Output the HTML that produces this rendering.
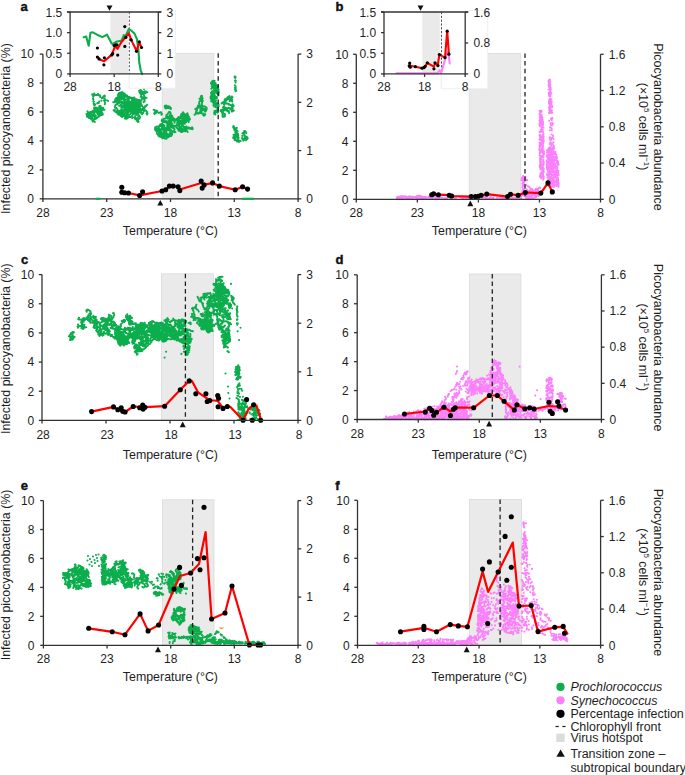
<!DOCTYPE html>
<html><head><meta charset="utf-8"><style>html,body{margin:0;padding:0;background:#fff;overflow:hidden}svg{display:block}</style></head>
<body><svg width="685" height="775" viewBox="0 0 685 775" font-family="Liberation Sans, sans-serif"><text x="20.50" y="10.70" font-size="13.0" text-anchor="start" fill="#111" font-weight="bold" stroke="#111" stroke-width="0.4">a</text>
<text x="335.50" y="10.70" font-size="13.0" text-anchor="start" fill="#111" font-weight="bold" stroke="#111" stroke-width="0.4">b</text>
<text x="21.00" y="264.20" font-size="13.0" text-anchor="start" fill="#111" font-weight="bold" stroke="#111" stroke-width="0.4">c</text>
<text x="335.50" y="264.20" font-size="13.0" text-anchor="start" fill="#111" font-weight="bold" stroke="#111" stroke-width="0.4">d</text>
<text x="20.80" y="489.80" font-size="13.0" text-anchor="start" fill="#111" font-weight="bold" stroke="#111" stroke-width="0.4">e</text>
<text x="335.20" y="489.80" font-size="13.0" text-anchor="start" fill="#111" font-weight="bold" stroke="#111" stroke-width="0.4">f</text>
<rect x="162.20" y="53.30" width="51.60" height="145.50" fill="#eaeaea" stroke="#dadada" stroke-width="0.8"/>
<rect x="469.20" y="53.50" width="51.50" height="145.80" fill="#eaeaea" stroke="#dadada" stroke-width="0.8"/>
<rect x="161.40" y="273.80" width="52.10" height="146.60" fill="#eaeaea" stroke="#dadada" stroke-width="0.8"/>
<rect x="469.50" y="274.00" width="51.40" height="145.50" fill="#eaeaea" stroke="#dadada" stroke-width="0.8"/>
<rect x="162.40" y="499.80" width="51.60" height="145.50" fill="#eaeaea" stroke="#dadada" stroke-width="0.8"/>
<rect x="469.50" y="499.50" width="52.10" height="145.80" fill="#eaeaea" stroke="#dadada" stroke-width="0.8"/>
<path d="M92.1 111.5h0m-.8 .8h0m-.7 .2h0m-1-.1h0m11.8-2.7h0m-.9-.1h0m-.7-1.2h0m.3-.8h0m.5-1.1h0m-1.2-.3h0m1.1-.1h0m-.9 .3h0m-.4 .5h0m-.1 1.1h0m-1.2 .7h0m-1 .4h0m-.6 .3h0m-1.1 .2h0m-.8-.1h0m-.1-.7h0m-.1-1.1h0m-5.2 10.2h0m.5-.1h0m1.2-.5h0m.9-.8h0m.8-.9h0m.9-1.1h0m1-.8h0m0-.9h0m-1-1.1h0m.7-.9h0m.8-.5h0m1.2-.1h0m1.4 .5h0m.5 1h0m.7-.1h0m.7-.2h0m1.1 .3h0m.8 .1h0m.6 .3h0m.6 1.3h0m.3 1.2h0m-8.6-3.1h0m-.5-.2h0m-.4-.4h0m-.4 9.8h0m.8 .6h0m1.2 .7h0m-1.1-.7h0m-1 .1h0m.4-.7h0m.8-.7h0m.3-1.2h0m1.1 .2h0m.5-.3h0m.9-.4h0m-.8-.5h0m-.1-1.4h0m0-.8h0m7-1.2h0m-.5 .3h0m-.6 .3h0m-10.8-1.1h0m-.2 .6h0m-.9 1.1h0m-1.1 .3h0m-1.1 .7h0m.4 .3h0m7.8 .6h0m-.9-.2h0m-.7-1h0m-.2-.7h0m-1.1-.7h0m.7-1h0m-.2-.6h0m-.2-.9h0m-1.5-.3h0m-.7-.4h0m.2 2.6h0m-.6 .5h0m-.6 .8h0m-1 .4h0m12.6-8.4h0m-.6 .9h0m-.3 1.3h0m-1 .5h0m-.2 .8h0m-.6-.4h0m-.5-.1h0m-.7-.1h0m-1.4-.2h0m-.6 .4h0m-.8 1.2h0m-.5 .1h0m-.8 .8h0m.1 1.1h0m-.3 .6h0m-.6 1.2h0m-.3 1.4h0m-.4 1.3h0m-.4 1.4h0m.1-.6h0m-.6-.5h0m-.6 0h0m-.4-.6h0m-.2-1.1h0m.9-.8h0m.6-.5h0m.7 0h0m.8 .5h0m1.3 .4h0m1 .2h0m.9 1.1h0m.9-.2h0m.9-.7h0m.5-.3h0m1-.6h0m1.2-.8h0m.5-.6h0m.1-.7h0m-6-3.7h0m.2-.5h0m.2-1h0m-.2-1.3h0m-1.3 .5h0m.2 .6h0m7.2 5.8h0m.9 .3h0m-.4-.8h0m-.6-1.1h0m-1.2-.3h0m-.5-.2h0m-1 .7h0m-.5 .9h0m-.3 .5h0m.3 .7h0m.7 .9h0m-.2-1.3h0m.9-.4h0m1.5-.1h0m.6-.6h0m-.3-1.1h0m-.1-1.1h0m.3-1.2h0m.9-1.1h0m.4-1.3h0m-.2 .6h0m.3 .4h0m.8 1h0m.6 0h0m-1.3-.1h0m-1.1-.4h0m-1.1 .2h0m-.7 .4h0m-.6 .6h0m-1.1-.2h0m-1-1.1h0m-.3-.9h0m-.4-.6h0m-.2 1.1h0m.1 1h0m.5 1h0m-.5 .9h0m-9.8 5h0m.4-1h0m.4-1.4h0m.3-.5h0m.7-1.2h0m-.7-.4h0m-.6-1h0m.4 1.3h0m.1 .7h0m-.1 1.4h0m-.4 1.4h0m-.6-.6h0m0-.9h0m-.4-.4h0m1.4 .2h0m.4-.3h0m.6-.2h0m1.1-.6h0m.5-.4h0m0-.6h0m1.1 .1h0m1.3 .5h0m1.5 .2h0m.1 1h0m.8 1.3h0m0 1.1h0m.4 1.1h0m.3 1.2h0m.6-.2h0m6-4.1h0m-.7-.5h0m-.8-.3h0m-.7-.3h0m-.9 0h0m-.5 .4h0m-1.5-.1h0m-.5-.9h0m-.5-.8h0m.7-1h0m.8 .5h0m.9 .2h0m1.1 .5h0m.6 1.1h0m-6.9-18.1h0m.2 6.6h0m-.8-5.5h0m1.2 9.3h0m-1.3-7.1h0m.4 1.4h0m.3 2.3h0m.5 1.7h0m-.6-7.5h0m-.2-2.1h0m0 7.6h0m-1.2-7.5h0m.9 1.8h0m.6 7.8h0m-.3-7.3h0m-1.1-1.8h0m3.6 .3h0m-2.5-.7h0m.9-.9h0m4 1.6h0m-.1-.2h0m-1.4 .2h0m1.2-1.1h0m.7 1h0m-3.7 0h0m5.3 1.9h0m-.4-1.6h0m.2 1.3h0m1.8 1.7h0m-2.4-2.8h0m-.1-.2h0m4.1 1.1h0m-.7 .9h0m.1 .1h0m-.5 .5h0m.9-1.1h0m1.5-.5h0m0-.3h0m0 8.2h0m0-2.1h0m-.9-1.9h0m.8-1.8h0m-.9-.7h0m.2-1.2h0m.9 3.7h0m.2 2.9h0m-.4-1.3h0m.9-1.8h0m-1.1-3.9h0m-.7 .1h0m.8-.7h0m-5.4 6h0m-1.3 1.3h0m-.2 .4h0m3.7-2.4h0m-4.2 2.5h0m.2-.1h0m1.3-.3h0m-3.4 1.7h0m12.7-3.6h0m-.5-.5h0m29.8-.7h0m-1.1 .5h0m-1 .4h0m-.6 .4h0m-.8 .6h0m-.6 .9h0m-.4 .3h0m-1.4 .3h0m-1 .4h0m-.7 .3h0m0 1.1h0m.1 1.2h0m.8 .2h0m1 .7h0m.3 1.4h0m.3 .4h0m-11 4.1h0m1.3-.2h0m.1 .9h0m.4 .2h0m.1 .7h0m0 .7h0m-.4 .8h0m-.3 .8h0m-.5-.8h0m-1-.2h0m.7-.8h0m.5-.4h0m.1-.8h0m-.2-.9h0m-.3-.7h0m.9-.5h0m.3-.3h0m.4-.5h0m-.2-.5h0m.1-.5h0m.9-.6h0m.6-1h0m-.1-1.3h0m0-1.1h0m-.5-1.3h0m-.6-1h0m-.4-1.1h0m-.5-.6h0m10.2 10.1h0m.4-.2h0m1.1 0h0m1.1-.7h0m1.5-.2h0m.8-.5h0m.6-.3h0m.8-.4h0m.2-.5h0m0-1.4h0m.5-1.2h0m.5-.7h0m.8-.4h0m.1-.6h0m-.6-1.3h0m-.2-.4h0m-.6-1h0m-.9 .2h0m-.9 .2h0m-.6 .7h0m-1 .6h0m-.9 .8h0m-.9 1.1h0m.5 .6h0m1.3 .3h0m.6 .8h0m-.2 .5h0m-.9 .5h0m-1.1 .7h0m-.3 .8h0m-.1 .8h0m.6 1.3h0m.7 1.1h0m.2 .6h0m.3 1h0m-1 1.1h0m-.4 1.2h0m-1.7-9.1h0m.2-.6h0m.7 0h0m.4 .7h0m.8 1.2h0m0 .6h0m.4 .5h0m-.5 .9h0m-.1 1.3h0m-.5 .8h0m-.8 .7h0m-.9 .3h0m-.6 1.4h0m0 .5h0m.5 .8h0m-.4 .8h0m.5-.8h0m-.5-.3h0m-.4-.4h0m-1.4 .5h0m-1-.1h0m-.6 .2h0m-1.2 .8h0m-1 .9h0m-10.3-10.7h0m.8 .9h0m.3 .6h0m.3 1.1h0m.5 .2h0m.9 .4h0m1.2 .5h0m.5 .7h0m.6 1h0m-.9 .9h0m-.8 .9h0m-.2-1.3h0m-.8-1h0m-.4-.4h0m12.5-9.7h0m.7 .3h0m1.3 0h0m.5 .2h0m.6-.5h0m-.3-.9h0m-.3-.8h0m1.1-1h0m.6-.7h0m.5-.2h0m.2 .8h0m.5 1.3h0m-.9 1.1h0m-.5-.5h0m-.1-.6h0m-1.3-.4h0m-.4-.6h0m.1-1h0m-1.3-.6h0m-.5-.9h0m-1-.3h0m-.8-.6h0m-.6-.2h0m-1.4 0h0m-1.4-.1h0m-.9 0h0m-.7 .6h0m-.6 1.3h0m-.2 1.4h0m.5 .7h0m.3 1.1h0m-.3 1h0m-.2 1.3h0m.2 .8h0m.1 1.2h0m-.5 .6h0m0 .6h0m.5 .3h0m.6-.5h0m1.2-.8h0m.7 0h0m1.5 0h0m1.1 1h0m.9 .4h0m-3.2-3.3h0m.5-.3h0m.6-.9h0m.9-.7h0m.5 0h0m1.4 .5h0m.8-.8h0m.2-.5h0m0-1.1h0m.9-1h0m.8-1.1h0m.6-.9h0m-1.3 .2h0m-7.7 3.5h0m.6 .2h0m.8 .7h0m.2 .7h0m.3 .4h0m1.1 1h0m0 1h0m-.5 .6h0m-.3 1.3h0m.7 .1h0m.6 .4h0m1.3 .4h0m.5 .4h0m.2 1.2h0m.3 1.4h0m-.1 .8h0m-14.2-11.7h0m.6 1h0m-.3 1.3h0m0 .7h0m-.8 1.1h0m-.8 .4h0m-.4 1.3h0m-.3 1.4h0m1.2 .6h0m.9-3.6h0m1.2-.8h0m1.2-.8h0m-.9-1h0m-1.3-.5h0m-.5-.4h0m-.9 .2h0m-.8-.2h0m.4-1.2h0m.9-1h0m.7-.7h0m.4-.3h0m.2-.5h0m1.1-.1h0m1.1-.6h0m1.5 .3h0m1.3-.5h0m.1-.5h0m1.1-.7h0m.8-1h0m-.3-.6h0m-.6 1h0m-.6 .7h0m-1.1 0h0m-.7 .1h0m-1.2 .2h0m-.5-.6h0m-.5-.6h0m.4-1.4h0m1.1-.2h0m.8 .7h0m.9-.1h0m.6-.2h0m-.2-.6h0m-1.3 .7h0m-.3 .9h0m-.3 1.3h0m-.8-.5h0m5.8 12.7h0m.9-.7h0m.3-1h0m-.1-.9h0m.8-.7h0m.8-1.1h0m.1-.9h0m.2-.7h0m.1-1h0m-.3-1.4h0m-.5-.5h0m-.2-1.3h0m-.6-.9h0m-1-1h0m-1.2 0h0m-.9-.3h0m-.7 .1h0m-.3-1.1h0m-.4-1h0m-2.4 20.4h0m.5 .1h0m.5 .5h0m.8 .8h0m.6 .4h0m1.1 .5h0m1.3 0h0m.8 .2h0m.5-.1h0m.4-.5h0m11.4 0h0m.5 .4h0m.9 .4h0m.4 1.2h0m-.7 1.1h0m-1 1h0m-.4 .8h0m-.6 .3h0m-10.8-15h0m-.4-.5h0m.3-.8h0m.4-.7h0m.3-1.3h0m.3-.5h0m.1-1.2h0m-.5-1.1h0m.3-1.1h0m1.2-.2h0m.9-.1h0m1.2-.2h0m.6 .2h0m.4 1.1h0m1.1 11.6h0m.9-.5h0m.7-.8h0m1.5-.4h0m.4-1h0m.2-.9h0m.1-.5h0m-.7-.8h0m-1.1-.4h0m-.5-.8h0m-1.2 .1h0m-.6 0h0m-.6 .2h0m-.8 .8h0m-.7 .9h0m-.7 1h0m-.5 0h0m-.6-.3h0m-.8-1.1h0m-1.1 .4h0m11 10.7h0m1 1h0m-.7 .1h0m-.6 .4h0m-.2 .8h0m-.5 .9h0m1.4-13.4h0m.5 .8h0m-.1 1.4h0m-.4 .6h0m-.9 .5h0m-.7 1h0m.6 .8h0m.2 1.3h0m-5.7-10.1h0m-1.2 .1h0m-.3-.5h0m.6-1.3h0m.7-.7h0m.9-.8h0m1-.4h0m1.1-.8h0m.8 .9h0m1.5 0h0m-.4-.9h0m-.2 1.1h0m-.4 .6h0m.6 .9h0m-.6 1.3h0m-.8 .7h0m-.7 .8h0m-.1 .6h0m-.2 .6h0m-.3 1.1h0m-.3 .7h0m-.6-.6h0m-.8 0h0m-.9 0h0m-1.1-.1h0m-.6-.2h0m-.5 .5h0m-.6 1h0m-.2 .6h0m-.3 .6h0m-1 .2h0m-.9 0h0m-1.1-.5h0m-.6 .4h0m-.8 .6h0m14.9-6h0m.6-.4h0m.9-.2h0m.9 .2h0m.5 .3h0m.4 .7h0m-.2 1h0m.8 .4h0m.8 .9h0m.3 .7h0m-21.6-2.7h0m5.7 8.8h0m.1 .6h0m.2 .8h0m-.3 .6h0m-.8 .9h0m-1.2 .8h0m-.4 1h0m.5-.7h0m.5-.9h0m1-.3h0m1-.8h0m0-1.4h0m-1-.5h0m-11.4-2.4h0m1-.2h0m.4 .3h0m.6 .9h0m-.2 1h0m.8-1.2h0m1.2-.9h0m.8-.5h0m1.1-.7h0m.2-1.1h0m.2-1.1h0m.4-1.4h0m.7-.2h0m1.5 .2h0m.5 .4h0m.8 .1h0m.8 .8h0m9.2 9.9h0m-.8 .7h0m1.1 .8h0m1 .5h0m.7 .3h0m-.3-.7h0m-.9-.6h0m-.8 .1h0m1 .4h0m.8 .4h0m.6 .9h0m.6 1.1h0m-.6 .3h0m-18.2-27.2h0m-.2-.7h0m.1-.5h0m.7 0h0m1.1-.5h0m.2-.8h0m-.7 .2h0m-.5 .2h0m-1.2 .4h0m-.4 .4h0m-.4 .6h0m-.4 .6h0m.1 1h0m.9 .9h0m1.2 .5h0m.9 1.1h0m0 .7h0m.9 .1h0m.3-.5h0m.1-.7h0m-.2-1.4h0m.4-1.3h0m.2-1.3h0m-.1-.5h0m-.6-1.3h0m.9 1.1h0m12.7 20.4h0m.7-.5h0m1-.1h0m.8-1.3h0m1.3-.4h0m.5 .3h0m.7 1.3h0m.6 .4h0m.6-.1h0m-.5-.5h0m-.8-.7h0m-.4-.5h0m-.7 .3h0m-.7 .8h0m-.6 1.2h0m.5 1.4h0m-3.5-8.5h0m.7-.1h0m1.5 0h0m1.2 .8h0m.6-.3h0m.6 .6h0m-.2 .6h0m0 .8h0m.1 .7h0m1.1 .9h0m.6 0h0m.5-.1h0m1-.9h0m.7-.2h0m.6 0h0m0-1.1h0m.4-.8h0m.2-.7h0m.6-.7h0m1.1-.5h0m.7-.8h0m-1 1.1h0m-1 .9h0m-.4 .3h0m-.2 .7h0m-8.5-4.5h0m1.4 .3h0m.4-.7h0m.9 .6h0m.9-.3h0m.6-.5h0m.4-.7h0m-.1 .7h0m-.1 1.1h0m-.3 .9h0m-1.1 .7h0m-.9 1h0m-5-4.8h0m-.1-.9h0m.1-1.1h0m1.1-.4h0m-.8-.3h0m-6.9 13.7h0m.8-.4h0m.4-.3h0m.4-.9h0m1.2 0h0m.2-.8h0m-1 .7h0m-1.1 .6h0m-.8 .1h0m-.8-.5h0m-.4-.4h0m-1.1-.1h0m-.5 1h0m-.2 1h0m.5 1h0m-.3 1h0m-.1 1.2h0m-1.2 .8h0m-.9 .1h0m.5-.6h0m0-1.3h0m.7-.7h0m.4-.8h0m1.2-.3h0m1.1 .6h0m1-.1h0m.7 .6h0m.5 .8h0m-.3 .7h0m-.6 .3h0m-.6 .9h0m.1 .8h0m-.1 .5h0m-.4 .5h0m.9-.4h0m.1-.5h0m0-1.1h0m.3-.8h0m-.6-1h0m.1-.7h0m.2-.8h0m.7-.7h0m.6-.1h0m.6-.6h0m1.2-.4h0m.9-.5h0m1.2-.7h0m.4-.7h0m.9-.7h0m1.1-.6h0m1-.2h0m.4-.7h0m.8-.8h0m.6-.7h0m1.3-.6h0m.3-.5h0m-.2-.8h0m.2-.7h0m-.1-1h0m-.2-1h0m.2-.7h0m.3-.5h0m-.6 .2h0m-1.1 .5h0m-.1-.6h0m-1.5 .1h0m-1.1-.2h0m-.4-.7h0m-.4-.4h0m-15.8 4.2h0m1.2-.3h0m1.1-.7h0m-.6-1.2h0m-.3-.7h0m-.5-1.2h0m.5-1.1h0m-.4-.7h0m27.4 16h0m.7 .5h0m-.2 .7h0m.5-1h0m-.3-1.4h0m-.8-.8h0m-1.1-.9h0m-.4-.3h0m-.7-.3h0m-.2-.9h0m-1.2-.2h0m-.5 .3h0m-.7 .2h0m-1.1-.3h0m-1.5-.1h0m-.8-.7h0m-.7 .2h0m0 1.2h0m-.8 .3h0m-.2 .5h0m0 .7h0m-.7 .6h0m-.8 .9h0m-.7 .3h0m-1.3 .5h0m-1.2-.9h0m-.9 1.2h0m-1 1.1h0m-.6-.2h0m-.7 .1h0m-1-.4h0m-.8 .1h0m-1.1-.8h0m-.8-17h0m.8-.3h0m.5-.2h0m.9-.4h0m-.6-.2h0m-.8-.1h0m-1.4 .4h0m-.9 0h0m-.4 .7h0m-.4 .5h0m-.6 .1h0m-1.1 .4h0m-.8-.1h0m-.4-3.4h0m.8 .4h0m.9 .9h0m.2 .6h0m.6 .3h0m-4.5 4.7h0m.2-1h0m-.1-.9h0m-.7-.8h0m-.8 0h0m-1 .9h0m.7-.7h0m3.1 7.5h0m.6-.2h0m.9-.8h0m1.1-.8h0m1.4-.4h0m.7-.3h0m1.3-.7h0m1 .6h0m.9 1.1h0m.5 .5h0m.9 1.2h0m-.1 1h0m0 .7h0m-.4 1.4h0m-.1 1h0m.2 .5h0m.5 .9h0m-9.2-16.4h0m-1.2-.6h0m.6-.3h0m1.2-.5h0m.6 .2h0m.1 .7h0m.2 .8h0m.9 .7h0m.5 .2h0m.6-.1h0m.7-.1h0m.9-.9h0m.7-.9h0m-.5 .1h0m-.9 .6h0m-.6 1.3h0m.5 .8h0m.4 .9h0m.6 1.1h0m.7 .2h0m5.9 9.4h0m-.4 .3h0m-.2 .9h0m-.7 1h0m-2.5 4.1h0m.2-.9h0m-1-.9h0m-.5-.3h0m-12.8-10.7h0m.6 0h0m1-.1h0m1.3-.3h0m.4-.6h0m.7-.6h0m.7-.4h0m.6 0h0m.5 1h0m.7 0h0m1.3 .7h0m.7 .8h0m0 1.1h0m-.2 1.1h0m-.1 1.4h0m-.2 1.1h0m.7 .7h0m-.4 .7h0m-.1 .7h0m-.4 1.2h0m.4 1.5h0m-.4 1h0m-.4 1.2h0m-.6-.4h0m-.8-1.2h0m-.8-.6h0m-.9 .6h0m.3 .6h0m.4 1h0m-.6-.9h0m0-1.3h0m-1.2 0h0m-.9-.2h0m-.5-.4h0m-.4-.4h0m-.5-.4h0m-.6-.6h0m1.3-.4h0m11.3 4.2h0m.8-.9h0m.8-.7h0m.5-.5h0m.6-1.2h0m.7-1h0m.7-.8h0m.6-.4h0m.6-1.4h0m-.8-.1h0m-1.4 .1h0m-1-.7h0m-.6 .1h0m-.6-.2h0m-.9-.3h0m-.7-1h0m-.8-.5h0m-1.2-.9h0m-.7-.6h0m-.6-.8h0m-.6-.9h0m-.9 .1h0m-.6-.3h0m2.3 10.9h0m.4 1.2h0m.3 .4h0m11.8-4.8h0m-.6-.9h0m-.7-.7h0m-1.2 .2h0m-.7 .6h0m-1.1 .5h0m-1.2-.4h0m-.2 .9h0m.7 1.4h0m12.2 3.9h0m.7-1h0m.5-.6h0m.5-1.4h0m.9-.7h0m1.4 .2h0m-.2-18.3h0m.2-.7h0m1.2 .5h0m-1.3-.6h0m-1.1 .2h0m-.6-.2h0m-1.4 .1h0m-.2 .5h0m.8 .6h0m.8-.7h0m.7 0h0m.9 .5h0m-1 .8h0m-1 .4h0m-.9-.5h0m-.9-1.2h0m0-.7h0m-1-.4h0m-1.1 .6h0m-.3 .5h0m.9 1.7h0m-.2-1.4h0m-.4-.5h0m-.3-.7h0m.1 1.2h0m.2 .6h0m-.7-1.3h0m.6-.8h0m.4-.8h0m-1.1 .7h0m.6 1.2h0m6.7 5.7h0m-1.1 .6h0m-1.5-.2h0m-1-.7h0m-.7 .4h0m-.5 1.3h0m-.6 .9h0m-1.2 .5h0m1.2-.2h0m.7-.6h0m.6-1.4h0m.8-1.1h0m-1.4-.5h0m2.8-.1h0m-.2 1.1h0m-.4-8.9h0m.7 2.4h0m-.4 8.6h0m-.3-2.8h0m.2-4.7h0m.5 8.8h0m-.7-5.7h0m.2-3.5h0m-.1 1.1h0m.1 6h0m-.6-1.7h0m.4-3.7h0m-.4 1h0m.1 7.4h0m-.7-8.8h0m.5 8.8h0m-2.2-5.2h0m.8-2.9h0m-1.5-3.5h0m.8 1.3h0m-.7-1.8h0m.1 6.8h0m.8-3.8h0m.3-.6h0m-1.8-1.9h0m1.1 5.3h0m14.1 15.8h0m-.5 .9h0m-.6 .8h0m.4 .8h0m.9-1h0m.8-.3h0m.3-.5h0m.7-1.2h0m4.3 2.9h0m-.2 .8h0m.6-.7h0m-.7-1.1h0m-.3-.8h0m-.8 .2h0m-1.3 .6h0m-1.3-.8h0m-.7-1.2h0m-.4-.5h0m-1.2 0h0m-1.1-.4h0m-.5-.3h0m28.6 6.5h0m.1-.8h0m0-.7h0m-.4-1h0m.9-.6h0m.2-.9h0m.7 1h0m.6 .7h0m.6 .9h0m.9 1h0m.2 .6h0m.7 .3h0m.3 .8h0m.5 1.2h0m.8 .5h0m.7 0h0m.8 .1h0m-.2-.9h0m-.8 .9h0m-.5 .7h0m0 1.1h0m.3 .9h0m-24.4 4.5h0m-.8 .8h0m-.9 .5h0m-.6 .5h0m-.4 1.1h0m-.7 1h0m-.6 .7h0m-1.1 .3h0m-.4 .4h0m4.1-4.4h0m.3 .5h0m.5 .4h0m.6 .7h0m1.4 .4h0m.7 1h0m.2 1h0m-.3 1.2h0m.7 1h0m.9 .7h0m.2 .6h0m.5 1.1h0m.1 1h0m-1.1-.4h0m-1-.6h0m-.7-.5h0m-.7-.2h0m-.8 .1h0m.1-1h0m-.1-.9h0m-.4-1.1h0m0-1.1h0m.1-1.3h0m.3-.9h0m.9-.5h0m.5 .9h0m.6 .1h0m.9 .1h0m1-.2h0m1.2-.3h0m.3 .6h0m.4 .3h0m.4 .5h0m.8 .1h0m.9 .6h0m1.2 0h0m.6 .7h0m.8 .2h0m-1-.8h0m-1.2 .1h0m-.6 1.4h0m-.2 .7h0m.2 .9h0m-.7 .8h0m-.6 .4h0m-1.3-.5h0m-.6-.2h0m-4.1 .2h0m-.4 1.1h0m.2 1.4h0m.2 .7h0m-.7-1h0m.1-.5h0m.5-1.2h0m.9-.7h0m1.2 0h0m1-.1h0m1.2-.1h0m.5-.2h0m-.1 .6h0m.1 .7h0m.5 0h0m1.2 0h0m-.2-.7h0m-.3-1.3h0m-2-3.9h0m.5-1h0m.7-.4h0m4-7.7h0m.7 .5h0m0 1.2h0m8.7 .2h0m.7-.6h0m.1-.6h0m-1-.9h0m-1.3 0h0m-.9 .4h0m-1.4 .2h0m-1-.2h0m-.6-.5h0m-1-.8h0m.7 1h0m1.2 .9h0m.6 .5h0m-13.1 13.6h0m.5-1.4h0m-.5-1.3h0m-.6-.4h0m-1-.1h0m-.8 .1h0m-.6 .1h0m-.6 .5h0m.3 .8h0m-.8 .7h0m-.4 .5h0m-1.3 .3h0m-1.2-.1h0m-1.1-.8h0m-.9-.9h0m-.4-.7h0m.2-1.3h0m-.3-1.4h0m-.5-.9h0m-.4-1h0m-.8-.2h0m0 .7h0m.1 .8h0m8.8-8.3h0m-1.1 .8h0m-.8 1.1h0m-.4 1h0m-.3 .4h0m.3 1.5h0m.3 1.3h0m1.2-.9h0m.2-1.1h0m-.4-.8h0m-.5 .1h0m-.3 .6h0m-1.2 .2h0m-.6-.1h0m-.6 .1h0m-1.3 .8h0m-.2 1h0m-.2 1h0m-.3 .4h0m-.2 1.1h0m-1 .6h0m-.4 .4h0m-.2-1.1h0m26.1-6.7h0m.7-.4h0m.8 .4h0m1.2 .5h0m-5.9-.6h0m1.1 .9h0m-.6 .9h0m.1 .7h0m-.6-.1h0m-1 .2h0m-1-.7h0m-.9 .4h0m-1.1 .4h0m-1.1 .4h0m-1.1-.5h0m-1.2 .4h0m-1.4 0h0m-.9-.4h0m-1.4-.2h0m-.5-.5h0m15-.2h0m-.6-.8h0m-.3-1.2h0m-.1-1.1h0m1.1-1h0m.6-1.1h0m-.6-1h0m-.5-.4h0m-.4-.3h0m-.6-.6h0m.3-1.4h0m.1-.7h0m-.7 1.3h0m-.6 1h0m-1.3 .7h0m-.6 1.1h0m-.3 .5h0m-8.2 4.9h0m14.7-3.6h0m1.3-.1h0m.8-.8h0m.7-.7h0m1.1-.3h0m.6-.3h0m.6 0h0m-1.3 0h0m-1.3-.3h0m-.6-.2h0m-.2-1.1h0m.7 .6h0m1.5-.1h0m.8-1.2h0m-23.2 11.4h0m1-.5h0m.9-.3h0m-.4-.9h0m0-.7h0m.1-.8h0m.3-.6h0m-.4-1.1h0m-1.1-.8h0m-1.1-.7h0m-.5-.5h0m-.6-.3h0m-.3-1.1h0m.1-.9h0m15.5 4.4h0m.7-.7h0m1.2-.1h0m.4-.4h0m-1-.9h0m-.7-.4h0m-.5-1.4h0m.2-.5h0m-1.1-.9h0m-.8 .1h0m.4 1.1h0m0 .6h0m-.1 .8h0m.7 1.1h0m1.3 .6h0m.7 .5h0m.4 .6h0m1.2 .7h0m.5 .8h0m-18 10.3h0m.1-1.3h0m-.8-.7h0m16.3-10.1h0m-.6 .2h0m-.8 .3h0m-1.1 .1h0m-.8-.6h0m-2.3 8.6h0m.6 .3h0m-12.6 6.2h0m-.5-.1h0m-.9-1h0m-.2-1.1h0m-1.4-.5h0m-.9-.3h0m1.2-.3h0m1.1-1h0m.5-.9h0m-.1-.6h0m-.3-1.3h0m-.3-.7h0m.3-.4h0m1.2-.3h0m.8-.3h0m-.3-.9h0m-.3-1.3h0m0-.6h0m-.3-1h0m-.9-.6h0m-1.4-.4h0m26.4 1.9h0m-.3 1h0m-1.3 .4h0m-.5 .6h0m-.3 .5h0m0 1.5h0m-3.2-14.9h0m2 9.7h0m-.1-1.4h0m.1-1.4h0m1.2-.7h0m1.4 .4h0m.6 .1h0m.1-1.1h0m-1.1-.8h0m-.4-.7h0m-.6-1.1h0m0-1.4h0m-.6-1.1h0m-.6-1h0m-.3-1.4h0m-.6 .1h0m-.8 .4h0m.8 .7h0m1.2-.2h0m.6 .1h0m1.5 .4h0m.9-.6h0m.9 .7h0m1 .9h0m-.2-.5h0m.1-.7h0m-.5-1h0m-.1-.6h0m-.7 .7h0m.6 1.1h0m-.1 1h0m1.2 .4h0m-1.1-.4h0m-.7 .1h0m-.6 .6h0m-24.6 18.8h0m-1-.7h0m.5-1h0m.5-.4h0m-3.9-4.1h0m.9 .2h0m.6 .8h0m.7 1h0m.2 1.3h0m-.2 1.3h0m-.5 .6h0m-.5 1.4h0m.5-.5h0m1.2-.5h0m.7-1.2h0m-.1-.9h0m-.3-1.5h0m.3-1.4h0m-.3-.5h0m-.7-.6h0m-.6-.4h0m-.5-.6h0m-.4-.5h0m-.2-.7h0m.3-.6h0m1 0h0m.6-.2h0m-.1-.5h0m.1-.7h0m.6-.5h0m.7-.6h0m1.1 1h0m.1 .7h0m1.3 .1h0m.5 .1h0m.6 12.8h0m1.1 .3h0m.6-.2h0m.1-1.2h0m-.8-1.3h0m-.3-1h0m.4-1.4h0m-1.1-.6h0m-.3-.6h0m0-.5h0m.7-.5h0m.5 .2h0m.2-1.4h0m.5 0h0m.4-6.4h0m1.1 1h0m-.2 .7h0m-.5 1h0m-.1 1.3h0m-.2 .6h0m-1.2 .1h0m-.5 0h0m5.6 1.7h0m-.9 1.1h0m0 1.3h0m-.6 1.3h0m-.2 .7h0m-.4 .5h0m-.9 1h0m-.2 .5h0m-.7-.1h0m-.8-.8h0m-1.3-.1h0m-1.4 .2h0m-1.2 .5h0m-1.2 .2h0m-1.2 .3h0m-.5-1.3h0m-1-.9h0m.3-.6h0m.8 .4h0m.7-.2h0m.4 .5h0m-1.4 .2h0m-1.3 .1h0m1.2 .1h0m1.4 .4h0m13.9-5.9h0m-.4-.6h0m0-.6h0m-.6-.5h0m-.7-.2h0m-1.1-.1h0m-1.2-.7h0m-.3-.5h0m.4-1h0m-.4-1.2h0m.2-.8h0m.7-.8h0m.6 .4h0m.7 1.2h0m-.7 .6h0m-1.3 .3h0m-1.3 .4h0m-2.4-8h0m1 1.1h0m.6-.2h0m1.3-.7h0m1.3 .4h0m0-.8h0m.3-1.2h0m1.1 .5h0m.6 1.4h0m.1 .5h0m.8 .4h0m1.2 .5h0m.8 .8h0m.5 .3h0m1.2 .4h0m.9-.1h0m.5-.2h0m.5-.1h0m1.2 .5h0m.7 1.1h0m.2 .5h0m-.3 0h0m.4 1.5h0m.1 .5h0m.1 .7h0m.5 .6h0m.9 .7h0m.4 .4h0m.7 .1h0m.4-.4h0m1 .6h0m.4 .4h0m.3 .4h0m-.1 .8h0m-1 1h0m.3 1h0m1.5 .3h0m.5 .8h0m-16.3-7h0m.3-.8h0m-.1-1h0m12.6-6.5h0m1 .5h0m-26.7 12.4h0m-1 .7h0m-.9 .5h0m.9 .1h0m.6-.3h0m1.2-.1h0m1.4 .4h0m.8-.9h0m-.8-.7h0m-1.3-.2h0m-1.3-.1h0m-1.1 .1h0m-.8-.3h0m-.4-1h0m.9-1.2h0m-1.5 .8h0m14.7 3h0m.1-.8h0m-.3-.5h0m-.5-1h0m-.7-.5h0m-.7-.5h0m-.9 .6h0m21.1-6.6h0m.8-.4h0m-1.4-.7h0m-.4-.8h0m-.3-.5h0m-.7-1.2h0m-.8-.4h0m-.3 .5h0m-1.4 .4h0m-1.1 .7h0m-.7-.1h0m-1.1-.3h0m-15.1 .1h0m.7-.6h0m.1-1.4h0m.1-1.3h0m.7-.5h0m.7-.6h0m.7-1.3h0m.7-1h0m1 .5h0m.1 .6h0m.3 .5h0m-.3 1.1h0m.2 .5h0m1.4 .6h0m-.8-.4h0m-1.1 .3h0m-.7 1h0m-1 .3h0m-.7 .1h0m15.9 3h0m.1-1h0m-.9-.6h0m-.7-.4h0m-.1-.8h0m1.3 3.1h0m-.7 .5h0m-.4-.5h0m2.2 9.2h0m-.7 .5h0m-1.1-.5h0m-.4-.5h0m-.4-.4h0m-.7-.3h0m-1 .5h0m-.7 1.3h0m0 .8h0m1.1 .1h0m1 .9h0m-.8-.1h0m-2-1.1h0m.8 .2h0m1.2 .3h0m-.4-.3h0m.6 .6h0m.6 .7h0m.5-.1h0m.7-.2h0m.1-.7h0m.4-1.4h0m-15.1-13h0m.1 .5h0m.6 .8h0m.8 1.1h0m.2 .8h0m-3 1.5h0m-.7-.2h0m-.8 .2h0m-.4-.3h0m-.9 .3h0m-.5-.1h0m-1.3 .1h0m-.4-.4h0m.4-1.4h0m-.2 1.4h0m1 .5h0m.7 .4h0m.8 .4h0m.6 .1h0m1.2 0h0m.8 0h0m1.4-.2h0m.2-1.1h0m1.4 .4h0m.3-1h0m0-1h0m.5 0h0m1 .1h0m.8 .2h0m.7-.6h0m.8-.2h0m-1.1 1h0m-.4 .3h0m-.6 .4h0m-.7 .6h0m-.8 .2h0m-.6 .8h0m.5 .9h0m.5 .7h0m-.5 .6h0m-1.4-.4h0m-1.4 0h0m-.4-.7h0m.1-.6h0m10.4-3.9h0m.1-.8h0m.8-1h0m.5 .8h0m-1.1 .9h0m-1 .2h0m2.1-.3h0m-.9 .4h0m-.6 .8h0m0 .6h0m.3 1.1h0m-.1 .6h0m-.2 1.2h0m-.1 .8h0m-.5 1h0m-1.1 .7h0m.3 1.3h0m.8 .8h0m.9 1h0m.9 .4h0m1.4 .3h0m1.1-.5h0m.1-1h0m-.3-.8h0m-1-.4h0m-.9 .7h0m-.4 1.3h0m-.4 .5h0m.1 1.2h0m.8 .1h0m1-.1h0m1.4-.6h0m1 .3h0m.8 .3h0m.7 .2h0m.5 .4h0m1-.1h0m.5-.2h0m.2-.9h0m.6-1.1h0m.9-.9h0m.5-.4h0m1.2 .2h0m1.4 .2h0m.8-.4h0m.5 0h0m.3 1h0m-.1 .7h0m.2-.6h0m-.7 .3h0m-.8 0h0m-.5-.3h0m-.8-.1h0m-.9-.2h0m-1.1-.1h0m-1.4 .1h0m-.5 .6h0m0 .6h0m-.5 1.2h0m-17.1-24.1h0m-1.2-.2h0m-1.4-.2h0m-.8-.5h0m3.5 .5h0m1.3 .6h0m.9 1h0m.2 1h0m-1.1-.9h0m-.7 .2h0m-.9-.2h0m-1.2 0h0m-1 .4h0m-.6-.2h0m-.6-1.2h0m.4-.6h0m1.1-.9h0m.8 .6h0m37.2 8.6h0m.9-.5h0m-.7 .6h0m-.5 1h0m-.4-1h0m.7-5.3h0m0 1h0m.8 1.2h0m.2-1.4h0m-1.3-.7h0m-1.3-.1h0m-3.2-3.6h0m.7 .5h0m1.1-.5h0m.6-.8h0m-.1-1.5h0m.3-1h0m0-.7h0m.7-1.1h0m-1.1-.3h0m-.6-.2h0m-.6 .3h0m-.9 .6h0m1.3 9.9h0m1.2-.7h0m1.1-.7h0m1.4-.5h0m.8-.6h0m-.5 .2h0m-1 .2h0m-.5 .1h0m-1.3-.5h0m-.3-.8h0m.4-.7h0m0-1.3h0m-.3-.6h0m-.2-.5h0m-1 6.1h0m.8 .8h0m0 .8h0m-.2 .8h0m1.4 .6h0m.5 1.3h0m.6 .2h0m.5 .2h0m.5-.2h0m-.6-1h0m-.7-.4h0m-1-.4h0m-1-.7h0m-.6 .4h0m-1.4-.1h0m-.9 .5h0m-.8-.2h0m-.8-.5h0m-1 .5h0m1.5 .1h0m.9-.3h0m1-.7h0m.8-.6h0m0-.7h0m.8-.9h0m.6-1.1h0m-.4-.8h0m-.6-.8h0m-.6-.3h0m-1.1-.2h0m-1-.9h0m.6-.3h0m-.1-.7h0m-.7 1.1h0m-.1 .9h0m.3 .7h0m-.9 .8h0m-.6-.2h0m-1.1 .6h0m.8 .3h0m.9 .7h0m0 .5h0m-1 .9h0m0 .9h0m-.2 .7h0m-.4 .9h0m-.2 .5h0m-.6 .2h0m4.7-8.6h0m.5 .8h0m.3 .7h0m1 .5h0m.9 .5h0m.8 .9h0m.9 .6h0m.6-.6h0m.7-.1h0m.8-.7h0m1-.7h0m-.8-.6h0m-1.1-.9h0m-1.1-.2h0m-1.1 .5h0m-.1 1h0m0 .6h0m.3 .4h0m1.1 .7h0m1.2 .7h0m.9 .6h0m.5-1.2h0m-1 .1h0m-5.3-.8h0m-.1-1.1h0m-.3-.8h0m-.2-1.3h0m-.3-1.3h0m-.3-1h0m.2-1.4h0m.9-.9h0m.9-.9h0m.7-.8h0m.8-.8h0m-.8-.2h0m-1 .4h0m.4-.8h0m1-.8h0m-.6-.1h0m.3 1.3h0m-1.5-.3h0m-.9 .6h0m1.4 .1h0m1.2-.1h0m-1.1 .4h0m.7-.3h0m.2-.7h0m.2-.6h0m-.4-.4h0m-.5-.2h0m.5 .4h0m-.8-1.1h0m1-.5h0m13.8 8h0m2.1 .2h0m-.6-.1h0m-1.1-.3h0m-.6-1.1h0m-.9 .1h0m1.6-14.4h0m.1-.8h0m1 .2h0m-.8-.2h0m-1.3-.6h0m-1.1 .3h0m-.2-.7h0m-.6-.6h0m-1.1-.8h0m-.5-.5h0m-.4-.4h0m-.3-.8h0m5.5 22.1h0m1.7 4.5h0m-1.1 .7h0m-.7-.1h0m-.4 .3h0m-.4 .7h0m-.1 .5h0m-.2 1h0m-.2 .9h0m-.9-.2h0m.1-27.4h0m-.9-.4h0m-1.1-.9h0m.4-1h0m.1-1.4h0m.6-1.3h0m.2 1.3h0m.5 .4h0m.9 0h0m.6 .4h0m-.9 1h0m-.5 .2h0m-1.2-.7h0m-.7-.5h0m-.5-1h0m.2 .7h0m0 .5h0m1.9-.1h0m1.3 .2h0m.3 .9h0m0 .8h0m.2 .8h0m.2 .6h0m-1.3 .6h0m-1.2 .5h0m-1.4 .1h0m-.7 .8h0m.8-1.2h0m.3-.9h0m.3-.6h0m.5-1.4h0m-.1-.7h0m-.6-.2h0m.5-1.2h0m1.1-.9h0m.5-.8h0m.8 33.7h0m-1-.6h0m0-.9h0m-.2-.8h0m1-.7h0m1.2-.9h0m.5 .5h0m-5.1-10.3h0m.9-17.6h0m-1.2-.5h0m-.5 .2h0m1.2-.6h0m.5-.5h0m.3-.9h0m-.2 .5h0m-.7 .8h0m-.5 .9h0m.6-.8h0m0-.9h0m.3 1.4h0m.5 1.1h0m.6 .5h0m.6 .3h0m.2 .8h0m.5 1h0m.2 1h0m.8-.2h0m.5-.5h0m0-1.3h0m.3 1h0m.1 1h0m-.3 1h0m.6 .3h0m.7 .2h0m.7 .6h0m0 1h0m-.3 1h0m-.5 .7h0m-1.1-.3h0m-.2-.7h0m-.1-.5h0m.5-1h0m-.5-1.4h0m-1-.2h0m-1 .6h0m-.5 1.2h0m1.2 8.2h0m.4-1.4h0m-.3-.4h0m-1.1 .2h0m-.8 .1h0m-1 .1h0m-1.4-.3h0m.6-.1h0m1 .5h0m-.2 .9h0m-.2 1h0m2.3 .8h0m.6 .7h0m1.1 .4h0m0 4h0m1.1-.9h0m1.1 .1h0m.4 .7h0m-.5-.5h0m-.9-.2h0m-1-1h0m-1-.4h0m-.7-.7h0m-.3-.5h0m.5 9.5h0m.6 .2h0m1 .5h0m.6 .6h0m.6 .7h0m.5-.5h0m-.2-1.1h0m-6-24.8h0m1.1-.1h0m-.1-.6h0m.5-1.3h0m0-.8h0m.1-.7h0m0-.6h0m-.1-.7h0m2.6 15.2h0m.9 .2h0m.1 .6h0m-.1 1h0m-1.3-.4h0m-.5-1.1h0m-.1-1.4h0m-.9-1.1h0m.3-.8h0m.1-1.5h0m0-1.1h0m.7-.1h0m-.1 1.1h0m2.4 .5h0m-.6 .5h0m.9 .9h0m.8 .1h0m-.4 17.9h0m-1-1h0m.9-1h0m-.6 1.3h0m-5-20.2h0m-.5 .4h0m-.9 1.2h0m.3 1.3h0m.4 .4h0m-.3 .9h0m-.4 1.3h0m-.4 .7h0m.1 1.1h0m.4 .8h0m.5 .9h0m1.3-.6h0m.3-.5h0m.6-1.3h0m-.3-.7h0m-.2-1.4h0m-.3-.7h0m1-.5h0m.7-.5h0m3.6 10.7h0m.3 1.2h0m.1 .6h0m-.5-.5h0m-1.1-.4h0m-1.3-.5h0m-.7-1.1h0m-.5-1h0m-1-.1h0m-1.2-10.1h0m1 .5h0m-.1 .6h0m-.4 1h0m.4 .4h0m4.6 13h0m-.5-.4h0m-1-.5h0m-1.1-.3h0m-1.1-.9h0m-.7-.6h0m.1-1.1h0m.1-.7h0m0-.5h0m-1-1h0m.3-1.2h0m-.9-.5h0m-.9 .6h0m.7-.3h0m1.1-.6h0m.5-1.1h0m1.3-.6h0m0-1.3h0m.4-.4h0m-3.3-13.2h0m1.1 .3h0m.8-.9h0m1.4 .5h0m.7 1.2h0m1.1 .8h0m1 .5h0m-.8 .7h0m-.7 .5h0m.1 .8h0m-.2 .7h0m-.4 .6h0m.1 .8h0m.5 .5h0m.9 1h0m.2-1.3h0m.7-.5h0m.1 1.4h0m.4 1.2h0m-.8 .6h0m-.2 .5h0m.4 .7h0m.3 .6h0m6.7 6.5h0m.6-.3h0m.9-1.1h0m.7-1h0m.5-.3h0m0-1.2h0m1-.8h0m-.9 .4h0m-1 .6h0m-.8 1h0m-1.4 .7h0m-.2 .7h0m.9-.5h0m3.4 13.5h0m-.2-1.4h0m.1-.7h0m-.9 .1h0m-.7 0h0m-4.3-3.4h0m.8-.4h0m.8 0h0m.7 .6h0m1.4 .1h0m.3 .6h0m.3 .9h0m-.5 .6h0m-1.3 .1h0m-1.4 .3h0m-.4-1h0m.7-1h0m.9-.2h0m.5 .9h0m1.1-.3h0m.7-.2h0m1.1-.8h0m1.2 .3h0m.2 .7h0m.8 .5h0m.4 .4h0m.7 .4h0m1.3 .5h0m.5-.1h0m-1.1 .5h0m-8.3-3.9h0m-.5-.7h0m.8-5.5h0m-.5 .5h0m-.8 .5h0m-.7 .2h0m-.4 .7h0m-.7 .5h0m2.6 1.4h0m-.3-.6h0m.6-1.2h0m.8 .2h0m.5 .3h0m.8-.1h0m1.2 .3h0m.9 .7h0m.8 .2h0m1.2 .6h0m.9 .4h0m1.4 .1h0m.6 .2h0m-.8 .9h0m-1 1h0m0 .9h0m-.4 .8h0m.3 1.4h0m.3 .7h0m-2.4-10.5h0m.5-1.1h0m.1-1.2h0m-.7-.4h0m-.6 .1h0m0 .6h0m.1-.6h0m.6-1h0m-.2-1.4h0m.5 .9h0m.5 .7h0m.8 .5h0m-.6 .2h0m.3 1.1h0m.8 .4h0m.5-.4h0m-.5 .8h0m-1.3 .4h0m-.5-.3h0m-6.4 13h0m-.6-1.3h0m-.3-.9h0m-1-.1h0m-1-.1h0m.4-1h0m.5-.2h0m.5 .3h0m.2 .7h0m.5 .5h0m.3 1.5h0m0 .9h0m-.6 1.3h0m.8 1h0m1.2 .1h0m.5 .2h0m-.8 .5h0m-1.5 0h0m1-.4h0m.5-.3h0m.9-1.1h0m.1-.8h0m-1.1-.4h0m-1-.3h0m-.8-.6h0m-.5-.7h0m.7-.5h0m.5-1h0m.7-1.3h0m.2-1h0m-.8-1.2h0m12.5-30h0m-.2 3.8h0m.1-.7h0m.2 2.1h0m-.2-4.8h0m-.8-1.1h0m.8 .3h0m-.5 .9h0m.2-.4h0m-.1 3.4h0m.3-2.8h0m.5 2.9h0m-.1 5.8h0m-.5 2h0m.5 .7h0m0 .6h0m-.1 .2h0m-.4-1h0m.4-1.1h0m-.6 1.5h0m1.2 1.3h0m-1.3-3.2h0m.6 3.5h0m-.6-5.9h0m.4 3h0m.6 2.9h0m-3.3 13.2h0m-.6 2.1h0m.1-.1h0m.4-9h0m-.3 4.3h0m.4 6.5h0m-.6-1.7h0m.1-9h0m.3 12.5h0m-.3-12.3h0m.6 10.9h0m.7-3.2h0m-1.5-4.4h0m0-4.3h0m5.5 43.5h0m-.4 .4h0m-.9-.5h0m-1.1 .2h0m3.4-.8h0m-.2-.5h0m-.2-.6h0m-.7-1.2h0m-1.2-.5h0m-.7-.4h0m-.3-.5h0m.3-1.4h0m.2-1h0m-.3-.5h0m.7-.5h0m.2-.8h0m.1-1h0m.7 .1h0m.6 .7h0m-.6 0h0m-.8 .1h0m-.3-.4h0m-.8-.9h0m.7-1.2h0m1-1h0m-.4 .4h0m-.8 .1h0m-.2 .6h0m.3 1h0m.4 .6h0m.4 1.1h0m0 .7h0m.2 .6h0m.4 1.2h0m-.3 1.3h0m-.9 0h0m-.3 1.5h0m1 .5h0m.8-.3h0m1 0h0m.2 .4h0m-.2 .6h0m-.3-.9h0m0-.9h0m.2-.8h0m-1.3-.3h0m-.5-.8h0m-1.1 .8h0m-.4 .4h0m.2 .5h0m-.3 1.2h0m-.1 1h0m.5 1.1h0m.4 .4h0m.9 .6h0m.3 1h0m1.4 .1h0m1 .1h0m0-.9h0m1.3 .2h0m-4.6-9.9h0m-1-.9h0m-.6-1.3h0m-.3-1.2h0m0-.7h0m-.5-1h0m-.5 1h0m.2 .5h0m.7 .9h0m.4 1.5h0m.8 1.2h0m.6 .7h0m.8 .5h0m.7 .9h0m.8 .9h0m-1 .9h0m-2.4 .1h0m-1.2-.4h0m1.2 .6h0m.6 .4h0m1.1 .5h0m-.6 .8h0m-1.2 0h0m-.8-.3h0m.8 1h0m.5 .4h0m-.6 .3h0m0 1.4h0m1 .4h0m.6-.1h0m-1.4-4.7h0m-.6 .8h0m-.8 1.1h0m-.1 .7h0m12.1-.6h0m-.7-.1h0m-2.3-1.4h0m-.2 2.1h0m.2 .7h0m1 .9h0m1.4-4.4h0m.2 1h0m1 .7h0m.4 1.3h0m-.2 1.4h0m-.1 .6h0m.5-.5h0m.6-.6h0m-.6-.4h0m-1.1 .5h0m-1.3 0h0m-1 .4h0m.1 1h0m.6-.8h0m.9-1.1h0m-.1-.8h0m.6-.3h0m.5 0h0m1.1-.7h0m-.8 .7h0m-.6-.1h0m-.5-.7h0m-.5-1.3h0m-.1-.9h0m-.5-1.4h0m.4-.5h0m1.3-.4h0m-.3-.9h0m.1 .9h0m1 .8h0m-.5-.9h0m-.2-.5h0m-1.3-.7h0m-.5 9.3h0m1.1-1h0m1.1-.6h0m1.2-.6h0m.6 .1h0m-1.2 0h0m-.3 1h0m-.4 .4h0m.2 .6h0m-.4-8.4h0m-1.2 .2h0m-.5 .1h0m-.5 .6h0m-1 .6h0m.9 .5h0" stroke="#0bad4c" stroke-width="2.1" stroke-linecap="round" fill="none"/>
<line x1="218.20" y1="53.20" x2="218.20" y2="198.80" stroke="#222" stroke-width="1.3" stroke-dasharray="4.5,3.2"/>
<path d="M157.30,205.60 L163.30,205.60 L160.30,199.90 Z" fill="#111"/>
<polyline points="121.80,192.30 128.50,193.00 139.60,195.30 162.00,191.00 165.70,189.80 169.40,186.10 173.10,186.10 178.10,186.80 179.80,189.50 201.20,183.00 204.10,184.90 212.60,182.90 219.30,186.10 235.20,189.80 242.60,186.80 247.60,189.10" fill="none" stroke="#ff0000" stroke-width="2.2" stroke-linejoin="round" stroke-linecap="round" />
<circle cx="121.80" cy="187.30" r="2.55" fill="#000"/>
<circle cx="121.80" cy="192.30" r="2.55" fill="#000"/>
<circle cx="124.70" cy="192.80" r="2.55" fill="#000"/>
<circle cx="128.50" cy="193.00" r="2.55" fill="#000"/>
<circle cx="139.60" cy="195.50" r="2.55" fill="#000"/>
<circle cx="142.60" cy="191.80" r="2.55" fill="#000"/>
<circle cx="162.00" cy="191.00" r="2.55" fill="#000"/>
<circle cx="165.70" cy="189.80" r="2.55" fill="#000"/>
<circle cx="169.40" cy="186.10" r="2.55" fill="#000"/>
<circle cx="173.10" cy="186.10" r="2.55" fill="#000"/>
<circle cx="178.10" cy="186.80" r="2.55" fill="#000"/>
<circle cx="179.80" cy="190.60" r="2.55" fill="#000"/>
<circle cx="201.20" cy="181.10" r="2.55" fill="#000"/>
<circle cx="202.20" cy="188.10" r="2.55" fill="#000"/>
<circle cx="204.10" cy="184.90" r="2.55" fill="#000"/>
<circle cx="212.60" cy="182.90" r="2.55" fill="#000"/>
<circle cx="219.30" cy="186.10" r="2.55" fill="#000"/>
<circle cx="235.20" cy="189.80" r="2.55" fill="#000"/>
<circle cx="242.60" cy="186.80" r="2.55" fill="#000"/>
<circle cx="247.60" cy="189.10" r="2.55" fill="#000"/>
<path d="M408.1 197.5h0m20.9 .2h0m-16.4-.2h0m-.4 .6h0m7.8-.5h0m-6.9-.7h0m-3.5 .8h0m22.6 .3h0m-33-.6h0m31.2 .2h0m5 .5h0m-15.6-.2h0m-11.2-.1h0m-1-.8h0m-4.7-.5h0m-6.1 1.2h0m20.8-.5h0m6.3 0h0m-15.1 .2h0m8 0h0m16.4-.5h0m2.7 .4h0m-16 .3h0m7.2 .2h0m-17.1 .3h0m12.6-.2h0m-15-.3h0m5.5 .3h0m-9.7 .1h0m27.1-1.2h0m-7.6 .8h0m-2.7-.5h0m-1.3 .6h0m16.7-.3h0m-21.4-.1h0m-15.2 .6h0m22.2-.1h0m-11.2 .1h0m13.6-.9h0m-20.4 .5h0m28.6-.5h0m-7.1 .8h0m-11.6-.2h0m7.4 .4h0m-4.8-.4h0m-18.9 .5h0m27.2-.5h0m-25.7-.7h0m-1 .3h0m18 .6h0m9.7-.1h0m10.5 0h0m-27.5-.3h0m5.1-.6h0m-11.2 1.6h0m18.2-1.4h0m-19.2 0h0m24.9 1.1h0m-6.3-1h0m11.9 .4h0m-19.5 .5h0m5.2 1.2h0m12.5-1.9h0m-18.9 .2h0m20.3-.1h0m-24.9 .3h0m20.2 0h0m-15.8-.4h0m20.1 .6h0m-2-1.4h0m-27.5 1h0m7.7 .1h0m17.2-.2h0m-22.7-.2h0m5.9 .5h0m14.2 .1h0m-14 .2h0m6-.2h0m14-.6h0m.9 .4h0m5.3 .4h0m-21.5-.5h0m-2 0h0m9.6-.1h0m-24.9 .3h0m6.6 0h0m15.9-.1h0m-9.6-.3h0m-3.5 .1h0m13.8 .7h0m-18.4-1.1h0m15 1.7h0m-19.2-.5h0m14.3-1h0m3.6-.3h0m16.9-.2h0m3.9 1.7h0m-29.5-.1h0m-1-.4h0m29.9-.2h0m-35.7-.1h0m32.7 .1h0m-4.5-.2h0m-.4 .3h0m-27.3 .1h0m35.1-.4h0m-10.9-.1h0m-1.2 .1h0m-3.7 .3h0m-12.1 .4h0m25.2-.1h0m2.3 .1h0m-10.1-.8h0m-24.5 .6h0m24.3-.7h0m-15.7 .4h0m-9.1 .3h0m35.7-.4h0m-27.4 .7h0m-.7-.4h0m-5.3-.5h0m-4.1 .1h0m14.5-.4h0m6.3 .9h0m4.6-.9h0m-22.7 1h0m2.7-.4h0m15.7 0h0m-11.2 .1h0m1.1-.3h0m-5.5-.2h0m15.8 .2h0m-21.9-.8h0m25.6 .3h0m.8 1.2h0m-23.4-.7h0m21.2 .5h0m-4.8-.6h0m8.8-.7h0m6 .3h0m-14.1-.4h0m2.6-.5h0m-18.2 0h0m3.9 .7h0m-3-.2h0m18.9 0h0m-16.2-.4h0m-1.5 .9h0m18.5-.2h0m-9.3 .9h0m.3-.6h0m-10.6-.4h0m-.4-.1h0m7 .2h0m-8-.3h0m8.4 1.4h0m-6.6 .2h0m15.6-2.3h0m-16.4 1.2h0m6.8 0h0m-4.9-.2h0m16.5-.5h0m-11.9 0h0m4.3 1.3h0m4-1.4h0m-.4-.2h0m-16.6 .1h0m17.8 .4h0m-10.8 .2h0m9.5 .3h0m2-1.6h0m-15.5 1.6h0m1.2 .1h0m13.3-.9h0m-6.5 1.2h0m-7.3-1.3h0m16.8 .9h0m-18.2-.9h0m8.1 .4h0m-2.7 .9h0m85 .6h0m-48.7 .3h0m58.7 .3h0m-40.8-.4h0m-20.1-.4h0m20.7-.5h0m-3.7-.5h0m2.6 1.5h0m15.9 0h0m-27-.4h0m-13.3-.2h0m38.5 .4h0m39.7-.2h0m-3.1 .1h0m-3.5-.3h0m-42.8-.3h0m23.1 .7h0m-16.3-.2h0m27-.2h0m-49.8 .2h0m51.4-.3h0m-46.3 .9h0m14.8-.9h0m5.2 .2h0m27.3-.1h0m-25.6 .4h0m16.5-.6h0m-5.6 .6h0m-25.4-.5h0m1.1 .7h0m-24.8-.2h0m17.5-.6h0m-14 .6h0m40.3-.2h0m-6.2-.2h0m-10.8-.5h0m53.9 .8h0m-49.2-.3h0m46.3 .6h0m-50.1-.8h0m11.4 .3h0m12 .6h0m-42.8-.4h0m4.7-.6h0m39.2 .2h0m-45.6 .4h0m4.6-.8h0m43.5 .8h0m-10.6-.5h0m10.6 .1h0m-52.3 0h0m35.1-.6h0m-39.9 0h0m39.1 .5h0m11.1 .6h0m26.2-.2h0m-72.3-.7h0m10.4 .4h0m-12.3 .1h0m.7 .2h0m29.2-.2h0m13.3 .1h0m27.5-.5h0m2.5 .9h0m-59.7-.9h0m67.9 0h0m-59.8-.1h0m12.6 .6h0m38.3-.1h0m-61.4-.6h0m12.7 .7h0m49.2-.3h0m-45.6 .5h0m34.7-.4h0m-3.6 .1h0m15.5 .2h0m-27.1-.1h0m28.3 .1h0m-8.3-.4h0m-21-.5h0m5.7-.1h0m3 .9h0m4.3 .3h0m-17.4-1h0m-3.9 .3h0m9.5 1h0m-35.5-1.1h0m29.3 .3h0m32.3 .2h0m-18.9-.1h0m-50.8-.1h0m29.4 0h0m8.3-.2h0m-10.2 .1h0m-15.2 0h0m49.3-.4h0m-19 .3h0m1.1 .2h0m20.7-.2h0m-54.1-.2h0m22.7 .7h0m43.2-.2h0m-13.2 .6h0m3-.2h0m-53.6-.8h0m47.2 1.1h0m8.1-.7h0m-41.5 .6h0m48.2-1.1h0m-5.2 .4h0m-47.2-.3h0m36.9 .1h0m-10.1-.3h0m-14.4 .6h0m-13.3-.6h0m30.3 .7h0m-26.9 .4h0m23.6-.2h0m-51.8-.3h0m24.1 0h0m61.5-13h0m-.6-.6h0m-1.1-.4h0m.5 .4h0m1.5 0h0m.8 .6h0m1.3 .3h0m-1.4 .3h0m-.7 0h0m-1 .5h0m-.9 .5h0m-.1 .9h0m.4 1h0m.8 .8h0m.4 .7h0m-.4 1h0m-.1 .6h0m-.4-8.5h0m.2-1.1h0m.3-.8h0m1-.4h0m.5-.3h0m.7-.9h0m-.4-1.3h0m.2-1.4h0m-1.6 6.4h0m.2-.6h0m0-1.1h0m-1.4-.5h0m.8 0h0m1-.4h0m1-.4h0m.9 .4h0m.9-.4h0m-5.8 .1h0m.4-1.3h0m.2-1.3h0m.5-.1h0m.5-1.4h0m1.1 .9h0m-.6 1h0m-1.3 .1h0m-.5 .3h0m.7 .6h0m.7 .6h0m1.2 .7h0m.7-.9h0m.4 1.1h0m9.5 15.9h0m.6 1.1h0m.6-.4h0m.5-1.3h0m-.2-.8h0m-6.2-3.4h0m.6 .8h0m-.5 1.1h0m.2 .5h0m-.6 1.2h0m-.2 .8h0m-.3 .5h0m-.7-.2h0m-.9 .1h0m-1.2 .2h0m.4-.7h0m.5-1.3h0m0-1.3h0m.8-.9h0m.7-1.1h0m.8-.7h0m1.2 .4h0m.9-1.2h0m.9 .4h0m.1 .8h0m.7 1.3h0m1.1 .5h0m.4 1.4h0m-.6 .4h0m-.6 .4h0m-1.1-.5h0m-1 .2h0m-1 .6h0m-1.3 .3h0m-.6 .4h0m.2 1h0m-.7 .5h0m-.4 .3h0m1.1-.7h0m1-.3h0m.5 .3h0m1.2 .6h0m.5 .3h0m.6 0h0m1.4-.5h0m4.9-9.9h0m.7 .3h0m-1.3 .6h0m-.5 .3h0m-.3 .5h0m-1.3-.4h0m-.6-.2h0m-.6 .7h0m-.4 .8h0m.7 .7h0m.4 .8h0m1.1 .8h0m-.1 .7h0m1.2-3.7h0m-.4 1.1h0m.1 1h0m-.3 .5h0m-.8 .7h0m-1.3-.3h0m.2-.9h0m.5-1h0m-.3-.8h0m.8-.7h0m-3.7 2.1h0m-.1 1h0m0 .7h0m-.2 .5h0m-.3 .6h0m0 1h0m-.2 .8h0m-.2 .5h0m-.6 .8h0m-1 .8h0m-1.2 .2h0m-1.1-.2h0m-1 .5h0m-1.2 .5h0m.2-1.4h0m.1-.6h0m-.1-.9h0m-1.1-.8h0m-1.4 .2h0m4 3.6h0m.7-.4h0m-.1-1.4h0m1.1-.8h0m.3-.7h0m1.3-.7h0m.4-.5h0m.6-.8h0m0-1.2h0m-1.1-.9h0m-.3-1.2h0m-.1-.8h0m-.3-1.3h0m-.9-1.2h0m-1.2-.9h0m10.5 9.8h0m-.8-1.2h0m-.3-1.3h0m-.6-1.1h0m-15.6 5.9h0m-1.2-.9h0m.4 .9h0m-.2-.9h0m-.1-1h0m-.2-.6h0m12.5-6.3h0m-.3-.5h0m-9.4 .9h0m-.3 1h0m0 1.2h0m-.3 1.2h0m.3 .6h0m-.5 1.2h0m-.7 1.1h0m-.8 .3h0m-.9-.1h0m.7 .4h0m6.4-7.5h0m.2 .8h0m.7 .5h0m.5 1.1h0m1.1 0h0m.6 .2h0m.7 .5h0m-.5 1.2h0m-.8 .9h0m-.2 .6h0m11.2-76.1h0m1.2 8.2h0m2.5 35.5h0m-1.9-38.2h0m-2.4-13.5h0m1.2 26.4h0m.8-9.3h0m-1.1 8.9h0m1.4 12.8h0m1.9 18.9h0m-.6-34h0m-3.8-10.3h0m.4-1.5h0m-.5 25.6h0m1.3 25.5h0m2.5-20.5h0m-1.9 24.9h0m2.4-17.2h0m-1.4-19.9h0m1.1 20h0m-.6 13.4h0m-3-42.9h0m1.8 30.5h0m-.2-10.4h0m-.5 25.3h0m-.8-15.9h0m.4-14.3h0m.8 16.5h0m2.5 13.3h0m-3.5-20.8h0m-.1-36.2h0m2.2 57.1h0m-1.9-13.8h0m2.6-38.2h0m-3.5 10.7h0m.8 21.2h0m3.1-20h0m-3.7 7.2h0m1.4-5.9h0m2-15.4h0m-3.5-8.5h0m1.7 38h0m0-11.7h0m-.9 17.4h0m2.6 15.4h0m-3.2-7.9h0m-.1-39.5h0m2.6 31.1h0m-1.3-7.1h0m2 23.5h0m-2.9-20.6h0m3.4-18.7h0m-1.2-2.5h0m-2 44h0m-.3 .3h0m.9-57.6h0m.6 9h0m-.6 35.1h0m2.1-37.8h0m.9 27.6h0m-1.8 13.5h0m-1.6-15.9h0m1.7 1.8h0m-2.3-38.3h0m1 44.2h0m2.3-15.1h0m-.9-25.1h0m.4 12.1h0m-2.9 37.3h0m3.2-28.1h0m.6 26.4h0m-3.1-54.1h0m-.1 26.9h0m1.7 28.6h0m-1.8-14.8h0m1.5 24.9h0m1.4-32.8h0m-2.8-31.2h0m.1 61.3h0m3.5-19.6h0m-1.1-19.3h0m-2.2-15.3h0m0 37.7h0m1 20.2h0m-1.3-58h0m2.7 12.4h0m.1 44.2h0m.2-26.6h0m-3.2-24.4h0m.4 38.8h0m1.8-13.6h0m-2.4 26.4h0m3-51.8h0m-2.6 18.2h0m1.4-23.1h0m-2.2 12.3h0m3.1 7.3h0m-.4-8.1h0m.8 35.9h0m-2.3-31.4h0m1.3 34h0m1.4-32h0m-1.6-1.9h0m-.3 37.6h0m-.5-34.4h0m-1.6 .1h0m.9 5.4h0m.5-.5h0m.6-1.2h0m1.1 8.2h0m0-15.6h0m1 27.9h0m-1.1-14.3h0m0-8.1h0m-1.8 21.3h0m-.4 1.2h0m2-15h0m-.2 7.2h0m-.9-34.7h0m2.4 48.3h0m-.9-49.4h0m.3 40.2h0m.1-38.2h0m-2 21.5h0m-.4-13.4h0m-1.1 16h0m.7-6.1h0m1.5 9.5h0m-.4 27.2h0m2-5.4h0m-1.9-53.3h0m1.4 29.2h0m.7 9.6h0m-2.2-40.6h0m-1.5-1.3h0m1.3 50.6h0m2.1-.7h0m-1.4-16h0m0-6.6h0m-.8 1.6h0m-.2 16h0m-1-.9h0m0-42.7h0m-.2 37.5h0m3.7-19.2h0m-3 3.7h0m3.1 31.9h0m-1.7 1.8h0m1.2 2.7h0m-1.8-2.1h0m2.2 6.7h0m-2.3-4.6h0m.4-1.6h0m-.4-14h0m-1-7.3h0m2.5 .2h0m-3-9.4h0m4.3 10.8h0m-.4 23.9h0m-2-66.6h0m1.6 28.3h0m.3 .1h0m-1.3 .4h0m-2-15.7h0m.8-.9h0m-1.3 22.8h0m4.3 5.9h0m-1.1-9.8h0m-2.7 34.6h0m2.2-50.2h0m1.5 14.4h0m-1.9-17.4h0m-1.5 37.7h0m.3-50.1h0m2 61.6h0m-1.3-5.6h0m-1.7-11.4h0m3.4-9.6h0m-.1-21.3h0m-3-6.4h0m3.7 60.1h0m-3.7-10.6h0m1-36.9h0m-.7-5.2h0m1.7 22.5h0m1.5-6.1h0m-1.2-23.3h0m-1.7-6.5h0m.9-.3h0m-1 19.3h0m2.8 20.8h0m.1 7.3h0m-3.3-35.8h0m2.6 21.9h0m-.7-24.8h0m.8 35.2h0m-1.8-23.9h0m.5 36h0m-1.5-44.6h0m2.1 42.6h0m.5 7.7h0m.4-9.3h0m-.7-39.3h0m.9 54.8h0m-.6-48.9h0m-1.5 26.2h0m-.4-37.2h0m-.9 33.3h0m1.4 19.3h0m-1.2-37.5h0m2.4 16.3h0m1.4 21.1h0m-2-57.8h0m-1.3 54.7h0m-1-48.5h0m3.9 6.8h0m.1 42.1h0m-1.1-51.4h0m-2.2 41.5h0m3.4-23.1h0m-2.5 41.2h0m1.8-36.7h0m-2.1-11.4h0m-.2 34.6h0m2.7-8.7h0m-.9 13.7h0m.2-45.3h0m-.2 32.3h0m-2.4-20.7h0m-.6 14.4h0m1.6-34h0m1.4 24.8h0m.9 8.7h0m-3.2-11.9h0m1.2 8h0m2.2 16.4h0m-.1-10.3h0m-1.8-14.7h0m7.3-34.2h0m-.4-21.6h0m2.2 8h0m-1.3 13.4h0m1.3-3.7h0m-.3 9.6h0m-1-7.9h0m2.3 10.9h0m-3-22.1h0m1.2-9.5h0m-.4 7.5h0m.9 21.7h0m-1.4-16.2h0m.8 17.7h0m-.3 2.2h0m1.1-18.4h0m-.2-1.2h0m.2 5.9h0m.8 3.7h0m-1.2-16.5h0m.8 13.4h0m.7 13h0m-2.5-11h0m0 8.7h0m.4-11.5h0m.3 9.9h0m-.9-1.4h0m.7-21.6h0m.9 16.8h0m.1-9h0m-1.8-10h0m1.9 18.6h0m-.9 .4h0m.8-.5h0m-1.8-7.4h0m.8-1.1h0m-.7 19.3h0m1.3-10.6h0m-.1 1h0m-.5 9.5h0m-.3-12.9h0m1.1-10.4h0m-.2-5.2h0m-.2 14.5h0m0 12.5h0m-.6-1.7h0m.2-15.8h0m-.9-4.4h0m0-9.2h0m1.7 11.2h0m-1.2 16.9h0m-.2 5h0m2.8-2.9h0m-1.7-28.4h0m-1 13.9h0m2.9 10h0m-2.2-14h0m-.3 12h0m-.8-17.5h0m.4 3.1h0m1.4-1.6h0m-.1 2.6h0m.9 14.1h0m-2.4-21.7h0m2.4 16.6h0m.9 13.2h0m-1.7 0h0m-.8-8.8h0m-1.2-19.2h0m1.7 19.8h0m-.6-3h0m0 4.5h0m-.6-2.6h0m1.2-8.4h0m.5 15.3h0m-.3-8.7h0m-1.7-8.5h0m2.5-.1h0m-2.4 8.3h0m1.7 5.8h0m-1.2-11.8h0m2.8 11.8h0m-2.7-24.9h0m-.5 19.6h0m2.4 1.5h0m-1.7-23.7h0m-.1 24.8h0m-.6-18h0m1.5 9.7h0m-1.2 4.7h0m.5-16.7h0m-.5 11.1h0m.8 .6h0m1.7 6h0m-2.5-6.8h0m-.2-9.6h0m-.2 17.3h0m1.8 43.9h0m2.9-1.1h0m-3.6-18h0m3.8 19.1h0m-1-22.6h0m-1.2 20.3h0m-2.3-23.5h0m2.5-.9h0m-1.5 22.4h0m2.2 1.5h0m-.8-15.3h0m-.2 14.7h0m-1.7-6h0m2.8 .4h0m.5-1.7h0m-1.4-1.4h0m-.2-16.2h0m.8-.2h0m.7 29.3h0m-2.1-22.3h0m-1.2 12.8h0m1 1.5h0m.5 .5h0m-.6-12.3h0m-.9 16.5h0m2.7-25.7h0m.5 5.4h0m.5 23.9h0m-2.4-28.6h0m-1 20.4h0m-.2-9.3h0m3.7 12h0m-2.1-4h0m-.9 4.1h0m.2-18.9h0m1.1 7h0m1.8 8.6h0m-1.6-13.5h0m-.3 19.2h0m.6-22.1h0m2 52.8h0m2-9.4h0m-3.3 5.4h0m-3.9-13.5h0m3.9 1.2h0m-6.3 1.4h0m7 7.8h0m-2.8-8.4h0m4.5-7.9h0m-5.3 33.2h0m-1.9-23.4h0m6.6-9.7h0m-.9 18.7h0m-5.9 .3h0m8.8-9.8h0m-3.1 18.6h0m-.5 6.5h0m-1.2-30.3h0m-5 9.6h0m2.7-.9h0m6.7 13.3h0m-1-25.5h0m-3.5 18.4h0m6.7 12.5h0m-6.2-19.8h0m-1.6-15.3h0m3.8 12.6h0m-5 4.5h0m1.7 16.7h0m-1.6-19.3h0m-1.8-8.2h0m1.1 5.9h0m.7-8.5h0m2.3 34.5h0m2.9-10.5h0m1.6-6.8h0m-3.1-18.8h0m-1.3 25.3h0m-4.6 1.6h0m3.5-28.6h0m1.6 11.4h0m3.3 20.2h0m1.4-16.9h0m-8.7 2.4h0m6.5 9.1h0m-4-7h0m-3-18.2h0m1.5-1h0m3.1 7.6h0m-.1 1.7h0m-3.3 6.5h0m4.7 17.2h0m.3-1.3h0m-4.6-3.3h0m-1.6 3.6h0m9.9 .2h0m-7.9-19.4h0m-1.6-3.8h0m4.1 14.1h0m4.7-4.6h0m-7.8 10.3h0m5.1-20.6h0m3.9 28.3h0m-7.8-14.3h0m-2.8 3.5h0m.6 9.8h0m6 .6h0m-.1 1.4h0m-4.6-36.9h0m3.4 17.5h0m-1.1 1.9h0m.3-14.1h0m4 1.9h0m-7.8 29.3h0m3.7-18.4h0m-1.7 13.1h0m.7-24.5h0m6.9 16.4h0m-8.3-6.7h0m4.9 1.4h0m-1.2 1.9h0m-.8 1.1h0m3.6-15.3h0m0 20h0m-7.3-8.8h0m1.1-16h0m-3.5 16.9h0m5.1 14.6h0m2.4-29.8h0m-5.7-3.3h0m5.7 11.3h0m-3.8-1.6h0m4.3 2.4h0m.2-3.2h0m-5 19.1h0m3 4.3h0m4.4-3.4h0m-8.2-28.3h0m6.4 7.9h0m-7 9.8h0m5.5 15.9h0m2.4-5h0m2.1-3.2h0m-9.4 5.7h0m4.6-14.7h0m-6-1.9h0m7 13.1h0m3.3-5.7h0m-10.6-13.4h0m7.4 19.2h0m-4.1-23.5h0m-.3 16.6h0m1.7 0h0m4.1 .8h0m-9.3-20.2h0m2.8 4.9h0m-1.2 25h0m7.8-2.5h0m-2.7-6.5h0m-4.3 1.6h0m8.7 12.2h0m-2-27.9h0m-2.5 12.7h0m4.2 4.4h0m-7.5-7.1h0m7 12.3h0m-6.9-25.6h0m4.8 22.8h0m0-13h0m-3.9-12.7h0m-1.5 34.3h0m-.7-32.9h0m.8 11.7h0m7.9 16.7h0m-5.3 .5h0m.3-14.4h0m-5.6-11h0m7.7 26.2h0m-6.7-9h0m7.5-15.8h0m-3 9.3h0m.1-5h0m1 3.4h0m-2.4 18.5h0m6.4-4.5h0m-5.1 1.6h0m3.2-12.1h0m-6.5-19.5h0m-1 27.8h0m-1.3-7.9h0m9.6 15.9h0m-2.8-16.3h0m-1.1 11.3h0m-4.4-22.9h0m6.7 7.9h0m-2.1-2h0m.8-.7h0m-5.5 5.6h0m4.8-3.7h0m2.7 10.1h0m-6.4-4.3h0m7.2-11.9h0m-3.5 27.8h0m-.3-20h0m-4.1-9.7h0m1.1 6h0m.5 8.3h0m6.3 2.3h0m.3 9.5h0m-5.9-4.1h0m-3.3-23.3h0m1 20h0m3.8 .8h0m2 5.1h0m-.7-15h0m-1.9-6.4h0m2.6 8.3h0m-5.2 6.7h0m2.1-3.1h0m-2.7 13.3h0m6.9-30.9h0m1.2 32.4h0m-7.7-35.4h0m9.7 36.1h0m-11.2-11.7h0m5.1-12.4h0m2.8-5.1h0m2.6 20.5h0m-7.9-22.8h0m3.4 23.2h0m.1-25.1h0m-1.2 7.5h0m4.2 22.7h0m-3.1 3.2h0m1.3-30h0m-7.8-1.4h0m4.3 12.2h0m7.3-2.7h0m-9.1-6.4h0m3.1-.5h0m-3.6-2.2h0m-1.6-5.2h0m.7 31.6h0m.9-12.7h0m-2 5.1h0m11.2 1h0m-.1-11.4h0m-2.5-4.1h0m-5.7 8.2h0m7.2 5.5h0m-6.9 8h0m5.2-4.7h0m-8.8-15.7h0m9.6 19.9h0m.9 3h0m-5.9-16.1h0m6.3-7.4h0m-10 2.8h0m4.2 12.8h0m-.5-7.6h0m6-1.5h0m-5.3-12.4h0m-1.8 13.8h0m2.9-20.7h0m-1.3 35.6h0m-2.6-23.7h0m9.3 14.6h0m-8.1-27.3h0m3.5 21.4h0m-4.1-4.6h0m5.2 21h0m-1.1-2.5h0m1.8-27.6h0m-1.4-6.2h0m-.5 21.6h0m.9-16.6h0m3.3 8.3h0m-9.5 9.8h0m8.5-14.7h0m-8.1 15.2h0m8 9.9h0m-1-13.5h0m-4.8 2.8h0m2.5-.1h0m-2.8-22.4h0m-1.2 23.3h0m3.8-8.1h0m-1.1 2.2h0m-2.1-11.8h0m5.8 27.9h0m.9 .3h0m-4.9-25.9h0m-2.1 2.3h0m0-10h0m-2.8 14.5h0m1.6-12.8h0m9.6 22.2h0m-2.6-13.9h0m2.3 5.8h0m-3.8 8.1h0m2.8-15.4h0m-1.9-.6h0m-8-1.7h0m11.3 7.9h0m-3.9 8h0m-2.6-10h0m-1.5-2h0m5.2-1.2h0m-6.1-2.6h0m1.3 6h0m.1 6.7h0m2.7 17.4h0m-.6-17.7h0m2.3 5.8h0m-3.2-10.6h0m-2.7 1.1h0m8.6 10h0m-6.8-12.2h0m-2.3 0h0m1.9-12.6h0m3.5 14.8h0m-2.7 9.7h0m4.8 .2h0m-6.5-1.1h0m.2-4h0m4.4 7.2h0m2.9-12.8h0m-7.3 23.4h0m5.1-1.6h0m-7-2.8h0m1.9-9h0m-3.4-12.1h0m7.8 12h0m-5.7 1.9h0m.6 7.7h0m.6-13.6h0m8.7 15.7h0m-9.9-25.7h0m6.2 6.3h0m-2.1 1h0m-5.6 2.8h0m5.9-22.2h0m5.2 25h0m-8.5 9.3h0m1-23.8h0m5.2 23.5h0m-2.6 .2h0m3.4 2.4h0m1.2-21.1h0m-4.6 15.3h0m1.2 7.2h0m-4.9-7.7h0m-.9-29.3h0m7.4 29.6h0m-1.9 9.1h0m-.3-14.3h0m2.6-4.7h0m-4.3 10.6h0m4.6-17h0m-4.1-1.7h0m-2.3 14.5h0m3.3-20h0m-.5 21.2h0m-4.2-11.9h0m-.2 6.3h0m-2.2-5.8h0m7.4 0h0m-2.4-12.3h0m-3.6 16.6h0m-1.4-3.9h0m7.2-7.1h0m-2.5 9.4h0m5.8 1.2h0m-.3-9.4h0m-4.4-4.5h0m-5.5 21h0m9.9-.1h0m-4.7-18.7h0m5.7 28.6h0m.5-14h0m-4.5-22.7h0m-.9 4.8h0m.1 29.7h0m1.6-7.1h0m-4.7-1.8h0m-.9 12.7h0m9.1-4.1h0m-9-3.7h0m5.1-15.6h0m-3.5 15.4h0m.2-14.4h0m2.4 1.6h0m2.7 2.8h0m-8.1 11.5h0m-.1-11.5h0m10.2 11.9h0m.3 4.5h0m-7.4-35.4h0m-1.8 21.9h0m-.2 14.3h0m-1.5-11.4h0m3.6 .4h0m-4-22.1h0m4.5-3.6h0m-2.5 28.7h0m3.2-28h0m-.8 21.6h0m-4 2.7h0m-.4-16.9h0m5.5 9.3h0m4.6 3.8h0m-10.1-7.9h0m2.5-7.3h0m3-1.3h0m4.7 18.6h0m-4.2 11.9h0m.8-7.8h0m-6.5-21.9h0m7 2.6h0m-3.2 21.2h0m-2.6-27.7h0m.1 7.4h0m6.5 19.5h0m-3.1-10.2h0m4 6.4h0m2 5.7h0m-5-13.6h0m3.6-2.9h0m-5.7-16.6h0m3.2 28.2h0m-4.6-16.5h0m1.5 11.5h0m4.8-11.1h0m2.7 16.8h0m-11.9-7.8h0m4.8 11.9h0m6.7-8h0m-7.7 2.2h0m-1.1 3.2h0m3.1-1.7h0m1-11.3h0m-1.5 10.6h0m-2.4 5.4h0m-.1-25.7h0m-1.4 30.5h0m3.7-18.7h0m-4.6 .4h0m8.9-6h0m-3.3 2.5h0m1.7 2.2h0m-4.9 14.4h0m1.1-26.4h0m4.9 5.3h0m-7.2-7h0m3.1 25.5h0m-3.2 8h0m4.1 .4h0m0-30.3h0m.4 2.2h0m-4.4 26.2h0m1.5-27.5h0m-2 3.5h0m8 12.8h0m-4.7 12.4h0m2.2-27.4h0m-5.9 16.7h0m1.8-2.7h0m7.9 2.4h0m-10.6-17.3h0m11.6 28.2h0m-4.7-23.1h0m1.8 3.4h0m-6 19.5h0" stroke="#fb80fb" stroke-width="2.1" stroke-linecap="round" fill="none"/>
<line x1="525.00" y1="53.40" x2="525.00" y2="199.30" stroke="#222" stroke-width="1.3" stroke-dasharray="4.5,3.2"/>
<path d="M467.30,206.20 L473.30,206.20 L470.30,200.50 Z" fill="#111"/>
<polyline points="431.70,194.70 438.40,194.70 449.20,195.20 451.70,196.00 471.20,196.60 478.20,196.20 486.80,194.10 507.60,196.60 510.50,194.30 518.10,195.20 525.30,192.50 540.80,193.10 548.00,182.90 552.30,191.90" fill="none" stroke="#ff0000" stroke-width="2.2" stroke-linejoin="round" stroke-linecap="round" />
<circle cx="431.70" cy="194.70" r="2.55" fill="#000"/>
<circle cx="433.60" cy="193.70" r="2.55" fill="#000"/>
<circle cx="438.40" cy="194.70" r="2.55" fill="#000"/>
<circle cx="449.20" cy="195.20" r="2.55" fill="#000"/>
<circle cx="451.70" cy="196.00" r="2.55" fill="#000"/>
<circle cx="471.20" cy="196.60" r="2.55" fill="#000"/>
<circle cx="475.40" cy="196.60" r="2.55" fill="#000"/>
<circle cx="478.20" cy="196.20" r="2.55" fill="#000"/>
<circle cx="481.10" cy="195.20" r="2.55" fill="#000"/>
<circle cx="486.80" cy="194.10" r="2.55" fill="#000"/>
<circle cx="507.60" cy="196.60" r="2.55" fill="#000"/>
<circle cx="510.50" cy="194.30" r="2.55" fill="#000"/>
<circle cx="518.10" cy="195.20" r="2.55" fill="#000"/>
<circle cx="525.30" cy="192.50" r="2.55" fill="#000"/>
<circle cx="540.80" cy="193.10" r="2.55" fill="#000"/>
<circle cx="548.00" cy="182.90" r="2.55" fill="#000"/>
<circle cx="552.30" cy="191.90" r="2.55" fill="#000"/>
<path d="M71.8 339.1h0m.9-3.8h0m-.4-.7h0m-.5-.3h0m-.3-.8h0m-.6-.1h0m-.5 1.2h0m-.6 .8h0m-.9 .9h0m1 .2h0m.3 .7h0m1 1h0m.2 .7h0m-.6 1.1h0m-.7-.5h0m.5-1h0m.9-.2h0m.9-.6h0m.8-.4h0m1.3-.4h0m-1.9 2.7h0m.6-1.1h0m.7-1h0m-.6-.3h0m-.4-.6h0m-.2-.5h0m-.7-1.1h0m57.6 2.7h0m.1-.5h0m.2-1.1h0m.6-1.1h0m-1.3-.4h0m-.4 .5h0m-.4 .4h0m-1 .8h0m-.9 .4h0m-.9 1.2h0m-1.1 .6h0m-.9 .3h0m-1.2 .4h0m-.6-.2h0m-.7 .3h0m-.7 .3h0m-.9-.2h0m-.6-.9h0m.4-.9h0m-.6-.9h0m-.7-.9h0m-.5 .7h0m-1.4-.1h0m-.9-.2h0m-.8 .8h0m40.5-12.2h0m1.2-.3h0m1.1-.2h0m.9-1h0m.9 .8h0m.6 .2h0m-.3-.4h0m-.1-.8h0m-.6 .7h0m-1 1.1h0m.4 1.1h0m.2 .8h0m-41.8 9.4h0m.3-.6h0m.8-.1h0m1.4-.1h0m.5 .4h0m1.3 .7h0m.5 1.4h0m1.1 .8h0m-27.2-14.2h0m-.6 .4h0m-.4 .7h0m-.1 .6h0m-.5 1.3h0m1.1 .5h0m.5-.5h0m1.4-.3h0m.8-.8h0m-1.2-.8h0m-1-.4h0m39 6.7h0m.7 .6h0m-.3 1.1h0m-.6 1h0m-.8 .5h0m-.2 .8h0m.3 .8h0m0 .5h0m.1 .6h0m.7 1.2h0m.2 .6h0m-.2 .5h0m-.4 1.1h0m-.3 1.2h0m-.1 .9h0m1.4 .5h0m-30.8-15h0m1-.2h0m0 .9h0m.7 .5h0m.9 .2h0m.8-.4h0m.3-.8h0m.2-.6h0m-.4-.9h0m-1.2 0h0m-.9-.4h0m.2-1h0m.2-.6h0m1.4-.2h0m.7-.5h0m1.1-.1h0m.7 0h0m1.4 .1h0m1.2 0h0m1.3-.6h0m.6-.5h0m.7-.3h0m.5 .3h0m.8 1h0m.3 .9h0m.2 1.1h0m-.3 .8h0m-.1 .9h0m.5 .8h0m1.2 .3h0m1.3 .3h0m.5 1.2h0m.1 1h0m-.4 .6h0m-.4 .3h0m24.6-2.4h0m-.5-.7h0m.5-1h0m.1-1.1h0m-1-.9h0m-.2-.7h0m-.9-.9h0m-.6 .3h0m-.6 .9h0m-.5 1.1h0m-.5 .7h0m-1.2 .3h0m-1.1-.2h0m-1.2 .8h0m-.9 .2h0m-1.1 .7h0m-1.4-.2h0m-1 .4h0m-.6 .3h0m-1 1h0m-.4 .6h0m.3 1.4h0m.9 .5h0m1.1 0h0m1.4-.3h0m-34.4-2.2h0m-.7 .5h0m-.5-.2h0m-.8-.6h0m-.6-.9h0m1-1h0m-.6-.7h0m.6-.7h0m.3-1.1h0m.6 .1h0m1.3 .4h0m.9 .1h0m0 1.1h0m-.2 .8h0m-.4 1.2h0m-.6 .1h0m-1 .7h0m-.5 .8h0m.8 1h0m.2 1.2h0m1.2 .6h0m1.4-.1h0m.7-.3h0m.3-.4h0m.5-.6h0m.9-1.1h0m.5-.5h0m50.7 1.9h0m-.7 .3h0m-1.1 .7h0m-.5 1.1h0m-.5 .1h0m-.5-.1h0m-.7-.4h0m-1.4-.2h0m-.7-.4h0m-.6 .3h0m-1.4 .5h0m-.9-.7h0m0-.5h0m1.1-.5h0m-.3-.9h0m-.6-1h0m-1.1-1h0m-1.2-.4h0m-36-8h0m-.4-1.3h0m-.2-1.1h0m-.4-1.3h0m.8 .6h0m1.1-.3h0m.3-.6h0m.3-1.2h0m0-.7h0m0-.7h0m-.3-1.3h0m1.2 .6h0m1.2 .6h0m.3 1.3h0m-1 1.1h0m-1.1 .4h0m-.9 .2h0m-1.2 .4h0m-.6-.1h0m-.5-.1h0m-.3-.5h0m.3 1h0m0 .8h0m-1.1 .5h0m19.5 11.1h0m-.7 12.4h0m.2-.8h0m-.3-.9h0m-.5 .1h0m-.6 .4h0m-.5 .3h0m-.8 .1h0m22.1 2.6h0m-.5-.2h0m-1.2-.8h0m-.5-1h0m.4-.6h0m.2-.5h0m0-1.3h0m.3-.5h0m-3.1 7.2h0m.7-1h0m-.8-.6h0m-.4 .3h0m-.2 1h0m.7 1.2h0m.5-.2h0m-.1-1h0m-.9-.9h0m.3-1h0m.2-.6h0m.4-1.2h0m.3-1.2h0m.5-.3h0m1.1 0h0m1.2-.2h0m.7 .4h0m.5 .9h0m.9 .6h0m1.2-.2h0m-.1-1h0m.2-.6h0m.2-.4h0m.9 .1h0m.6 .9h0m.9 .9h0m-.7 1.1h0m-1.3 .6h0m-1.5-.1h0m-1-.3h0m-.8-.4h0m-1.2-.1h0m-.9 0h0m-.8-.2h0m-.3-1.2h0m-.6-.4h0m-.6-.6h0m-9.9-5.1h0m-.9-.1h0m-1.4-.7h0m-.7 0h0m-.5-.4h0m-1-.5h0m-1-.2h0m-.7-.3h0m-.9 .1h0m-.9-.4h0m-.4 .4h0m-.6-.1h0m-.5-.3h0m-.9-1.1h0m0-1.3h0m.3-.4h0m-16-13h0m-.8 0h0m-1.1-.6h0m.6-.9h0m1.2 0h0m.2 1.2h0m-.1 .9h0m-.6 .9h0m-.2 .7h0m-.7 .6h0m-1.2 .8h0m-.5 .7h0m-.2 1.2h0m.5 .1h0m.7 .6h0m.6-.1h0m1 .3h0m.4 .9h0m1 .4h0m1.2 .3h0m.8 0h0m.4-.7h0m.1-.8h0m.5-.8h0m-.6-1.1h0m-1.3-.4h0m-.8 1.2h0m-.1 .5h0m.8 1.1h0m.5 1h0m1.3-.2h0m.6 .3h0m-.1 1.2h0m-.2 1.3h0m.4 1.2h0m.6 .6h0m-13.3-8h0m1-.5h0m.5-.4h0m.7 .2h0m.4-.7h0m.5-.4h0m1.1-.1h0m58.1 1.5h0m-.9-.2h0m-1-.7h0m-1.1-.8h0m-.7-.2h0m-.2-.5h0m-1 1h0m-1.4 0h0m-17.9 21.7h0m.2-.6h0m-.7-1h0m.3-1.3h0m.3-.4h0m.5-.8h0m-.7-1.3h0m.1-.8h0m0-1h0m-.5-1.1h0m.2-1h0m-13.8-6.4h0m.4-1.1h0m-.1-.8h0m32.8 6.5h0m-.8-.3h0m-.6-.8h0m-.5-1.2h0m-1.2-.7h0m-.1-.7h0m-.8-1.2h0m-1.2-.7h0m-.9-.2h0m-.9-.3h0m.2 .4h0m.1 1.5h0m-.6 .4h0m-.5 .3h0m-1.2-.1h0m-.4-.5h0m0-.8h0m.9 .2h0m.4 .6h0m.6 .9h0m-.2 .6h0m-.1 1h0m.4 .9h0m-.2 .5h0m-.4 1h0m-1.2 .6h0m-.8 .2h0m-.2-1h0m.1-1.5h0m-.7-.6h0m-.7-.3h0m-1 .2h0m-.8-.8h0m-.1-.5h0m-9.8 12.1h0m-1.1-.7h0m-.5-1.1h0m-.5-.7h0m-1.2-.2h0m-1.1 .1h0m-1.2 .4h0m-.5 .7h0m-.4 .5h0m-.7 1.2h0m-.3 1h0m.3 1.1h0m-1.4 .4h0m-.5 0h0m-.3-.9h0m-.9-.8h0m.7-1.2h0m.7-.6h0m1-.4h0m.3 .6h0m.7 .7h0m1.1 .6h0m1.1-.9h0m.6-.4h0m1.1-.3h0m.5-.4h0m1.1-.8h0m1.3-.3h0m.3-.7h0m.6-.9h0m-.5-1h0m-.9-.4h0m-5-13.9h0m1.3-.5h0m.3-.4h0m.7-.4h0m-.1-.9h0m-.7-.5h0m-1 .4h0m-.4 .6h0m-1.2 .2h0m23.6 24.8h0m.8 1.2h0m-.7 .9h0m-.9 .6h0m-.8 .7h0m-.9 .3h0m-1.3-.5h0m-.6-.4h0m-1-.2h0m-.3 1.4h0m.7 .5h0m.9-.2h0m1.3 .4h0m-27.3-25.8h0m1 1h0m1 .5h0m.5 .3h0m.3 .5h0m.4 1.1h0m0 1.5h0m1 .6h0m.9 1h0m.7 .4h0m.9 .2h0m.1 .8h0m0 1.4h0m-.5 .6h0m-.6 .2h0m-1.2 .7h0m-.2 .6h0m.1 1h0m.8 .7h0m1.5 0h0m.6 .3h0m-.9 .9h0m-.8-.2h0m-1.4 .5h0m-.9 .6h0m-1.3-.6h0m-.7-.7h0m22.7-7.1h0m.9-.1h0m1.4-.4h0m.6-.3h0m.5-1.1h0m-.1-.7h0m.1-1.1h0m.3-.8h0m-.3-1.3h0m-.7-.1h0m-1.3-.3h0m-1.4 .4h0m-.7-.1h0m-1.2 .2h0m0 .6h0m-.2 .5h0m-.9 .8h0m.1 .5h0m.2 1.3h0m-.1 .6h0m-.5 1.2h0m-.3 .9h0m-.4 1h0m-.7 1.1h0m-.7 1.1h0m-.2 .9h0m-27.9-6.1h0m1.3 .3h0m.5 .5h0m.5 .5h0m.3 1h0m.4 1h0m.9 1h0m1.2 .9h0m-.1 .6h0m26.2-9.7h0m.3 1h0m.3 .9h0m-.1 .6h0m-.4 .7h0m-.1 .6h0m-.7 1.1h0m-.5 1.3h0m-1.3 0h0m-1 .2h0m-1.1 .7h0m-.7 .3h0m-.7 0h0m-.6 .6h0m-.6-.9h0m-.9 0h0m-.9 .5h0m.8 1.2h0m1.3 .1h0m.8 .2h0m1 .5h0m1.5-.1h0m.8-.1h0m.7-1.1h0m1-.2h0m.4-.4h0m-.4-1.4h0m-.1-1.4h0m1 .2h0m1.3-.1h0m.8-1.1h0m1-.6h0m.7-.5h0m.5-.7h0m.2-.5h0m1.1-.2h0m.2-.6h0m.5-.4h0m1.4-.2h0m.8-.3h0m.1-.7h0m-.2-.9h0m-.8-.7h0m.2-.6h0m.2-.7h0m-.5 1.3h0m-1.1-.1h0m-.9-.5h0m-.4-.2h0m-.9 .2h0m-.8 .7h0m-.6 .4h0m-.9 .3h0m-1 .2h0m-1.1-.1h0m-.6 .1h0m0 .9h0m-.3 1.1h0m.1 1.2h0m.1 .7h0m.3 .7h0m.6 .4h0m.9 0h0m1.3 0h0m.5 .4h0m.2 1.5h0m.2 .8h0m-.5 1.1h0m-.2 .8h0m-1.1 .4h0m-1.1 0h0m-.5 .6h0m.6 1.2h0m.1 1h0m.2 .9h0m1.3-.6h0m1.3 .2h0m.6-.2h0m.9 .3h0m1.1-.1h0m.2 .8h0m-.2 1h0m-.8 1.1h0m-1 .9h0m-.8 .7h0m.2 .5h0m0 .5h0m-.5 1h0m-.7 1.2h0m-.8 1.1h0m-.4 .5h0m-1.2 .3h0m-.6 0h0m.1 .7h0m.5 .9h0m-.1 .8h0m-.7 1h0m-.7 .2h0m.1 .6h0m-13.6-18.7h0m1 0h0m.9-1.1h0m.7-.7h0m.9 .1h0m.9 1h0m.1 .6h0m.8-.1h0m25-10.4h0m-1.2-.2h0m-.9 .4h0m-.8 1h0m.1 1.1h0m1.4 .3h0m.4 .3h0m.4 .4h0m.4 1.1h0m.2 .6h0m.3 .6h0m1.3-.2h0m-.2-1.4h0m-.5-.5h0m-.7-.7h0m-1.1-.3h0m-1.4-.2h0m-.8-.5h0m.4 .4h0m.5 .8h0m.6 .5h0m.8 .6h0m1.3 .3h0m.6 .4h0m1 .3h0m.7 .9h0m1.1 .8h0m.7-.3h0m1.5-.1h0m.9 .4h0m1 .4h0m-.1-.8h0m-.8-.6h0m-1.3 0h0m-1.4 .3h0m-.6 .6h0m-1 .2h0m-1.3 .1h0m-.5 .3h0m-1.4-.3h0m-.3-.8h0m-.1-.8h0m-.7-1h0m-.5-.1h0m-.9 .5h0m-.8-.2h0m-.9-1h0m-.3-.6h0m-.7-.6h0m-1.2-.6h0m-.7-.1h0m-.7 0h0m-1.3 .4h0m-.4-.7h0m-.7-1h0m-.4-.3h0m-26.7 14.2h0m.2 .7h0m23.3 16.2h0m-.7 .8h0m-.1-1.2h0m-.3-.5h0m-.5-.5h0m-.4-.4h0m-.8-.5h0m.5-.4h0m.7-.1h0m1.1 .1h0m1.4 .2h0m.9-.3h0m1-.1h0m.7-.1h0m.8 .3h0m-20.2-13.5h0m.8-.4h0m.7-.9h0m-40-7.6h0m.7-.9h0m-.6 .4h0m-.8 .1h0m-1-.2h0m22.1-6.9h0m-.5-.5h0m-.5-.2h0m-.6-1.1h0m.5-.9h0m.5-.4h0m.7-.2h0m.7 .4h0m.5 1.1h0m.1 .6h0m.3 .7h0m.1 .5h0m.1 .7h0m.5 .4h0m.3 .9h0m.8 .8h0m23-5h0m-1.3-.4h0m-1.1-1h0m-1.1-.8h0m-.2-.5h0m-.2-.6h0m.4-.6h0m.8-1h0m-.3 .5h0m-1 .8h0m.8 1.2h0m.8-.1h0m.5-.2h0m.4-.3h0m.7 0h0m.4 .7h0m.5 1.3h0m-14.2 7h0m-1.2 .1h0m-.6 .7h0m-1.1-.4h0m-1 .5h0m-.1 .6h0m-.3 .8h0m-.3 .4h0m-.8 .2h0m42.1-6.1h0m-.8 .5h0m-.9 .7h0m-.6 .3h0m-1.4-.6h0m1 .9h0m-46.9 4.6h0m-1 .8h0m-.7 .8h0m-.1 .8h0m0 .5h0m-.3 1.3h0m-.4 1.2h0m-.3 1.4h0m-.8 .7h0m.1-1.3h0m-.7-.5h0m-.6 .3h0m.3-.6h0m.7-.5h0m1.1-.3h0m1 .2h0m.8 .7h0m-.1 .9h0m.5 .9h0m.2-.7h0m.7-.1h0m38.5-5.7h0m-1.3-.6h0m-.8-.4h0m-1.2 .7h0m-.5-.2h0m-.3-.4h0m-1.2 0h0m-1 .4h0m-1.3-.2h0m-.7 .1h0m-.7 .6h0m-1.2-.2h0m-1.3-.7h0m-.6 .8h0m-.7 .2h0m-.1 1h0m.5 .9h0m.6 .9h0m.2 1h0m-.2 .5h0m0 .8h0m-.8 1h0m-.5 .5h0m-.6 .6h0m-1 1.1h0m-1.1 .3h0m-1.1 .1h0m-1.1-.7h0m-38-18.3h0m.6-.1h0m1.3-.3h0m.4-1.4h0m-.2-.6h0m0-.6h0m.4-.4h0m1.2 0h0m.8-.9h0m-.3-.5h0m38.3 27.9h0m-.4 .4h0m-.6 .4h0m-.6 .7h0m-.4 .5h0m.2-.5h0m-.3-1.3h0m.9-.6h0m-2.9-4.7h0m-.9-.8h0m.2-.9h0m.1-1h0m-.9-1h0m-1.3-.4h0m-1.4 .6h0m-.9 .5h0m-1.1 .1h0m-.9-.7h0m-.8-1.3h0m.1-1.1h0m.2-.9h0m.7-.6h0m.6-.5h0m.6 0h0m1.4-.1h0m1.1 .2h0m1.4 .4h0m29-1.5h0m-13.9-2.9h0m-1-.7h0m-.9-1.1h0m-1.1-.1h0m-.8 .7h0m-1.3 .2h0m-.8-.6h0m-.9 .4h0m-.8 .8h0m17 .8h0m-.5 1h0m-.9 .9h0m-1.2 .8h0m-1.1-.7h0m.2-1.4h0m0-1.4h0m.4-1.3h0m.9 .6h0m.6 .7h0m1.1 .7h0m-1.3 .2h0m-.9 1.1h0m-.1 .6h0m-1.2 .8h0m-1-.1h0m-.7 .1h0m-.8-.5h0m-.5 .2h0m-.9-.4h0m-.6 .4h0m7.2 11.1h0m.1 .8h0m.6 .7h0m.7 .2h0m1.3-.4h0m1 .5h0m.4-.5h0m.5-.3h0m.1-.8h0m.4-1.1h0m-42.7-14.8h0m.7 1.4h0m.7 .4h0m.2-.5h0m.6-.5h0m.9-.5h0m.5-1.2h0m.1-.6h0m-.6-1.1h0m-.3-.7h0m-.6-.9h0m-1.1-.9h0m-.7-.5h0m6.2 16.4h0m.8 .9h0m.5 .9h0m.7 .3h0m.7 1.2h0m.2 1.3h0m.4 1.2h0m1.2-.2h0m.9-.6h0m-10.4-7.6h0m-1-.3h0m-1.4-.2h0m15.5 10.1h0m-.3-.8h0m-.1-.7h0m.2-1.1h0m.4-1.2h0m.7 .6h0m-.5 1.3h0m.3 1.1h0m-.3 .6h0m.2 .7h0m.2 .9h0m-.5 .5h0m.1 1h0m-1-.8h0m-1 .8h0m-.4 .4h0m-.6-.3h0m-.5-1h0m-.8-.1h0m-.8-.9h0m-.4-.8h0m-.1-.8h0m-.1-.5h0m-1-.7h0m.3-.5h0m-.1-.8h0m.6-.3h0m.8-.3h0m.5-.4h0m-.3-.8h0m.6-.9h0m.2-1h0m-7.2-8.2h0m.2 .9h0m-.4 .9h0m.3 .6h0m.6-.6h0m.9 .7h0m.5 .6h0m.8 1h0m.6-.2h0m.5-1h0m.5-.5h0m1.2-.1h0m-.5 1.4h0m.2 .5h0m0 1h0m.5 1.1h0m.9 .3h0m1.1-.6h0m.9 .3h0m.2 .6h0m.4 .7h0m.8 .1h0m.7 .8h0m1 .5h0m5.5-17h0m.4 .2h0m1.2-.2h0m.8-.1h0m-1-.5h0m-.4-.4h0m-.1-1.1h0m.3 1.1h0m.2 .5h0m1.2 .5h0m-.6-.3h0m-.6-.5h0m-.5 0h0m-.5-.4h0m-1.4 .2h0m-.8 0h0m-1.4-.6h0m-.3 .9h0m.9 1h0m0 .9h0m.5 .2h0m1 .2h0m.9 .1h0m1.3 .5h0m.7 .6h0m.5 .5h0m.8 .6h0m-.1 1.2h0m-.1 .5h0m-1.2 .8h0m-1.2-.1h0m-.7-.1h0m-.3-1.1h0m.1-.6h0m.7-.6h0m1-.3h0m1.3-.4h0m-.3 .5h0m-.1 .9h0m-.6 .2h0m-.3-.5h0m-.4-.8h0m-1.2-.3h0m-1.2-.8h0m-.1-1.2h0m.7-1h0m15.2 24.1h0m-61.5-17.3h0m.6-.5h0m-1-1h0m-.7-.9h0m1 .9h0m52.3 25h0m-.4-1.4h0m.6-1h0m1.1 .8h0m.6 1.3h0m1 .2h0m.5-.4h0m.5-.5h0m.2-1h0m-.5-.8h0m-.2-.5h0m-1.2-.6h0m-.7 .2h0m-.2 .6h0m.3 .8h0m.8 1.1h0m.1 .8h0m-.3 .7h0m.8 .9h0m.5 .8h0m-6.9-13.1h0m-.7-.8h0m-1.1 .2h0m-.4 1.3h0m-.4 1.2h0m-.5 1.2h0m-.1 .8h0m-.5 .5h0m-.6-.5h0m-.6 .3h0m-.7 .2h0m-.1 .7h0m-.3 .5h0m-.1 1.2h0m-.4 .9h0m-.9 .3h0m-.2-1.2h0m-.2-.6h0m-.1-1.5h0m.6-.6h0m.8-.3h0m9.8-2.7h0m.8-.8h0m.9-.5h0m.7-.2h0m1.2-.8h0m1.2-.4h0m17-3.9h0m-11.2 3.2h0m0-1h0m-.1-.7h0m-.5-.3h0m-3.2-.3h0m.9 .7h0m-13.1-4.1h0m.7-1.2h0m0-.5h0m-10.1 13.9h0m1.2-.7h0m.8-.8h0m.5 .1h0m0 .7h0m-.1 .6h0m-.6 .5h0m.2 .8h0m-.1 1.4h0m0 .5h0m33.7-16.3h0m1.1 1h0m1.1 .6h0m1 .3h0m-15-2.4h0m-.6-1.1h0m-.7-1.1h0m.1-.5h0m.7-.9h0m13.1 3.8h0m-.3 1.4h0m.4 .4h0m1.1 0h0m.7 .4h0m.4 .4h0m.9 .7h0m.6 .7h0m-.2 .5h0m-.2 .8h0m.5 .2h0m-43.1 2.5h0m-.5 .7h0m-.6 .3h0m-1.3 .6h0m-.5 0h0m-.8-.8h0m-.4-.6h0m-.7-.3h0m.1-1.2h0m-1.4-.1h0m-1.1-.7h0m-.5 .4h0m-.8 .6h0m-.5-.7h0m.1-.5h0m-.4-.7h0m.3-.6h0m.7 0h0m.9-.6h0m-.2-1.5h0m-.3-.6h0m23.9 8.8h0m.1 .8h0m1.3 .5h0m.6 0h0m-43.1-22.7h0m-.5 1.5h0m-.5 1.1h0m-.7 .7h0m-.3-.4h0m-.3-.5h0m-.5 .3h0m-.8 .4h0m6.3 6.8h0m-.2-.5h0m-.1-.6h0m1-.6h0m1.3-.7h0m.7-.3h0m.4-.6h0m-.4-.7h0m-.5-.4h0m-.9 0h0m-.4-1.2h0m-1.4 .2h0m-1.1-.7h0m-.3-.8h0m-.7-.8h0m12 5.7h0m.8 .4h0m.6-1h0m24.2 18.6h0m-.3-.6h0m-.6-.5h0m-.8 0h0m-.7-.7h0m-1.4 .1h0m-.8 .1h0m-.8-.1h0m-1.3-.3h0m-1.3 .5h0m-.4 .6h0m-1.3-.2h0m30.7-6.5h0m.8 0h0m1.4 .2h0m1.1-.5h0m1.4 .4h0m1 .6h0m-8.8-1.6h0m-1.2-.1h0m-.6 .6h0m-.2 .7h0m-.8 .9h0m-10.9-7.6h0m25 2.6h0m-1.2 .1h0m-.7 .1h0m-.9-.6h0m-.6-1.3h0m.2-.9h0m.3-.8h0m-.1-.6h0m1.1-.4h0m.7-.3h0m.7 .6h0m.5 .8h0m-.8 .7h0m-.5-.4h0m-.7-.5h0m-.6-.2h0m-.6 .3h0m-1-.8h0m-.1-1h0m-30.8 11.9h0m-.1-.7h0m-.4-.5h0m-1 .1h0m-.6 0h0m-.2 .5h0m-.4 .8h0m-.9 .5h0m-.1 1h0m-.5 1h0m-.1 .9h0m0 1h0m-.4 .9h0m1 1h0m.5 .7h0m-5.3-13.6h0m.6 .7h0m.4 .7h0m-.2 1.4h0m15.4 2.1h0m-1.4 .4h0m-1-.4h0m-.8-.2h0m-.5 .2h0m-.6-.1h0m-1 .7h0m-1.1 .8h0m-.5 1h0m-.4 .3h0m-1.4 .4h0m-.8 .5h0m-.4 .3h0m-.9-.4h0m-.1-1h0m.1-.6h0m.2-.6h0m.5-.2h0m.8-.4h0m.7-.2h0m1.1-.4h0m-41.2-10.4h0m1.1-.3h0m.7 .2h0m-.6 .4h0m-.6 .3h0m-.2 .6h0m74.6-.8h0m-.5-.3h0m-1.4 .2h0m-.5 .1h0m-1.1-.2h0m-.8-.3h0m-.6 0h0m-12.1 13.1h0m.3-.9h0m-.1-1.2h0m-.3-.6h0m-.4-.4h0m-.7-.2h0m-.6-.6h0m-1.5 .1h0m-.5 .2h0m-.3 .4h0m0 .6h0m1.4 .5h0m1.4-.2h0m.9-1.1h0m1.2 .1h0m1.4 .6h0m.6 .5h0m.9-.3h0m.9 .1h0m1.2-.3h0m1.4 .1h0m-7-11.6h0m.9 0h0m1 .6h0m.4 .6h0m.5 .9h0m0 .9h0m-23.3-.1h0m.4-1.2h0m.6-1.1h0m-.2-.5h0m-.3-1h0m.7-.7h0m33.3 15.1h0m-.9-.3h0m-.2 .7h0m.6-.9h0m.7-.2h0m.7-.2h0m.6-1.2h0m.2-1.3h0m.1-.5h0m-.7-1.1h0m-.5-.3h0m-.3-1.2h0m.7-1h0m.3-.4h0m.9-.1h0m.9-.7h0m0-1.1h0m.4-.9h0m0-.5h0m-7.8 .2h0m-.3 .6h0m-.8 1.1h0m-.7 .3h0m-.9 .4h0m-.8 .3h0m.1 .8h0m.5 .2h0m.7 .1h0m.9-1.1h0m.4-.9h0m.1-1.3h0m.6-1.1h0m-.3-1.5h0m-.1-.5h0m-.1-1.4h0m.3-.7h0m.3-.7h0m7.1 8.3h0m-.7 .8h0m-.6-.1h0m-.7-1h0m-.8-.2h0m-1.2 0h0m-.9 .1h0m-.3 .7h0m.6 .8h0m.8 1h0m.2 .6h0m.6 1.3h0m-.3 .5h0m-.2 .4h0m-.1 .7h0m.7 .8h0m0 .5h0m-.8 1h0m-.6 1.1h0m-.5 .4h0m-.8 .8h0m-.3 1h0m-.6 .6h0m-.7 1.1h0m-1.3 .6h0m-.8-1h0m.4-1.1h0m-.2-1.3h0m0-1.2h0m-.4-.5h0m-.9-.1h0m-.9 1.1h0m-1 .7h0m-.6 0h0m14.6-10.6h0m-.4-.4h0m-.2-1.2h0m-1.5-6.1h0m.5 .2h0m.5 .2h0m.6 .4h0m.3 .5h0m.4 .3h0m.1 .6h0m-40.8 13.1h0m-.3-.5h0m-1.3-.3h0m-.5 .4h0m-.7 .4h0m-.8 .7h0m11-2.4h0m.2 1.3h0m.7 .5h0m.2 1h0m.2 .9h0m-.3 .9h0m-.7 .2h0m-.5 1h0m.3 1.4h0m.9 .9h0m-2-16.4h0m12.4 4.9h0m.4-.7h0m1.2-.1h0m1.4-.2h0m1.2-.1h0m.8 .7h0m-.2 .5h0m-.3 .5h0m-.2 1.4h0m.3 1h0m.5 1.3h0m.8 1h0m-43.8-9h0m1.1 .3h0m-.1 1.3h0m13-9.2h0m.4 .3h0m-.1 .9h0m.4 1.1h0m1-.5h0m-1-.8h0m-.4-.4h0m-.8-.2h0m-.6-.2h0m-1.2-.7h0m-.9-.3h0m-.7 0h0m-.8 .3h0m-1.2-.7h0m-.1-.7h0m.6-1.3h0m36 16.8h0m-.3-.8h0m-.6-.4h0m-1-.5h0m-.5-.4h0m-.8 0h0m-1.2-.6h0m-.6-1.3h0m.5-.8h0m.4-.6h0m-46.5-14h0m-.1 .6h0m.3 1.3h0m.3 .9h0m.7 .3h0m.7-.8h0m.6-1.1h0m-1.5 .1h0m.8 .9h0m-.1 .8h0m0 1h0m-.5 .8h0m-.6 .6h0m-.8 1.1h0m-.7 .4h0m-1.4 0h0m-.7 .2h0m-.1-.9h0m-1-.7h0m.1-1.2h0m.4-.6h0m.4-1.4h0m.2-1.4h0m48.4 16.2h0m-.8 .3h0m-1.1 1.1h0m-1.1 .6h0m-1.1 0h0m-1.1-.2h0m-.5-.1h0m-.2-1h0m.6-.8h0m1-.3h0m-49.6-12.5h0m-.9 .2h0m-1.3-.2h0m-.2-.6h0m.8-1.1h0m.1 1.3h0m-.8 .3h0m-1 .9h0m-.2 1.2h0m.2-1.1h0m.6-1.1h0m.5-1h0m1.1-.5h0m.6 .1h0m1.4 .3h0m.9-.6h0m.6-.9h0m.5-.4h0m.3-1h0m.3-.5h0m.9-1.1h0m.5-.4h0m.6-.6h0m.4-.8h0m-.5-.7h0m-.1-.6h0m-.9-.5h0m-1.1-.8h0m-.4-.2h0m22.3 15.1h0m.1-.6h0m.4-.5h0m.6-1.4h0m.2-1.4h0m.4-.9h0m.7-1.2h0m.2-1h0m.8-.5h0m.2-1.4h0m.5-.6h0m-.3-1.4h0m-.4-.9h0m-.4 .4h0m-26.4-1.4h0m-.2-1.5h0m-.1 .6h0m.3-.8h0m.3 .6h0m62.8 13.5h0m.5-.1h0m1.1 1.1h0m.9 .5h0m.5 .8h0m-.2 1h0m.9 1.1h0m1.1 .4h0m.8 .6h0m.5 .3h0m.2 .5h0m0 1h0m-.5 .5h0m-1 1h0m-1 1.1h0m-.1 1.2h0m1.3 .8h0m1.4-.2h0m.8 .1h0m1-.4h0m.8-.7h0m1-.3h0m.1-.6h0m-.4-.5h0m-.5-.5h0m-.3-.8h0m-.7 0h0m-.7-.1h0m-.5-.4h0m-.7-.4h0m-1.1 .8h0m-.7 .5h0m.1 1.4h0m1.3-.3h0m1.1 .2h0m.5 0h0m.7 1.2h0m.3 .4h0m0 .8h0m-.3 .3h0m-.9-.2h0m-.5-1.2h0m-.2-1h0m-1-.5h0m-.3-.4h0m-.7-.9h0m-.3-.9h0m-1.2-.9h0m.2-.5h0m1.2-.4h0m1.4-.2h0m.9 .9h0m.2 1.1h0m.5 .3h0m.2 .5h0m-.9 .6h0m-1.4 .1h0m-.3-.4h0m-.2-.7h0m-1.1 .1h0m-.5-.8h0m-.5-1.5h0m-.4-1.2h0m.4-.8h0m1 0h0m.8-.8h0m-.3-1.2h0m-.9-.3h0m-.6 .1h0m-1.1-.7h0m-1.2-.6h0m-.6 8.1h0m.6 .3h0m.8 .4h0m.6 .5h0m1.3 .2h0m-.6 1.2h0m-.3 1h0m0 .6h0m1.4 .4h0m.7 .5h0m.3 .9h0m-21.7-4h0m.3 1.5h0m.6 1.1h0m.5 0h0m1 .5h0m.6-.2h0m.3 .7h0m.9 1h0m.8-.9h0m.9-.2h0m1.1-.1h0m.3 .5h0m-.1 1h0m.9 .8h0m.5 .1h0m.8 .2h0m.2 .5h0m-.1 1h0m-.1 .5h0m.6 .3h0m-.1 .9h0m-.7 .8h0m-.7 .4h0m-1-.6h0m0-.8h0m0-.6h0m.6-.7h0m.8-.8h0m1.2-.5h0m-.5-.7h0m.4-.6h0m-.2-.6h0m-1-.9h0m-1.2-.7h0m-.5-.7h0m-1.2-.8h0m-.1-.8h0m0-.7h0m-.3-.7h0m.7-.8h0m1-.2h0m1.1-.1h0m.7-.6h0m.1-1.1h0m-1.1-.8h0m-.7 0h0m-.3 .4h0m-.7 .1h0m-.2 .6h0m.4 .6h0m.5 .4h0m.1 .8h0m-.1 1h0m-.2 .6h0m-.5 .2h0m.1 .8h0m-1.4 .2h0m-1 1.1h0m-.4 .3h0m-1.2 .3h0m-1 .8h0m-.1 .6h0m-.4 1.2h0m-.2 .7h0m0 .9h0m-.3 .6h0m.7 .6h0m.9-.9h0m.1-.6h0m.4-.6h0m-.1-1.2h0m-.1-.9h0m.3-.4h0m.5-.8h0m-.9-1h0m-.8-1.1h0m-18.8-6.8h0m.7 .9h0m.4 .3h0m1.5 0h0m.7 .5h0m.4 .5h0m.4 1h0m.6 .6h0m28.3 6.3h0m-.5-.6h0m-54.9-15h0m1.3-.3h0m1.1-.4h0m.7-.4h0m.6 .4h0m1.4 .2h0m-.4-.4h0m-1-1.1h0m-.2-1.3h0m-13.6 2.6h0m.5-.4h0m-.3-.8h0m-.9-.5h0m-.6-.1h0m-.3-.5h0m-1.3-.3h0m-1.1-.1h0m-.7-.4h0m.8-1.2h0m4.7 3.9h0m-.6-.3h0m-1-.2h0m-.7 1.2h0m.4 .7h0m.1 .9h0m1.1 .8h0m.8-.1h0m.6 .1h0m-1.2 .5h0m-.7 0h0m-.7 0h0m-.5 .4h0m-.5 .4h0m.7 1.1h0m1.1 .2h0m1.2 .9h0m.4-.6h0m.6-.2h0m1.4-.3h0m5-13.5h0m38.8 18h0m-.4-.6h0m-.6-.7h0m0-1.2h0m-.7-.9h0m-.4-.6h0m-.7 .6h0m-1.2 .7h0m-.7-.6h0m-1.2 .7h0m0 1.2h0m.7 .1h0m.9-.4h0m1.3-.2h0m.7-.4h0m1.1-.3h0m1 0h0m.5 .2h0m.6 .2h0m1.1-.3h0m.5-1.1h0m.2-1h0m-29 6.7h0m1.1-.6h0m.8 .5h0m.8-.5h0m.9-1h0m.2-.8h0m-.4-.7h0m-.9-.6h0m-.4-1.3h0m-.3-1h0m-.6-.6h0m-32.2 4.9h0m-.9 .6h0m-.6 .8h0m.8-.2h0m1-.4h0m1-.6h0m-2.5 4.5h0m-.4 1.5h0m-.3 .5h0m-.5 .7h0m-.3 .5h0m.8-1h0m-.3-.5h0m7.1-11.8h0m1-.1h0m1-.3h0m-1.1 .4h0m-.8 .2h0m.2 .9h0m.3-.7h0m.6-1.4h0m-.8-1.1h0m107.1 22.8h0m-.5-.1h0m-1.2-.8h0m.3-.7h0m.3 .4h0m.8 .7h0m.2 1h0m-1 1h0m1-1h0m.7-.1h0m.8-.2h0m.9-.1h0m.8-.1h0m.9-.6h0m.5 .8h0m-.3 1.4h0m0 1.1h0m-.9-.8h0m-1.3-.3h0m-.4-.9h0m.9-.2h0m.6-.4h0m.6-.4h0m.8-.8h0m-22.9-13.8h0m-.5 .7h0m-.9 .6h0m-.9 0h0m-.4-.4h0m-.9-.2h0m-.8-.4h0m-1.5 .2h0m-.6-.8h0m-.2-1h0m-.2-1.1h0m.3-1h0m.6-.6h0m.8-.6h0m1.1-.9h0m-.2-1.2h0m.1-.7h0m.1-1h0m.3-.8h0m.7 .6h0m.1 .8h0m-.8 .4h0m-.6-.8h0m-.7-.1h0m-1.1 .9h0m-.3 .4h0m1.4 .3h0m.6 1.1h0m25.3 2.6h0m-.1 1h0m.6-.1h0m.8-.6h0m1.1 .3h0m.9 .6h0m.8 .3h0m1.3 .2h0m-.5-.1h0m-8.6 20.6h0m.9 .1h0m1.5-.3h0m.7 1.1h0m0 1.1h0m.8 .9h0m-.7 .2h0m-1.3 .4h0m.7-.6h0m1.2-.6h0m.3-.9h0m.5-.7h0m-.3 .5h0m-.4 .5h0m-.8 .4h0m-.9-.1h0m-.3-1.1h0m.4-.6h0m.5-1.2h0m.7-.8h0m.6 0h0m.6 1h0m.3 1.2h0m-1 .5h0m0 .6h0m-25.6-29.3h0m-.7-.6h0m-.2-.5h0m-8.5 13h0m18.7-.6h0m.1 .9h0m-.4 .5h0m19.5-12.4h0m-.5-.7h0m.5-.7h0m-.8-.3h0m-1.3 .4h0m-24.1 1.7h0m1.3-.7h0m.5 .6h0m-.3 1.2h0m.7 .6h0m1.2-.2h0m.8-.7h0m.3-.5h0m.4-.3h0m.9-.1h0m.4 .4h0m.7 .6h0m.6 1.3h0m-.2 .6h0m.1 1.2h0m.4 1.4h0m.8 .6h0m.8 1.2h0m.4 .4h0m.3 .4h0m-.2 1.2h0m-.5 1h0m-.1 .7h0m-.5 .2h0m.1 .5h0m.1 .5h0m-.1 .9h0m.8 1.1h0m1.2 .3h0m.7 .3h0m1.1 0h0m.4-.4h0m.6-1.3h0m-.3-.7h0m-.8-1.2h0m.5-1.4h0m.1-.9h0m.9-.1h0m5-1.3h0m-1.1 .4h0m3.9-2.6h0m-1.3 .4h0m-1-.2h0m-.4-.7h0m-.4-.8h0m-.5-.2h0m-1.4-.2h0m-.6 0h0m-.7 .2h0m-.8 .5h0m.3 .4h0m-.5 .5h0m-.1 .5h0m-.2 .6h0m.1 1.4h0m.6 .7h0m.7 .2h0m.3-.7h0m1-.8h0m.7-.5h0m.3-1.1h0m.7-.6h0m-28.6 5.7h0m.5 .4h0m-.9 1.1h0m.3 .4h0m.8 .3h0m-.4 1.1h0m.3 .6h0m1.1 .5h0m.3 .5h0m1.5 .3h0m.7 .1h0m-.3-.3h0m-.3-1h0m.4-.6h0m.3-.7h0m.4-.6h0m.5-1.1h0m.9-1h0m.6 .4h0m.7 .1h0m.7 .2h0m.7 .4h0m.4 .7h0m.1 1.3h0m.3 1.4h0m1 .8h0m13.7-15.3h0m-.3-1h0m.4-1.1h0m.5-.7h0m.7-.9h0m-.4-.6h0m-.7 .1h0m-.8-.4h0m1 .1h0m1.4 .5h0m.6 .1h0m1.2 0h0m.7-.1h0m.8-.1h0m.8-.2h0m-31.6 17h0m6-10.2h0m-.5-.5h0m-.9-.6h0m-.8-.8h0m17.5-5.5h0m.6-.1h0m1.4 .4h0m1.1 .7h0m1 .5h0m.3-.6h0m.6-.5h0m.6-.5h0m.8 0h0m1.2-.8h0m1.4 .3h0m.4 .6h0m1.2-.2h0m.8 .6h0m.2 .6h0m0 .7h0m-1 .8h0m-.8 1.2h0m-.6 .4h0m-.1 1.5h0m-1.2-.3h0m-1.1 .3h0m-1.4 0h0m-.8-1h0m-.2-.5h0m-1.2-.9h0m-.5 .1h0m-.1 .5h0m.3 .6h0m.1 1.3h0m.2 1.5h0m1.2 .5h0m.2-.8h0m.9-1h0m.7-.8h0m.9-.4h0m-.2-.8h0m.1-.6h0m-.5-.3h0m-.5-.2h0m-1 .3h0m-.7 .1h0m-.6-.2h0m-1.2 .1h0m-.8 .6h0m-1 1h0m.3 1h0m-1.4 .5h0m-.6 .2h0m-.9 .6h0m-.3 .7h0m.6 1.2h0m.9-.2h0m1.3 .3h0m.3 .5h0m.8 1h0m-.4 1.1h0m7.9 5.2h0m1.1-.5h0m.2-1h0m-.1-.6h0m-.8-.7h0m-1.1 0h0m-.7 0h0m-.7 .3h0m-.6-.1h0m-.6 .5h0m-1.1 .2h0m-1.1 .7h0m-.5 1.2h0m.3 1.4h0m-15-9.6h0m-.6-.1h0m.2-1h0m.2-.5h0m7.1 4.7h0m.2-1.2h0m-1.2-.8h0m-.5-.7h0m-1-.2h0m-.7-.1h0m-1 .5h0m-.4 .2h0m-.7 .2h0m-.7 .1h0m-1.1 .9h0m-.3 .4h0m-.3 .4h0m-1.4 .6h0m-.7 1.2h0m21.7 7.7h0m.1 1.2h0m.4-1.2h0m.1-1.5h0m-1.3-.7h0m-1.1 .8h0m-1 0h0m-.6 .2h0m-.3 .4h0m.9-.1h0m1.1 .2h0m1.4 .3h0m.9 0h0m.8 .2h0m.8-.3h0m1.3-.5h0m1.3-.5h0m.9-.4h0m.6 .2h0m.2 1h0m-.1 .5h0m-.4 .5h0m.1 1.4h0m.1 1.5h0m.5 1.3h0m-.4 1.3h0m-.3 .4h0m-.9 .1h0m-.8 0h0m-.4-.8h0m-16-24.6h0m.9-.1h0m.6-.7h0m.2-.5h0m.9-.1h0m1.3-.7h0m-.3-.8h0m0-.6h0m-5 9.3h0m-1-.2h0m-.7-.4h0m-1.2 .6h0m-1.2 .6h0m-.7 .7h0m-.7 .4h0m-.6 .8h0m-.3 .9h0m-.6 1.2h0m-1 1h0m-.4 1.4h0m-.7 .4h0m-.5 .3h0m-.6 .3h0m-.7-.6h0m-.1-1.1h0m-.5-1.2h0m-.7 .2h0m-.8 1.3h0m-.2 1.3h0m.1 .6h0m.6 .8h0m1 0h0m1.1 .4h0m.5 .9h0m.4 .8h0m.2 1.1h0m.1-1.1h0m.7-.3h0m.4-.4h0m.4-.7h0m1.1-1h0m-.3-.6h0m1-.6h0m1.1-.3h0m-9.3-.7h0m-.1-1.3h0m-.4-.8h0m.2-.6h0m.3-1.4h0m0-.6h0m.5-1.2h0m.2-1.4h0m.4 .5h0m.7 1.2h0m16.2-.8h0m.3 1h0m.2 .5h0m-.4 .6h0m-.9 .5h0m-1.3 .7h0m-1.4 .4h0m-1.2 .8h0m-1.1-.5h0m-.5 .4h0m-.2 .5h0m-.3 .7h0m-.7 1.3h0m-.6 .9h0m-.5 .8h0m-.7 .3h0m-1.3-.1h0m-.8 .6h0m-1.2-.4h0m-.3-1.1h0m-.8-.5h0m-1.3-.7h0m-.7-.8h0m-.4-.6h0m-1-.8h0m-1.2-.7h0m-.5 0h0m-1.3 0h0m28.1-5.1h0m-1.1-.6h0m-.4-.4h0m-1-.3h0m-.4-1.5h0m.4-.5h0m-12.7-2.9h0m.5-.2h0m.8 .1h0m1.1 .9h0m.7-.7h0m.5-1.2h0m-.4-.5h0m-.8-.9h0m.3 .5h0m-.4 .4h0m-.8 .2h0m-1 .6h0m-1.1 .6h0m-9.2 12.2h0m-.1-.6h0m.4-1.3h0m.5-.5h0m1.1-.4h0m1.2 .4h0m0-.9h0m.3-1h0m.9-1.1h0m-.5-.5h0m-1.5 .1h0m-1.1-.2h0m-.4 .7h0m-.7 .4h0m-.6-.1h0m-1.1 .3h0m-.6 .7h0m.5 .6h0m-1 1.1h0m-.8 .7h0m-1 .7h0m-.3 .5h0m1 .9h0m.5 .2h0m.8-.2h0m1.4 .3h0m.7 .7h0m-.6 .8h0m-.6 .6h0m-.5 .3h0m-1.1 .7h0m-.8 .9h0m.9-.8h0m26.4 2.4h0m-.4-.5h0m-.5-.8h0m0-.8h0m.6-1h0m.9-.6h0m.1-.5h0m.9-.5h0m.6-.5h0m.8-1.1h0m1.3-.7h0m.8 0h0m.7 0h0m1-9.6h0m-.1 .6h0m-.8 1h0m-.6 1h0m.9 .8h0m.7-.1h0m-.4 13.3h0m.6 .2h0m.3 .4h0m-.5 .6h0m-.5 1.1h0m-.1 1h0m-.9 .8h0m-.7 0h0m-.9-13.6h0m0 1.4h0m-.2 .8h0m-.6 0h0m-.8-.4h0m-.9 .9h0m-.1 .6h0m.2 1.4h0m-.2 .9h0m-.7 0h0m-1-.4h0m-.4-.8h0m-.9-1h0m.2-.5h0m-.3-1.2h0m-.7-.7h0m-.7 .8h0m-.7 1.2h0m.9 .7h0m.5-.1h0m1.4 .4h0m0 .5h0m.8 .2h0m-3.1-10.2h0m.2-.6h0m.1-.6h0m-.3-1.1h0m.2-1h0m8.9 21.1h0m1.1 .5h0m.8-.5h0m.8-.9h0m-.2-.9h0m0-.8h0m-.6-.8h0m-.8 .6h0m-1 .4h0m-.5 1.1h0m-.4 1h0m.1 .8h0m1.4 .3h0m.3 .7h0m.6 .3h0m1 .1h0m1 .5h0m.6-.5h0m.8-.9h0m-17-9.4h0m.3 .6h0m1.1 .5h0m.6-.1h0m.7-.1h0m1 .2h0m1.1-.4h0m1.5 .4h0m.8-.4h0m.6-.4h0m-16.6-7.4h0m-.8-.6h0m4.7 4.9h0m1.1-.2h0m.6 .6h0m1 .1h0m1.3-.1h0m.7 .3h0m.6 .3h0m.8 .3h0m.4-.4h0m.3-.6h0m.2-1.2h0m-.5-.5h0m-.9-.2h0m-.7-1.1h0m-.6-.4h0m-.7-.4h0m-1.4 .4h0m-1.1 .1h0m-.9-.2h0m-1.1-.6h0m-.9 .6h0m-.9 .1h0m-1.1 .8h0m-.6 1h0m6.8 .5h0m-.3 .6h0m-.8 1.2h0m-1 .7h0m-.3 1.4h0m.1 .6h0m1.2 .5h0m.9 .3h0m.4 .8h0m.5 .4h0m1.1-.2h0m.7 .2h0m.4 .4h0m.8 .5h0m.8-.2h0m.6 .6h0m-.2 .8h0m-.6 .1h0m.6 .8h0m.8-.4h0m.7 .1h0m.8 1.2h0m.4-.4h0m.9 .1h0m.9 0h0m.1 .7h0m1.3 .4h0m1.2-.8h0m.6-.6h0m.1-.8h0m-17.5-.2h0m.2 1.1h0m.3 1.3h0m-1 0h0m-1 .6h0m.4-.5h0m-.3-.4h0m1.5-10h0m.3-.7h0m.3-.6h0m.7-.6h0m1.4-.6h0m.2-.4h0m.4-.5h0m.9-1.7h0m-.8-1.2h0m-.5-.7h0m-.5-.5h0m-.9-.7h0m-.4-.7h0m-.3-.9h0m.3-1.3h0m.2 19.4h0m.3 1.3h0m.3-1.5h0m-.2-1.3h0m-.2-1.3h0m.1-1.3h0m0-.7h0m-.1-1.3h0m0-1h0m19.2-.1h0m.3-.5h0m.9 .3h0m.3 1.3h0m.1 .8h0m-.6 .7h0m-.6 .2h0m-.5 0h0m-15.6 4.5h0m1-.1h0m1.9-4.5h0m-.8 .7h0m-.3 1.3h0m.3 1.3h0m0 .9h0m-.6 .2h0m1-.2h0m.9-.7h0m.7-.1h0m.6 .6h0m.7-1.2h0m.5-.8h0m.5-.8h0m-25.8-12.8h0m5.4 1.5h0m1.1 .2h0m1.1-.6h0m.9 .1h0m1 .1h0m.8 .7h0m1.2-.3h0m.6 .3h0m.5 0h0m1.2 .5h0m.4 .3h0m.7 .2h0m1.4 .1h0m.2 .6h0m.6 .6h0m1.4 .6h0m1.4 .4h0m1 .2h0m1.4-.3h0m.7 .2h0m.8-.7h0m-9 7.8h0m.7-.5h0m.4-.8h0m.1-.6h0m-.1-1h0m.6-.4h0m1.3-.1h0m1.4 .4h0m.6 1.3h0m.5 .5h0m-.9 .5h0m-.2 1h0m.3 .4h0m1.5 0h0m.5 .4h0m.7 .1h0m.7 .6h0m.8 .6h0m.2 .9h0m0-.5h0m.1-1.1h0m-1.5 .1h0m-.5 .4h0m-.5 .2h0m-10-8.9h0m.3 .4h0m.9 1.1h0m-.6 1.1h0m-.6 .1h0m-.2 1.2h0m-.7 .7h0m-.6 .9h0m.3 .7h0m29.5-1.5h0m.3 1.2h0m-.2 1.5h0m-.3 .4h0m-.5 .6h0m-.7 .8h0m-1.2-.1h0m-1 0h0m-1.2 .6h0m-.8 .6h0m-.5 .5h0m0 1.1h0m-1.4 .6h0m-.5-.1h0m-.7 .3h0m-.6-.1h0m-.8 .1h0m-.2-1.1h0m-.3-1.2h0m-27.8-18.3h0m-.3 .7h0m.3 1.3h0m22.9 8.3h0m-.7-.4h0m-.2-.6h0m-1.1-.6h0m-.7-.1h0m-.3 .3h0m.6 1h0m-1.3 .1h0m-.8 0h0m-.7-.2h0m-.8-1.1h0m-.5-.3h0m-1.3 0h0m-.3 .6h0m-.7 .3h0m-1.3 0h0m-.8 .8h0m-.4 .7h0m-.8 .6h0m-.6 .4h0m-1.2-.6h0m-1.2 .5h0m-.3 1h0m-3 0h0m1.4 .1h0m.5 .3h0m.4 .6h0m.6 1.3h0m.4 .5h0m1 1.1h0m0 .6h0m.5 1.2h0m.9 .8h0m.8 .9h0m1 .3h0m.9-1.1h0m.8-1.1h0m1.5-.1h0m1.1-.4h0m-5.7-12.1h0m-1.1 .8h0m-.7-4.8h0m1.1-.3h0m21.6 15.8h0m1.1 .2h0m.5 .8h0m1.5-10.3h0m-.6-.2h0m-.4 .7h0m.1 .6h0m.3 1.3h0m.8 1h0m.9 .1h0m.5 .3h0m-.2 .8h0m.4 1.2h0m-1 1.1h0m-1.1 .7h0m-.5 .5h0m-17.3-1.8h0m-11.3-.2h0m.3 .8h0m.1 1.3h0m.5 1.3h0m.5-.1h0m.6 .2h0m.3-1.3h0m.1-.8h0m-.1-.9h0m-.2-.9h0m.2-.9h0m1.2-.2h0m1.2 .7h0m.8 0h0m.6 .2h0m.6 .3h0m.8 .7h0m0 1.2h0m.1 .9h0m-.3 .8h0m-1 .8h0m-.1 1.3h0m-.1 .7h0m2.2-14.2h0m.7 .5h0m1 .2h0m.7 .4h0m1.3 .4h0m.6 0h0m1 1h0m1 1.1h0m.8-.2h0m1.1 .2h0m-.1 .9h0m-.7 .6h0m-1.1 .1h0m-.8 0h0m-1 .7h0m-.5 1.1h0m-7.8 4.4h0m.5-.8h0m.6-.4h0m1.5-.3h0m1 .7h0m1.3 .2h0m.7-1.1h0m.5-1.2h0m17.6-12.5h0m-1-.4h0m-.4-1.3h0m-.9-.4h0m-.6 .6h0m-1 .2h0m-1.1 .4h0m-1-.5h0m-.4-.9h0m0-.8h0m.5 .5h0m-.1 1.3h0m.8 1.2h0m1.1 .6h0m.5 1.1h0m-.1 1h0m.4 .4h0m.8 1.1h0m.5 1.4h0m-.3 .8h0m.5 .5h0m-.1 .9h0m.4 .5h0m.6 .9h0m-28.7-.2h0m-.4-1.4h0m34.5 7h0m-.1 .9h0m.8 .4h0m.6 .1h0m.7 0h0m-1.1 1h0m.3 1.2h0m-1.4 .4h0m.2 1.2h0m.7 .1h0m-.5-1.2h0m.4-.9h0m-.5-1.3h0m-.8-.6h0m.1-1.1h0m-.4-1.3h0m-.7-.5h0m-.8-.5h0m-32-3h0m-.9-1.1h0m-1.1 0h0m-1 0h0m-.3-.6h0m.2-.9h0m0-.6h0m0-1.1h0m.5-.6h0m.9-1.1h0m-.3-.8h0m-1.2 .6h0m-.9 1.1h0m28 6.2h0m.1 .8h0m-.1 .6h0m-.7 .9h0m-.4 .7h0m-.8 .2h0m-1 .4h0m-.9-.2h0m-1.2 .1h0m-.3 .9h0m-1 .4h0m.7-.7h0m1.1-.6h0m1.2-.3h0m.8-.7h0m-1.3-.9h0m-.2-.6h0m-.2-.4h0m.8-.8h0m1.1 .1h0m.7-.5h0m1-.6h0m1.3-.7h0m.6 .1h0m1.4 .4h0m.6 .8h0m-.3 .6h0m-.3 .9h0m-.9 1h0m30.6-8.6h0m.3 .9h0m.1 1.2h0m.4 1h0m-.7-.4h0m-.3-.7h0m-.2-.6h0m0-.7h0m.5-.9h0m.7-.2h0m.4-.8h0m-.2-1.1h0m-1.5-.3h0m-1.3 .2h0m-1.4 0h0m-1.3 0h0m-.7 1.3h0m-.5 .6h0m-.5 .8h0m.5 .3h0m.6 1.1h0m.4 .8h0m.8 .4h0m.5 .5h0m.6 .5h0m.6 .2h0m.8 .1h0m1.3-.1h0m1.2 0h0m-.6-.8h0m-16.5-10.2h0m11.6-9.4h0m-.7-.4h0m-.8-.6h0m-.9-.9h0m-.8-.8h0m-.6-1.1h0m-.3-1.3h0m-.4-.9h0m8.7 22h0m-17.8-15.2h0m-.6-1.1h0m.6 1.1h0m.3 1h0m.2 1.4h0m.6 1.2h0m0 1.4h0m.2 .7h0m.8 .9h0m.9 .3h0m1.4-.1h0m1 .2h0m0 1.4h0m.4 1.4h0m.6 1.3h0m.4 .5h0m-.8 .5h0m5.7-3h0m-.4-.8h0m-1.3 .7h0m-.8 .7h0m-1.1 .1h0m-.8-.2h0m-1.3-.6h0m.2-.6h0m.8-.6h0m.4 .3h0m.8 .5h0m.5 .2h0m.9-.5h0m.6 .4h0m1.1-1h0m.1-1h0m1.5 .2h0m.6-1.1h0m-.2-.9h0m.6-.3h0m.9 0h0m.9 .7h0m.5-.2h0m1.2-.5h0m.5-.6h0m-.4-.4h0m-.3-1.2h0m-.5-.9h0m-.7-.6h0m-1.1-.9h0m-.6 .3h0m-.4 .4h0m-.9-.1h0m-.8 .2h0m-.9 .2h0m1.2 8.1h0m.7-.2h0m.7 .2h0m.8 .1h0m1.2 .3h0m.7 .2h0m.3 .5h0m.7 .4h0m.8 .2h0m-14.9 1h0m.5-1.1h0m.8-1h0m1-.4h0m.4-.5h0m-.1-1.3h0m-1.4-.4h0m-.6-.3h0m-.6 0h0m-.6 .3h0m-.6 .3h0m-1.2 .3h0m-.7-.1h0m-.6-.8h0m-.6-1.3h0m-.7-.7h0m-.8 .8h0m.7-.1h0m.5-1h0m0-.8h0m-.4-1.1h0m14.6 11.7h0m-.3-.7h0m.9-.7h0m0-.5h0m.8-1.3h0m0-1h0m-1.3-.3h0m-.5 0h0m-2.8-25.1h0m.3-1.4h0m-.3-.6h0m.2 1h0m.8 .6h0m.8 1h0m.8 .9h0m.7 0h0m1.4-.2h0m.8-.5h0m1.2 .8h0m.3 .7h0m-1.1 29.3h0m-.3 1.1h0m-.7 .7h0m-.5 .3h0m-.6-.2h0m-.3-.5h0m-.9-1h0m-.5-.1h0m-1.1-.6h0m7.2-29.3h0m.2-.6h0m-.1-1.1h0m-.5-.7h0m-.4-.4h0m-.2-1.1h0m-.4-1.1h0m-1.3 .4h0m-1.2 .4h0m-.9-.1h0m-.6 .2h0m-1.2-.3h0m3.1 34h0m-.4 .8h0m-1.1-.2h0m-1-.8h0m-.6-.1h0m-.8 .1h0m-1-.3h0m-.7-1.2h0m-.2-1.4h0m.2-.8h0m.9-.7h0m.5-.5h0m.4-.3h0m-.2-.7h0m.1-1.4h0m.4-.9h0m.8-.9h0m.8-.3h0m.4-.8h0m-.6-1.1h0m0-1.3h0m.3-.8h0m.2-.7h0m.2-1.2h0m-.3-.5h0m.5-.6h0m.3-1.1h0m.8-.5h0m.7-.6h0m.7-1.1h0m.3-1.2h0m.4-1.1h0m.6-.3h0m.5-1.1h0m.6-1h0m-.3-1.4h0m-.5-.9h0m-.7-.7h0m-.7-.8h0m0-.8h0m.1-1.4h0m1 .2h0m.8 .3h0m-.3 1.3h0m-.5 .6h0m-.1 1.4h0m-.7 1h0m-1.1 .2h0m-.6-.2h0m-.6-.2h0m-.9 25.9h0m-.9-.8h0m-1.2-.3h0m-.7 .8h0m-.7 .3h0m-.7 .2h0m-.7 .1h0m-.2 .4h0m0 1.3h0m.9-.4h0m1.3 .3h0m.4-.5h0m.1-.6h0m.3-1.2h0m-.2-1h0m-.2-1h0m.4-.5h0m.6-.2h0m.5 .6h0m.6 .3h0m1.2 .1h0m1.4-.4h0m.5 0h0m1.4 .2h0m1.2 .2h0m-.9-.4h0m-1.2-.8h0m-1-.7h0m-1.3 .1h0m-.7 1h0m-1.1 .7h0m-.8 .2h0m-1.1 0h0m-1 .4h0m-1.3 .5h0m-.1 .6h0m-.4 1.3h0m.5-.4h0m.3-.6h0m.6-.6h0m.1-.8h0m-.2-.6h0m-.5 0h0m-.5 .1h0m-1.1 .4h0m-.8-.1h0m-.2-1.5h0m-.8 .1h0m.6-.2h0m.9-.4h0m.5-.3h0m1.2-.5h0m1 .2h0m.5 .4h0m.4 .5h0m.4 1.1h0m1 .6h0m1.5 .1h0m.4 .6h0m1 .8h0m-8.3-25.9h0m-.3-.5h0m-.5-1h0m-.1-.7h0m-.5-.9h0m-.6-1.3h0m-1.2 7.9h0m-.4 1.1h0m-.2 .8h0m-.3 .5h0m-.8 .2h0m-.9 1.1h0m-1.2-.6h0m-.6 .7h0m12.4-9.2h0m-.2-.5h0m-.3-.4h0m.2-1h0m.5-.4h0m1.1-.6h0m.7-.7h0m1-1.1h0m.2-1.4h0m-4.5 10.2h0m-1-.5h0m-.6-.7h0m-.3-.7h0m-.3-.8h0m-.1-.7h0m.6-.8h0m0-.5h0m-.9-1h0m.9 .2h0m.3-.5h0m.6-.3h0m1.1-.2h0m7.6 25.9h0m.1-.8h0m1-1h0m-.3 .5h0m-.8 0h0m-.7 0h0m-.3-.4h0m-1-.8h0m-1.2-.7h0m-.7 .2h0m-.5 .7h0m1.1 .4h0m.4-.2h0m1.1-.3h0m.9-.3h0m.5 0h0m.6-.1h0m1.5 .1h0m-1.2-.9h0m-.6 .1h0m.2 .5h0m.1 .9h0m-1.2 .7h0m-.7 .4h0m0 .7h0m-.3 .6h0m-.6-.3h0m-1-.7h0m-1.4-.2h0m-.9 .8h0m-.6 1h0m.5 .3h0m1 1.1h0m0 1.2h0m.3 1.3h0m-.1 1.2h0m.1 .7h0m.2 .6h0m.5 .7h0m.2 .8h0m.9 .7h0m1.3-.1h0m-.1-1.2h0m.8-1.1h0m-.1-.7h0m-.1-.5h0m-1-.7h0m-.4-.8h0m.6-1.4h0m.6-1.3h0m.2-1.2h0m.3-1.2h0m-.2-1.2h0m.7 0h0m.7 .4h0m.6 .8h0m-.6 1.3h0m-.4 .6h0m-.1 1.3h0m-.5 .6h0m-.9 1h0m-.3 .8h0m-.7-.1h0m-1.2 0h0m-2.8-18.3h0m1.2-.7h0m.9-.2h0m-.1-.6h0m.7-.9h0m.3-.9h0m.9 .3h0m1.5-.3h0m1.4-.1h0m.8 .1h0m.5 .2h0m-.3-.5h0m-.2-.8h0m-.7-.2h0m-.9 .2h0m-.6 .3h0m-1.4-.5h0m-.8-.2h0m-.6-1.1h0m.6-.1h0m1.4-.5h0m1.1 .8h0m.7 1.1h0m.5 1h0m0 .5h0m.9 .8h0m-.6-.6h0m.2-1.5h0m0-.5h0m.4 .8h0m-.9 .2h0m-.3 .5h0m-.7-.2h0m1.2 13.9h0m-1.1 .6h0m-.9 .3h0m-1.2 .6h0m-.6 .5h0m-.8 0h0m-.8 .6h0m-.7 .3h0m-.7 .3h0m-.6 1.4h0m-.3 1.1h0m.7 1.1h0m-.1 1.2h0m.5 1.1h0m1.2 .8h0m.3 .7h0m.2 .7h0m.4-.9h0m.3-.8h0m-.3-1.4h0m-1.3-.7h0m-12.2-7h0m.5-.7h0m.4-.6h0m.6-.1h0m12.8 1.1h0m.1-1.5h0m-.6-.8h0m-.5-.3h0m-.5-.7h0m.1-1.3h0m.1-1.1h0m-.3-.6h0m.3-.9h0m.9-.3h0m.7 .1h0m-.2 .7h0m.7 .8h0m-.2 .6h0m.2 .8h0m.5 .4h0m.1 .6h0m.6 .5h0m.6 1.3h0m.7 1.1h0m1.1 .6h0m-.8 1.2h0m-.5 .5h0m-.4 .5h0m-.1 .6h0m-1.2 0h0m-.7 1.3h0m-.4 .5h0m-.9 0h0m-.2 1.3h0m-.6 .8h0m-1.1 1h0m-.5-.2h0m-.9-.6h0m4.8-25.4h0m.2-.8h0m-.2-.5h0m-2.2 12h0m-.3 1.1h0m-.2 .5h0m-.3 .8h0m-1.1 .2h0m-1.2-.2h0m-.7 .3h0m-.9 0h0m-.6-.3h0m1.4-.9h0m-.5 .4h0m-.5 .1h0m-1 0h0m7.9-5.1h0m-.2 .4h0m-.5 1.2h0m-.7 1h0m.7 .5h0m-.1 .8h0m-1 .4h0m-.6 1.1h0m-.1 .5h0m-.8 .2h0m-.7 .4h0m-.4 .5h0m-1.4 .4h0m-1.1-.4h0m-.2-.7h0m1.1 .3h0m1.2-.4h0m1.1 .1h0m1.1-.9h0m.8 .8h0m1.2 .3h0m.7-.2h0m.5 .3h0m1 1h0m.6 1.1h0m.1 1.5h0m-1 .8h0m-1 .5h0m-.2 .9h0m-.5 .7h0m-.6 .4h0m-.3 1.3h0m.3 .5h0m-.5 .7h0m.1 .5h0m-.8 .5h0m-.4 .4h0m-.2 .5h0m0 1.2h0m.6 .5h0m.7 .9h0m.8 .5h0m-9-9h0m-.7-.8h0m-2.1-11.8h0m.3 .5h0m.6 .6h0m1.1 .8h0m.7 1.3h0m6.3 12.7h0m0-.6h0m-1.1-.1h0m-.9 .3h0m-.7-.5h0m-.4-.6h0m-.4-1.3h0m-.3-1.1h0m-1-.1h0m-1.2 .5h0m-.5 0h0m8.8-5.8h0m2.8 .5h0m-.7-1.3h0m.3-.6h0m1.2-.9h0m1.2-.1h0m-.5 .3h0m-1.4 .2h0m-.4 .4h0m-1.3 .4h0m-1.4 .2h0m-.5-.6h0m-.1-.8h0m.3-1.3h0m.5-.4h0m19-14.3h0m-7-18.6h0m.1-.7h0m.5-.4h0m-.9 .5h0m-.9 .2h0m1 0h0m1.4-.2h0m.7-.8h0m1.2 0h0m-4 20.4h0m.9-.6h0m.4-.4h0m1-.7h0m.7 0h0m1.3-.6h0m.7-.5h0m.4-.9h0m.6-.5h0m1 .3h0m1-.1h0m1.2 .4h0m.8-.4h0m.7-1h0m-.5-.3h0m-.6-.9h0m-.1-1.2h0m-.4 1h0m-.4 .7h0m-.3 .8h0m-.8 .4h0m-1.2 .2h0m-.6-.3h0m-.8-1.1h0m-.8-.3h0m-.8-.3h0m-.8-.1h0m-.3-1.2h0m-.2-.6h0m.4-.4h0m1.2-1h0m.3-.3h0m.7-.3h0m.7-.2h0m.8 0h0m-1 0h0m-1.2 .6h0m-.1 1.1h0m1 1h0m.6 1h0m.2 1.2h0m-.2 1.4h0m.1 1.1h0m.5 1h0m.4 .4h0m.6 .2h0m.6 1.2h0m.3 1.3h0m-1.1 .4h0m-.7 .5h0m-1.4 .5h0m-.5-.2h0m-.7-.8h0m-1.1 0h0m-.9-.2h0m-.8 .2h0m-.6 1.2h0m-1.1 .3h0m-1.4-.2h0m-1-.8h0m13.4-6.5h0m.1-.7h0m-.3-.5h0m0-1.1h0m-.8 .2h0m-1.4 .3h0m-1.2 0h0m-.9 .6h0m-1.2 .9h0m-1.4 .5h0m-.7 .7h0m.5 1.2h0m-.3 1.3h0m-.1 .9h0m0 1.4h0m.5 1.1h0m.4 .6h0m.8 1.1h0m-.1 1.2h0m0 1.2h0m.5-.3h0m1-1h0m.8-.6h0m1.2 .6h0m1.3 .2h0m0 .6h0m.5 .5h0m.9 1h0m.9 .3h0m-.1 .7h0m-.7 .7h0m.3 1.5h0m.8 .2h0m-.2-.7h0m-.3-.5h0m-.6-.4h0m-.2-.6h0m.8-.3h0m.7 0h0m1-.6h0m.1 1.1h0m-.4 .8h0m-1.1 .5h0m-.7 .3h0m-11.1 11.9h0m1.3-.1h0m-.5 1.1h0m-.1 1h0m-.2 .9h0m-.1 1.1h0m.8 1.2h0m.5 .8h0m-.7 1.1h0m9.8-12.9h0m1.4-.3h0m-.4 1.4h0m-.3 1.4h0m.5 .7h0m-.1 .6h0m.5 .9h0m.4 1h0m-1.2-.2h0m-.9-.2h0m-1.1 0h0m-.5-.3h0m.4-1.1h0m.5-.4h0m1.3-.7h0m0-.8h0m.5-1h0m-1.3 .5h0m-1.1-.1h0m-.8-.2h0m-1.2-.3h0m-.7 .2h0m-1.4-.2h0m-6.7-27.9h0m1-.6h0m1 .8h0m.5 1h0m-.2 1.4h0m.3 .6h0m.2 1.5h0m.7 .4h0m.9-.4h0m1-.4h0m1.2-.7h0m.6-.3h0m-.3-1h0m.2-1.2h0m.7-.9h0m.9 1.1h0m.1 1h0m.1 1.4h0m.1 .6h0m-.6-.2h0m-1.5 .2h0m-.6 .7h0m-1.1 .3h0m-.8 1.2h0m-1.3 .6h0m-1 .9h0m.1 .5h0m-1.3 .3h0m-.7-.1h0m-.7-.5h0m.3-1.4h0m.1-.9h0m0-.7h0m.2-.5h0m.5-1.3h0m1.3 0h0m1.3 .2h0m.2 1.2h0m.4 .4h0m.8 1.1h0m.5 .8h0m.8 .7h0m-.3 .6h0m-1 1h0m-.3 .9h0m.7 1h0m.6 1.4h0m-1 .4h0m-.6 .8h0m-1.1 .8h0m.2 .6h0m-.1 1.4h0m.7 .7h0m.8 .4h0m.2 .9h0m-.7 .8h0m-.6 .8h0m1.1-8.8h0m-.5 0h0m-1.4 .1h0m-.5 .9h0m-.6 .6h0m-.9 .5h0m-1.1 .2h0m-.9 .7h0m-.6 0h0m-.7-.2h0m-.7-.2h0m.3-1.4h0m.1-.6h0m-.2-.6h0m.3 1h0m.5 .7h0m.8 .5h0m.6-.1h0m.9-.5h0m.6-1.3h0m-.1-1.1h0m.4-.5h0m1-.4h0m.7-.1h0m1.2-.5h0m.5 .2h0m.8 .4h0m-.1 1.4h0m.6 .8h0m-.2 .8h0m.3 .7h0m1 1.2h0m.9 .5h0m.9 .9h0m.2 .5h0m.9 .4h0m1 .2h0m.3-.6h0m.2-.5h0m0-1.5h0m.2-.5h0m.5-.2h0m-.2-.6h0m-.6-.1h0m-.9 .3h0m-.4 .6h0m-.4 .8h0m-1.3 .7h0m-.7 .9h0m-.9 .2h0m-1 .3h0m-.7-.3h0m-.7-1h0m-.6-.6h0m-.6 .1h0m-1 .7h0m.8 1.2h0m.8 .6h0m.5 .9h0m.6 1.2h0m1.1 .5h0m.3 .5h0m.6 1h0m.7 .5h0m1 .2h0m.8 1.1h0m.5 .5h0m1.2 .4h0m.9-.7h0m-3.2-18h0m-.6-.5h0m-.5-.1h0m-1.4-.6h0m-1.1-.1h0m-1.4 .2h0m-1-.5h0m-.6-.8h0m.1-.5h0m.5 0h0m1.1 .3h0m.4-.8h0m.1-.8h0m-.2-1.1h0m.4-.7h0m.1-1.1h0m-.5-.6h0m-.8-.6h0m-1.1-.7h0m-.6 .7h0m1.5 20.3h0m5.5-4.6h0m-1.2-.6h0m.2-1.5h0m-.1-.7h0m-.6-.5h0m-.7-.8h0m-.7-1.1h0m-.6-1h0m-.2-.8h0m-.6-.1h0m-1-.1h0m-.9 .2h0m-.9 .7h0m-.5 .5h0m-.1 .7h0m.7 .6h0m.3-1.3h0m-.2-1.1h0m.1-1.2h0m.1-1.5h0m0-.5h0m7.9 18.6h0m-.6 .3h0m-1.2 .1h0m-.8 0h0m-1.4 .6h0m-1 .4h0m-1.2 .1h0m.1-.8h0m.2-.6h0m.3-.9h0m-.3-21.4h0m.6-.5h0m1-.9h0m.9-.4h0m1-.4h0m.3-.7h0m-.8 .7h0m-1.2 .2h0m-1 .2h0m-.5 .2h0m-.7 1.3h0m.2 .6h0m.9 .6h0m.3 .8h0m-.2 1.4h0m-.4 1.4h0m.5 1.1h0m.3 .6h0m-.1 1h0m-.6 1.4h0m-1.2 .2h0m-.7 0h0m-1.1 0h0m5.2-.7h0m-.6-.4h0m.7-1.1h0m.7-1h0m.6-.7h0m.2-.6h0m.8-.8h0m0 1.1h0m-8.2 15.7h0m-1-.2h0m-.5-.1h0m-1.1 0h0m-.9-.2h0m1.3 .5h0m.8 0h0m.5 .1h0m.9-1.1h0m-.7-1.1h0m-.6-.8h0m-.9 .5h0m-.3 1h0m.2 .9h0m-.3 .8h0m-.1-8.7h0m.6-1h0m1.2-.4h0m1 .8h0m1.4 .4h0m11.9 5.6h0m-.6 .1h0m-.6 0h0m-1 .2h0m-1.2-.1h0m-1.3-.4h0m-6.7-1.1h0m1.2 .5h0m.5 .5h0m0 .9h0m-.5 .7h0m-.5 .7h0m.2 1.3h0m.2 .6h0m.2 .5h0m.3 .4h0m-.3 1.3h0m-.2 .7h0m.1 1.2h0m.3 .5h0m0 1.2h0m-.6 .3h0m-1.1 .6h0m-1.1 0h0m-1.1 .1h0m-1.2-.4h0m-.9 .1h0m-.7-.2h0m.5 1.2h0m-.6-10.5h0m.8-.6h0m1.1-.8h0m.6 .2h0m1 .5h0m.4 .3h0m1.3 .3h0m.4 .8h0m.1 .5h0m.3 .9h0m3.1 .1h0m1-.4h0m.4-.7h0m.3-1.3h0m-.7-.5h0m-.5 .4h0m-.4 .5h0m-.8 .3h0m-.9-.5h0m-.5 .1h0m-.5 .2h0m-.3 1h0m-4.7-10h0m-.4 .6h0m.2 .7h0m.8-8.9h0m.8 .4h0m-2.8 20.6h0m-.2-.5h0m.4-.7h0m6.8 12.2h0m.6 .9h0m.4 .3h0m.7 1h0m.2 .6h0m0 .6h0m-1.4 .3h0m-.5 .7h0m-.6 .7h0m-1.2-.3h0m-.5-.4h0m-.5-.5h0m-1.2-.2h0m-.8 .1h0m-.9 .9h0m-.9 0h0m.1 .6h0m.1 .7h0m11.9 4.7h0m1.4-.1h0m.6 0h0m.6 .5h0m1-.4h0m-.8-1.2h0m-.3-.5h0m0-1.2h0m.1-.5h0m-.2-.8h0m.7-.6h0m0-.9h0m.7-.7h0m1.3-.1h0m-.6-.3h0m-.5-1.2h0m-.7 0h0m-.7 .7h0m-.5-.5h0m-.1-.8h0m-.3-.6h0m-1.4-.1h0m-1-.1h0m-1.1 .2h0m-.8 .2h0m-.2-.9h0m.3-1.4h0m-.3-1.1h0m.1-.8h0m-.4-.4h0m-.6-.1h0m.3-.8h0m-2.2-32.1h0m.1-1.2h0m.1-.5h0m.2-.5h0m0-.6h0m-.9-.7h0m-1.4-.1h0m-.8 .1h0m-.9 .4h0m9.1 49h0m.4 .7h0m1-1.1h0m.4-.6h0m-.6-.7h0m-.7 .3h0m-.2 1.2h0m0 .8h0m-7-42h0m-.6-.2h0m-.6-1.1h0m-.2-.8h0m-.9-.9h0m-1-1h0m.2-1.1h0m-.2-.8h0m.5-1h0m.9-1.3h0m.6-.4h0m.7-.5h0m.5-.6h0m-.1-1.3h0m.4-.5h0m-.6 .9h0m.1 1.2h0m.7 .7h0m1.3 0h0m.8 .5h0m.4 .5h0m-6.2 .1h0m.5-1.4h0m-.4-.3h0m.7 27.7h0m-.7-1.2h0m-.5-.1h0m-1.1 .2h0m-.5 .1h0m-.6 .1h0m-.4-.2h0m-.4-1.2h0m.4-.5h0m.5-.4h0m1.3 0h0m1.1 .4h0m1 .9h0m.5 .6h0m.7 1.1h0m.4 .9h0m.1 .6h0m.7 .5h0m1.4 .6h0m.5 .6h0m.4 1.1h0m.6 .7h0m1.2 .1h0m1-.1h0m.9-.1h0m.7 .2h0m.9 .5h0m.8 .9h0m.8 .5h0m.4 .9h0m.1 .6h0m-.4 .3h0m-.8 .3h0m-.9-.5h0m-1.3-.4h0m-.4-1.3h0m-.2-.7h0m-.1-.9h0m.1-1.4h0m.1-1.1h0m-1.1-15.7h0m-.8-.7h0m.2-1h0m.5-.4h0m.6-.2h0m.8 .4h0m1.1-.3h0m1.2 .7h0m.8 .1h0m.7 .3h0m.4 1.1h0m-.3 .5h0m-.4 .8h0m-.2 .5h0m-.4 .5h0m-.7 0h0m-.7-.4h0m-.5 .3h0m.1 .8h0m-.6 .5h0m-.7 .4h0m-6.1 5.4h0m-.4-.6h0m.2-.8h0m.7-.4h0m.6-.5h0m5.1 7.4h0m-.5 .5h0m-.9 .2h0m-.6 .5h0m-.7 1.1h0m.1 .6h0m.4 .5h0m.6 .4h0m1.1 .3h0m.3 .4h0m.4 .4h0m.5 .4h0m.9 .6h0m.1 .5h0m-.4 .4h0m-.5 .8h0m-.6 1h0m-1.3 .4h0m-.6-.1h0m-.5-.7h0m-1-.5h0m-.8-.7h0m-1.2 0h0m-.9-.8h0m-.8 .1h0m-.2-1.3h0m-.6-.6h0m-.4-1.3h0m-.2-.6h0m1-.8h0m.5-.5h0m.4-1.2h0m.9-.2h0m.8 .3h0m1.2 .8h0m0 .7h0m.1 .7h0m1.2 .8h0m.4 .4h0m.8 .5h0m.6 1.4h0m.5 .4h0m.7 0h0m.6 .3h0m.5 .6h0m.1 1.4h0m-10.3-6.4h0m-.6 .1h0m-1.4 0h0m-1.3-.1h0m0 .7h0m.5 1.1h0m-.4 .7h0m0 .7h0m1 .4h0m.9 .6h0m.6 .3h0m.3 .8h0m.3 .7h0m.6 .7h0m0 1.3h0m0 1h0m-.3 .8h0m.3 1.1h0m.4 .7h0m-.2 .7h0m.3 .9h0m-.1 1.4h0m.6 1h0m0 1.4h0m.7 1h0m-.2 .7h0m.5 .9h0m1.3-.2h0m1-.2h0m.7-1.2h0m1.1-.9h0m.5-.2h0m.2-.5h0m.9-.8h0m-11.1-21.3h0m-1.1-.5h0m6.8 21.1h0m-.7 .1h0m-.6 .3h0m.1 .9h0m1.1 .6h0m-.1 .6h0m1.4 .3h0m1.1-1h0m-.2-.4h0m-1.2 .3h0m.2 .6h0m.8 1h0m1 .5h0m-.1 .9h0m.2 .6h0m.7 .1h0m.6 .4h0m-4.2-38.1h0m-1.3 .2h0m-1 .5h0m-1.2-.3h0m-.2-.5h0m-.3-.5h0m-.7-1.1h0m-.8-.1h0m-.4-1.1h0m1.3-.7h0m.8-.8h0m1.2-.7h0m.4-1.4h0m-3 8.4h0m-1.2 .9h0m.2-.9h0m-.3-.4h0m16.3 19.7h0m-4-15.1h0m-.6-.1h0m-.5 .5h0m-5.2-9.7h0m.2-1h0m.7-1.1h0m-3.2 6.7h0m-.8-.1h0m-.9 .1h0m-.7 .5h0m-.5 .2h0m-.3 .4h0m-.4 1.1h0m-.3 .7h0m.2 .6h0m0 1.4h0m.6 .3h0m6.2-13.6h0m1.1 .2h0m.4-.6h0m1.3 .5h0m.3 .7h0m1 .3h0m0 .9h0m-.8 1.2h0m-.5 .3h0m-.5 .7h0m-1.2 .7h0m-1.2 .4h0m-1.3-.3h0m-.7-.3h0m-.8-.7h0m-.1-1h0m-1-1h0m-.5-.3h0m.1-1.3h0m-.3-.4h0m-.8-.4h0m-1-.8h0m.3-.6h0m1.3 0h0m.8 .2h0m.7 .2h0m.9 .9h0m5.6 0h0m.9 1.1h0m.4 .8h0m-.5 1.1h0m.1 .6h0m.7 .4h0m1.1 .3h0m.8 .1h0m-4 42.8h0m-1-.1h0m0-.7h0m.8 .6h0m.5 .5h0m1.2 5.7h0m-.7 .7h0m-.1 1.1h0m-.2 .5h0m.3 1.4h0m.4 .5h0m-.6 1.1h0m1.3 .3h0m1 .2h0m.7-.5h0m1.1-.4h0m.7-.5h0m1-.7h0m.1-.8h0m.7-.9h0m.1-.5h0m-.7-.1h0m-.6-.5h0m-1.1-.7h0m-.5-.7h0m-1.1-.1h0m-1 0h0m-3.2-.5h0m-.1-1.2h0m.8-.2h0m.5 0h0m-.1-.9h0m.4-.4h0m1.3-.7h0m1.3-.4h0m1.1 .2h0m.8 .5h0m1.1 .8h0m.7 .2h0m-.6 .5h0m-.6 0h0m-1.5 .4h0m-1-.6h0m-.5-1.3h0m-.7-1h0m0-.6h0m-.4-1h0m.6 1.4h0m-.5 1.3h0m.1 .6h0m.3 1.3h0m-1.1 .3h0m-.8 .3h0m.6 .1h0m1.1 .3h0m.7-.4h0m1-.7h0m.9-.2h0m.6-.1h0m.5 .4h0m.7-.9h0m.5-.9h0m-.5 .7h0m-.1 .7h0m.9 1.2h0m-.6 1.4h0m.5 1.2h0m.3 .9h0m.2 .7h0m-.7-.3h0m-.4-.4h0m1.2-.8h0m-.3-1.1h0m-1.3-.4h0m-.6 .8h0m-.4 1h0m-.4 .7h0m-1.1 .4h0m-.6 1.3h0m-.1 .9h0m-1 .8h0m-.8-.1h0m.6-4.9h0m-.5 .3h0m-.4 .5h0m-.9 .7h0m.5 .4h0m.7 .5h0m.7-1h0m.6-.9h0m1.1-.2h0m.9-.4h0m.3-.9h0m.6-.6h0m.3-.5h0m-.6-.5h0m-.2-.8h0m-.4-.3h0m-.4-.5h0m-.3-.9h0m-.6 .4h0m-1 .7h0m-1.4-.1h0m1.8 6.5h0m-1.1-.1h0m-1.1-.2h0m1.3-.5h0m1.3-.5h0m.5-.4h0m.9-.7h0m0-1.3h0m.9-.6h0m.7-.8h0m-.1-.8h0m-.9-.9h0m.1-.8h0m-.2-.7h0m1.2-.2h0m.7-.2h0m-1 .8h0m-.9-.5h0m-.8 1.1h0m-.7 .9h0m-.1 1.1h0m-.9 .3h0m-.3 .6h0m-.1 .8h0m-.5 .8h0m-.2 .7h0m.4 .7h0m.5 .9h0m.9 1.2h0m.5 1.3h0m-.1 .7h0m-1.1 .9h0m-.4 .6h0m-.3 .5h0m-.3 1.4h0m.4-.4h0m-.1-.8h0m.3 .7h0m1-.1h0m.9-.6h0m.5 .2h0m1.1 1.1h0m-5.1-12.8h0m-.6 .6h0m6.7 16.8h0m-.5-.3h0m-.9-.7h0m4.1-54h0m.7 1.1h0m1.1 .9h0m-.2 .6h0m-1 .3h0m-.6 .2h0m.9-.6h0m.5-.4h0m.8-1.1h0m-.4-.7h0m-1.2-.7h0m-1-.9h0m1.1 .7h0m.6 .7h0m-.5 1.3h0m-.5 .4h0m.5 1h0m.2 1.3h0m.4 1.2h0m.3 .6h0m.5 .3h0m.6 .5h0m.3 .8h0m-2.5 3.8h0m4.8 3h0m.3 13.2h0m-.1-16.9h0m-.1-1.2h0m-.2 16.8h0m.2-4h0m.1-3.3h0m-.2-5.4h0m.3-4.1h0m.6 16.9h0m-1-8.8h0m-.1-1.4h0m.2-3.2h0m.4 9.2h0m.1-7.3h0m-.2 11.9h0m.3-7.1h0m-.6 3.2h0m-.4-11h0m.4 .3h0m-6-25.4h0m9.5 43.8h0m-2.9 3.6h0m1.5 8.8h0m-57.7 13.8h0m-15.3-2.1h0m-1.5 5.8h0m2.9-39.4h0m70 48.9h0m-.1-.7h0m.7-.7h0m.1-.5h0m.4 1.1h0m.6 .8h0m0 .9h0m-.3 .6h0m-.5 1.2h0m-.2 .5h0m-.1 1.2h0m.7 .6h0m.4 .9h0m-1.3 .5h0m-.6 .7h0m-.8-.2h0m-1.1 .9h0m.6 0h0m.3-.6h0m0-.5h0m-.2-1.2h0m.2-1.2h0m0-1h0m0-.7h0m1.1-1h0m0-.7h0m-.5-.2h0m.6-.6h0m.7 .2h0m.8 .8h0m.2 .9h0m.1 .7h0m.6 .5h0m-.9-.4h0m-.4 .5h0m-.6 .2h0m-.4-.8h0m-.5-.5h0m.1-1.4h0m-1.2-.8h0m.1 .6h0m-.1 .6h0m1.1 0h0m.3 .5h0m.7 0h0m1.1-.4h0m.3-1.2h0m-.4 .8h0m.4 .9h0m0 1.2h0m-1.4 9.1h0m-.3-1h0m-.9-.3h0m-.4 .8h0m-.2 .6h0m1.1 .4h0m-1-9.4h0m2 2.1h0m2.4 4.6h0m-5.2-7.5h0m2 4.4h0m1.5 3.7h0m-1.4-5.3h0m.9 4h0m.9 0h0m-1.5-2.6h0m.1 2.7h0m-.2-2h0m-1.6-1.2h0m1.9-.2h0m-.3 1.9h0m1.5-1h0m-3.3 .1h0m1.3-1.7h0m1.6-.2h0m-1.2 1.2h0m.3 1.9h0m.4 1.4h0m1.6 1.3h0m-.5-.1h0m-4.5-5.9h0m2.3 23.9h0m.8 16.4h0m-.6-21h0m6.7 16.5h0m-4.9-19h0m3.5 8h0m0 22.1h0m-4.4-29.2h0m0 10h0m-1.1-6.6h0m4.5 12.9h0m-2.9-12.2h0m1.7 14.3h0m-1.9 8h0m2.6-26.9h0m-3.3 .3h0m5 14.3h0m.1 10.1h0m.7 1h0m-5.7-18.8h0m0 9.4h0m-.3-9.7h0m.7 10.8h0m3.4 6h0m-3.3-11.9h0m3 3.1h0m-2.7-2.6h0m-.5-8.9h0m.5-7.8h0m5.6 31.2h0m-5.2-32.4h0m-2.1 4.3h0m6.2 24.4h0m-4.9-5.6h0m-.9-7.6h0m3.6-9.8h0m.8 18h0m2.2 1.8h0m-.1 4.8h0m-2.5-3.5h0m-3-20.9h0m3.1 16.8h0m-2.4 7.7h0m-1.5-28.2h0m4.3 5.3h0m-2.3-5.3h0m-1.3-1.1h0m5.8 25.9h0m-5.6-10.4h0m5.7 5.9h0m-1.5 3.1h0m2.1-2.7h0m-5.3 3.6h0m7.1 3.6h0m-1-.4h0m-5.1-6.3h0m6.6 5.2h0m-5.1-1.7h0m-4.1 4.9h0m3.4-1.5h0m1.2 3.1h0m-4.2-14.6h0m4.5 7.4h0m-3.6-6.6h0m4.6-1.7h0m-1.6 1.4h0m1.5 4.8h0m1.4-3.4h0m-7.1 3.2h0m7.4-2.6h0m-4.7 10.7h0m6.1-8.8h0m-4 8h0m-4.3-7h0m6.9 10.9h0m-5.1 .3h0m4.5-13.7h0m-.1 7.7h0m-2-12.4h0m-2 16.4h0m1.9-4.7h0m-.9 1.2h0m1.9-12.2h0m-1.5 18.2h0m4.6-6.5h0m-1.4 1.7h0m-3.6-14.4h0m-3.2 7.3h0m1.4 1.6h0m-2-4.9h0m6.2 7.6h0m1-4.4h0m-3.2 12.6h0m-2.8-3.5h0m2.6-3.7h0m-2.6-4.4h0m5-4.7h0m-1.7 9.1h0m-3 7.4h0m-.1-2.1h0m2.3-11h0m2.1 8.5h0m-.4 1.4h0m2.1 3.2h0m-6.6-6.2h0m-1.1 6.3h0m1.5-15.5h0m.3 4.2h0m2.1 10.3h0m-.8-2.7h0m1.3 1.2h0m.8-13.6h0m1.6 1.1h0m-2.4 4.1h0m1.6 9.4h0m-4.3-14.6h0m5.5 14.5h0m-3.2-5.9h0m-.7-3.8h0m-1.4 10.5h0m5.1-.8h0m-2.4-7.1h0m-1.8 3.2h0m5.1-11.2h0m.2-.3h0m-6.9 1.8h0m.1-3.3h0m3.4-1.2h0m-.2 18.6h0m0-3.3h0m-3.6-6.2h0m3.9-5.4h0m2.8 11.6h0m-3.6-15.5h0m-1.5 6.8h0m-1.2-5h0m2.3 10.8h0m-1.1-8.9h0m3.4 5.8h0m-3.5 6.4h0m4.7-11.5h0m-.3 12.8h0m-6.2-11.6h0m7 13.4h0m1.4-11.6h0m-8.7 1.6h0m1.7 6.9h0m16.2-4.9h0m-3.2-4h0m1.6 3.9h0m.4 8.9h0m-4.3-10.4h0m6.2 .2h0m-2.9 2.5h0m-2.7 2h0m5.5-2.3h0m-7.6-2.9h0m4.7 4.9h0m-1.1-5.1h0m-3.1 3.5h0m3.4 1.4h0m3.5-1.3h0m-7.1-4.7h0m3.9 1.2h0m-3.4 .2h0m1.5-1.5h0m.7 .8h0m.6 10.1h0m-2.2-9.3h0m7.2 9.9h0m-2.3-.4h0m.7-5.9h0m-2.8 1.4h0m3.6 1.3h0m-4.8-8.5h0m-2.6 6.1h0m4.9 5.1h0m0-3.1h0m0 2.2h0m-1.8-7h0m1 7.8h0m-2.2 1.3h0m.3 .1h0m3.7-5h0m-4-7.2h0m-1.3 11.8h0m6.4-5.9h0m-.4 4.4h0m-1.8-3.8h0m-.8 1.9h0m2.6 .1h0m-.6 2.9h0m-.3-3.6h0m.3-7.1h0m-3.1 6.6h0m-.3 3.6h0m.5-12.6h0m2.5 4.9h0m-1.2-1.2h0m-.8-.6h0m-1 .6h0m1 0h0m.3-.6h0m-.1-.9h0m.4-1.1h0m-1 .5h0m.4 .9h0m-.7 .4h0m1.3 .1h0m.2 1.5h0m.5 .1h0m.3 .5h0m1.1 .5h0m1.1 .9h0m-.3 .9h0m-1.2 .1h0m.5-1.1h0m-.6-.6h0m-.1-1.2h0m-.3-.5h0m-.1-.6h0m-.3-1.1h0m.1-1.1h0m1.1 .7h0m1 .6h0m.8 1.1h0m.7 .7h0m.8 0h0m.4 .5h0m-1 .8h0m-.5 .2h0m-1.2-.9h0m-.5-.3h0m-.5-.4h0m3.3 5.3h0m0-.7h0m.5-.2h0m.5-.8h0m0 1h0m-1.4-.2h0m-.8-.8h0m-.7-.4h0m-.3-.9h0m0-.5h0m-.1-.6h0m-31.3-37.6h0m2.5 13h0m.3 6.5h0m1.2 5.5h0m7.5-11.5h0m-.5 11h0m3.5-1h0m-1.2-11h0" stroke="#0bad4c" stroke-width="2.1" stroke-linecap="round" fill="none"/>
<line x1="185.40" y1="273.70" x2="185.40" y2="420.40" stroke="#222" stroke-width="1.3" stroke-dasharray="4.5,3.2"/>
<path d="M179.70,427.30 L185.70,427.30 L182.70,421.60 Z" fill="#111"/>
<polyline points="91.60,411.60 113.50,406.90 125.10,412.00 133.20,406.50 144.90,407.20 164.60,406.20 180.30,389.70 189.20,380.90 192.10,381.20 198.00,392.30 205.90,397.60 209.80,400.50 214.40,400.50 217.70,400.90 223.00,408.10 227.60,406.50 230.20,406.80 243.10,420.20 248.60,408.80 253.60,404.80 256.50,405.50 261.10,420.20" fill="none" stroke="#ff0000" stroke-width="2.2" stroke-linejoin="round" stroke-linecap="round" />
<circle cx="91.60" cy="411.60" r="2.55" fill="#000"/>
<circle cx="113.50" cy="406.90" r="2.55" fill="#000"/>
<circle cx="117.80" cy="409.70" r="2.55" fill="#000"/>
<circle cx="121.20" cy="407.70" r="2.55" fill="#000"/>
<circle cx="122.70" cy="411.20" r="2.55" fill="#000"/>
<circle cx="125.10" cy="412.00" r="2.55" fill="#000"/>
<circle cx="133.20" cy="406.50" r="2.55" fill="#000"/>
<circle cx="139.70" cy="407.70" r="2.55" fill="#000"/>
<circle cx="142.70" cy="405.00" r="2.55" fill="#000"/>
<circle cx="143.10" cy="409.10" r="2.55" fill="#000"/>
<circle cx="144.90" cy="407.20" r="2.55" fill="#000"/>
<circle cx="164.60" cy="406.20" r="2.55" fill="#000"/>
<circle cx="180.30" cy="389.70" r="2.55" fill="#000"/>
<circle cx="189.20" cy="380.90" r="2.55" fill="#000"/>
<circle cx="195.80" cy="393.70" r="2.55" fill="#000"/>
<circle cx="205.90" cy="393.70" r="2.55" fill="#000"/>
<circle cx="207.20" cy="401.50" r="2.55" fill="#000"/>
<circle cx="209.80" cy="400.50" r="2.55" fill="#000"/>
<circle cx="217.70" cy="395.60" r="2.55" fill="#000"/>
<circle cx="218.60" cy="398.30" r="2.55" fill="#000"/>
<circle cx="218.10" cy="406.80" r="2.55" fill="#000"/>
<circle cx="223.00" cy="408.40" r="2.55" fill="#000"/>
<circle cx="227.30" cy="406.50" r="2.55" fill="#000"/>
<circle cx="243.10" cy="420.20" r="2.55" fill="#000"/>
<circle cx="246.60" cy="399.60" r="2.55" fill="#000"/>
<circle cx="253.60" cy="404.80" r="2.55" fill="#000"/>
<circle cx="252.30" cy="420.20" r="2.55" fill="#000"/>
<circle cx="260.70" cy="420.20" r="2.55" fill="#000"/>
<path d="M420.5 415.8h0m38.6-14.4h0m-41.9 15.2h0m-.4-1.6h0m28.4-9.2h0m-21.4 5.8h0m27.3 3.6h0m-8.3-7.9h0m-5.1 .1h0m-20.2 11.1h0m26.5-14.1h0m8.8 10.7h0m-50.6 1.2h0m2.2-2.2h0m-13.1 4.6h0m67-2h0m-24.6-3.2h0m22-7.6h0m-6.3 6.6h0m-3-2.3h0m-19.7 4.7h0m-13-3.4h0m46.8-3.7h0m2.4 5.1h0m-4.6-5.6h0m6.6 1.6h0m-3.4 2.5h0m.5-6.3h0m-58.3 9.7h0m55.5 2.5h0m-25.7-1.1h0m27.8-3.6h0m-35.5-1.1h0m8.1-1.7h0m-13.4 1.3h0m42.7-3.7h0m-51.3 10h0m44.6-6.6h0m9.1 3.8h0m-8.2-3.6h0m5.5 4.5h0m-29.3 3.6h0m2.5-1.7h0m7.5-4.3h0m21-5.7h0m-54.7 11.7h0m-4.9-2.7h0m-9.4 2.8h0m53.3-6.8h0m3.6-6.4h0m6.4 .4h0m-22 5.9h0m-19.4 6.9h0m-5.9-5.6h0m9.6-.7h0m-4.2 4h0m26.1-10.6h0m13.8 7.5h0m-8.8 1.2h0m-23.6-4.5h0m39.5 .9h0m-20.4 .4h0m6.2 5.7h0m5.1-2h0m-45.2-1.1h0m55.7 2.5h0m-33.2-4.1h0m10.9 4.4h0m14.6-8.4h0m.2 9h0m1.2-11.8h0m-8.2-2.3h0m-19.2 9h0m-7.4-4.2h0m6.3 4.7h0m-40.9 4.4h0m73.4 .1h0m-39.4-3.1h0m-15.9 1.3h0m48.3-9.3h0m4.7 6.1h0m-66 5.2h0m46.1-9.2h0m-5.6 5.4h0m-15.5 4.5h0m10.6-6.6h0m5.1 5.7h0m23.8-6.7h0m-14.1 5.1h0m-35.6-1.3h0m28.3-4.2h0m24.9-6.2h0m-26.8 7.3h0m-1.2 1.6h0m26.3 3.1h0m-15.1-11h0m-47.1 9.6h0m8.8-1h0m-6.9 5.2h0m58 0h0m2-6.4h0m-19.3 5.8h0m6.2-.9h0m-29-2.6h0m22.7-2.7h0m7.4-8.8h0m-12.4 5.1h0m21.5-3.6h0m-4.4 11.9h0m-13.4-3.1h0m21.8-13.1h0m-14.2 13.4h0m-12 2.2h0m-5.7 1.9h0m32.3-3.8h0m.9 .4h0m-9.6-11.6h0m-12.3 5.6h0m24.5 1.1h0m-16.4-2.2h0m1.4 2.7h0m-24.7 7.8h0m-1.1-.1h0m-14.4-3.8h0m14.6 0h0m41.8 5h0m-43-1.1h0m-16.7-5.2h0m42-6.6h0m-50.6 12.5h0m9.6-4.9h0m33.9-8.6h0m24.6 6.1h0m-65 3.7h0m11.2 2.8h0m35.9-3.2h0m14.2-2.7h0m-46.6 5h0m12.4-4.2h0m34 1.8h0m-8.3-4.8h0m-22.3-3.2h0m12 3.2h0m-10.3 8.8h0m32.3-12.1h0m-2.3 9.7h0m-8.6-4.3h0m-1.7 4.9h0m-16.5-10.5h0m-20.4 12.8h0m28.6-7.5h0m19.2 2.4h0m-53.4 4.8h0m-14.8-.6h0m69.9-10.9h0m-14.4 8.5h0m-7.5-3.4h0m-33.2 2.6h0m34.9-5.3h0m-15.8 5.5h0m34 1.5h0m-26.2-1.9h0m10.5 4.2h0m-53.5-.9h0m27-3.8h0m27.6-2.1h0m-27.8 6.4h0m-21.1-3h0m16.5 .6h0m39.2-5.4h0m-27.2-.3h0m34.5 3.5h0m-42.9 0h0m-11.7-2.1h0m21.3-1.6h0m37.2 7.2h0m-44.9-5.4h0m-12.6 5.9h0m47.4-11.6h0m6.3 3.5h0m-53.2 3.4h0m25.3-4h0m.7 .5h0m29.3 4h0m-63.5 4.6h0m44.6-10.7h0m-61.4 10.9h0m50.1-1h0m-17.1-6.7h0m2.1 1.1h0m4.3 7.2h0m18.1-3.9h0m-5.4-2.3h0m-36.7 4.7h0m65.3-2.3h0m-48.3-5.3h0m-10.5 2.4h0m51.4-9.9h0m-55.8 12.4h0m52.8 1.4h0m-49-.5h0m9-2.6h0m-4.6 .8h0m20.3 1.8h0m-23.6 2.1h0m28.1-.1h0m-25.7 .9h0m36.2-2.5h0m-19.5-6.4h0m10 2.8h0m3.8-6.4h0m-.6-1.9h0m10.7 3.6h0m-21.1 9.7h0m30.1-1.3h0m-23.8-7h0m13.2 7.6h0m8.5 1.5h0m-57.4-.6h0m53.6 1h0m-37.3-1.6h0m36.6 1.3h0m-3.1-3.5h0m17.2 4h0m-14.2-15.6h0m-14.8 14.3h0m-41.4-1.8h0m57.7-9.7h0m.4 9.3h0m9.9-7.6h0m-21.5-1.2h0m7.4 6.6h0m-12.7 2.4h0m14.3-1.9h0m-54.4 1.8h0m32.6-5.7h0m26.2 2.6h0m9.6-5.4h0m-40.8 11h0m29-4.1h0m-53.2 4.1h0m34.1-.6h0m5-11.7h0m-15.5 4.6h0m-13.4 3.7h0m27.3-6.5h0m13.8 8.1h0m-7.5-12.3h0m-3.3 5.5h0m-34.8 6.7h0m2-1.3h0m-.1 .3h0m25.4-5.4h0m-15 9.6h0m-16.8-5h0m50.5-.9h0m-10.8-6.5h0m-9 7.2h0m4.8-7.3h0m2.2 2.3h0m.8 8.9h0m4-13.2h0m11.9 12h0m-28.3-8.7h0m-2.1 5.5h0m23.1 3.4h0m-.9-.6h0m-9.8 2.8h0m-28.1-1.9h0m34.8-8.9h0m18.5-2.2h0m-33.7 5.3h0m24.8-8.1h0m-44.4 15.4h0m47.9 0h0m-.5-8.4h0m-10.6 .9h0m-22.1-1.7h0m.8-1.1h0m10.9 7.8h0m-43.3 .7h0m49.8 1.6h0m14.1-1.5h0m6.8-12.2h0m-21.2 2.7h0m18.5-5.5h0m-70.4 17h0m72.3-7.5h0m-25.7-3.5h0m17.2 5.6h0m-34 4.3h0m32.7-13.3h0m-37.7 11.7h0m-15.3-.9h0m23.5 1.1h0m-5.3-2.5h0m-16.9 2.8h0m58-9.7h0m-32.3 .8h0m8.9 8.3h0m13.5-.1h0m-31.4-1.1h0m14.6-5.3h0m14.4 .9h0m7.7 4.2h0m-62.1 1.4h0m50.2-2.1h0m-.9-1.1h0m-.2-4.6h0m-17.1 2.2h0m16.4 1h0m-12.4-1h0m29.9-9.3h0m-7.4 16.6h0m-11.9-4.9h0m23-3.5h0m-1-1h0m-51.2 4.7h0m53.6-7.7h0m-.7-2.4h0m-10 .3h0m-59 13.1h0m16.6 .1h0m42.3 2.7h0m-10.5-13.2h0m9.4 5.2h0m-41.7 1.8h0m-.3 1h0m16.2 .8h0m3.5-2.2h0m27.8 4.4h0m1.5 2.3h0m-11-4.1h0m11.2-11h0m-9.4 15h0m11.3-.1h0m-4.5-4.2h0m4.2-7h0m-3.8-.1h0m1.5 6.2h0m-31.8 1.4h0m-17.6 2.6h0m46.7 .6h0m-9.3-8.4h0m-43.3 4.4h0m13.1-1.6h0m34.4-8.1h0m-3.6 6.8h0m18 1.6h0m-38.2 .6h0m32.5-10.7h0m-69.8 15.3h0m37.4 .5h0m1-.4h0m-3.2-2.9h0m30.4 3.7h0m-63.7-2.2h0m69.3-8.6h0m-28.1 7.9h0m28.8 1.1h0m1-10.8h0m-7.3-4.4h0m-21.2 6.9h0m-29.9 7h0m14.5 3h0m35.8-16.1h0m-26.7 12.1h0m12.7-5.6h0m-5.5 1.9h0m29.8-9.6h0m-9 2.9h0m-20.4 12.8h0m-20.1-6.3h0m44.7-6.7h0m-5.7 10h0m1.7-5.8h0m-19.2 9.8h0m15.2-2h0m-19.7-4.6h0m10.5-2.7h0m-3.3 1.7h0m-26.5 3.9h0m27.1-4.9h0m-6.6-3.8h0m-30.8 12.2h0m52.7-.1h0m-46.2-.2h0m60.4-3.9h0m-80.6 4.6h0m1.8-.1h0m64.5-.4h0m-59.4 .7h0m20-2.3h0m26.4-.6h0m-16.3 2.6h0m36.9-1.7h0m-70.4 1.8h0m44.2-3h0m21 1.7h0m-52.7 .2h0m60.1-.6h0m-8-.6h0m-19.1-.2h0m-4.9 .8h0m-18.1 .6h0m-10.1 1.1h0m-15-2.1h0m49.5 .2h0m21.9-.3h0m0-.5h0m5.8 .3h0m-23.2 .1h0m-23.2-.3h0m-21.5 1.3h0m39.4-.3h0m27.4-.7h0m-5.9 .6h0m1.7-1.1h0m-13.3 1.1h0m3.7-1.2h0m-13.4 1.2h0m-21.4 .5h0m15 1h0m-6.8-1.3h0m-15.5 .4h0m51.5 .1h0m-36.3 .8h0m-25.1-1.9h0m-12 1.6h0m21.2-.8h0m-20.7 .8h0m13.4-1h0m-11.8 .5h0m-.7-.1h0m3.1 .5h0m15.7-2.4h0m-12.7 2.1h0m47.2-.7h0m-9.2 0h0m28.4 .5h0m-41.4 .5h0m-29.4-1h0m7.1-1.7h0m28.1 1.2h0m.2 1.1h0m-9.1-1.6h0m13.9 1.1h0m36.1-1.3h0m-29.7 .3h0m-13.9-1.3h0m34.4 2.9h0m-48.7-.6h0m-22 .2h0m65-1.9h0m-56.2 1.7h0m31.3-.9h0m-9.3 1.3h0m12.1 .6h0m1.1-.2h0m-18.9-1.1h0m1.1 .6h0m-21.7 0h0m48.5-.2h0m2.4 .1h0m19.1 .4h0m-77.2-1.4h0m23.5 .7h0m46.9 0h0m-20.1 .4h0m34.9-2.1h0m-84.1 2.8h0m32.6-.3h0m21.1-1.1h0m-41.3-1.1h0m25.2 .6h0m-15.9 .7h0m-8 1h0m20.9-1.3h0m-2.2 1.1h0m15.5-.2h0m-12.8 .8h0m29-1.7h0m-16.7 0h0m29.1-1.6h0m-29.8 2.1h0m35.8-1.5h0m-16.9 1h0m-43.6 .7h0m2.6-.6h0m51.8-1h0m-48 3h0m-14.5-2.2h0m58.5-.9h0m-52.6 2.5h0m4.8-2.4h0m50.8 .9h0m-64.3 1.1h0m67.5-2.4h0m-74.4 1.6h0m70.7 .1h0m-3.3 1h0m-25.8-.3h0m-21.2-.4h0m2.4-.4h0m-17.1 0h0m35.9-.4h0m-31.8 1.7h0m57.9-2.6h0m-21.9 .7h0m-48.4 1.8h0m52.1-1.9h0m-5.2 1.7h0m-24.8 .9h0m40.2-2.6h0m-44.5 2.3h0m49.5-3.3h0m-22.8 2.9h0m-23.3 .1h0m29-1.9h0m-3.3 2.6h0m8.6-.7h0m-48.5-1.3h0m68.8-.8h0m-72.2 2.4h0m42.9-.7h0m-45.4-1.4h0m78 .4h0m-41.4 1.1h0m-3.8-.4h0m42.4-3.2h0m-56.2 4.6h0m55.5-3.4h0m-62.3 2.1h0m32.9-.2h0m-32.6 .2h0m-5.3 .1h0m29.2-.3h0m-9.6 .1h0m-.8-.3h0m-26 .3h0m-3-.3h0m22.8-.2h0m-25.5 1.5h0m79.4-2.5h0m-74.8 1.8h0m54.2-.4h0m-13.7-.7h0m-25.8 .5h0m24.6 .1h0m-41.6-1h0m49.5-.4h0m-37.9 2.6h0m47.4-1.2h0m-46-.4h0m49.1 .2h0m16.8 .1h0m-66.9 .1h0m63.9-.5h0m-4.4-1.1h0m-36.6 .3h0m5.4 2.2h0m24.8 .8h0m-36-.1h0m7.9-1.2h0m19.5-.5h0m10.6-1.3h0m15.2 1.4h0m-66.8-.4h0m3.1-.5h0m11.7 .8h0m51.4-2h0m-35.3 .4h0m19.2 1.1h0m-13.2-.7h0m-24.5 1.2h0m-21.3 0h0m19.2 .7h0m27.6-2.4h0m-29.1 1.8h0m-23.9 1.3h0m80.2-2.4h0m.3 .8h0m-52.7 .2h0m-11.4 .2h0m60.7-40.3h0m-16.2 19.4h0m13.5-17.9h0m2.8-4.9h0m-22 27.4h0m3.1-4.5h0m17.6-19.3h0m-15 18.2h0m9.5-13h0m-3.6 6.7h0m-11.4 12.3h0m25.4-30.4h0m-8.9 12.5h0m-9.6 10.1h0m6.2-7.2h0m.8-2.1h0m-5.4 6.4h0m6.3-7.7h0m-11 15.2h0m20.4-26.5h0m-18 22.3h0m18.7-21.6h0m-26.2 32.2h0m1.5-3.3h0m21.1-24.1h0m-15.2 17.9h0m0 .1h0m-6.9 7.4h0m6.9-7.7h0m-3.5 4.7h0m11.5-14.3h0m-10.7 13.7h0m6.3-9.2h0m-10.4 12.5h0m10.5-12.8h0m5.6-5.4h0m-3.1 4.2h0m-10.1 13.4h0m22.1-28.2h0m-17.7 20.2h0m17.3-8.6h0m-11.8 11.8h0m10.6-11.9h0m-8.1 9.4h0m1 .2h0m1.4-4.1h0m-11.3 14.3h0m8.5-7.5h0m.8-4.5h0m8.3-10.6h0m-2.3 3.2h0m-9.7 11.9h0m.1 1.5h0m2.5-4h0m-9 12.7h0m9-12.4h0m12-16.4h0m-10.2 15.7h0m-4.8 6.3h0m-6.9 6.9h0m12.9-15.6h0m-6.3 6.6h0m.7 1.2h0m14.9-19.2h0m-20.6 24.7h0m18.8-23.7h0m2.8-4.8h0m-9.6 11.2h0m-2.2 7.6h0m-5.7 5.9h0m5-6.7h0m2.3-2.4h0m-10.2 12.3h0m-.9-.4h0m13.3-15.3h0m-13.8 16.2h0m9.6-10.9h0m7.7-10.6h0m-8.1 8.9h0m-11.2 16.1h0m25-18.7h0m-3.1 2.5h0m4.8-6h0m-.2-1.1h0m-18.8 26.6h0m-.8-1h0m2.6-4h0m17.7-19.7h0m-16.7 17.6h0m12.3-12.4h0m-6.9 6.1h0m9.6-11.3h0m-16.4 18.9h0m14.7-15.4h0m3.7-4.6h0m-10.5 12.5h0m9.4-11.8h0m-14.8 18.9h0m14.3-17.7h0m-14.4 16.9h0m12.2-17.5h0m-14.7 20.1h0m19.8-22.2h0m-16.2 17.2h0m12.5-16.3h0m-9.7 13.2h0m-7.1 8.6h0m3.1-4.2h0m-1.3 1.7h0m13.9-16.5h0m-8.2 11.6h0m3-.6h0m-5.6 1.2h0m9.1-11.6h0m-8.9 2.9h0m-3.1 .5h0m-1.1 1.9h0m-18.4 14.3h0m.9 .6h0m16-12.8h0m1.5-.4h0m-15.5 10.8h0m19-14.4h0m-17.1 12.8h0m13.2-9.7h0m-8.6 6.2h0m12.6-9.1h0m-17.5 14.1h0m1.5-.4h0m3.3-4.3h0m-.1 .2h0m-8.3 5.9h0m17.9-13.2h0m-14.6 11.8h0m3.3-4h0m8.6-7h0m-.2 .3h0m-8.6 7.7h0m19.7-29h0m-3.2 5.9h0m4.6-8.8h0m-2.1 6.4h0m-.1-.4h0m-8 14.6h0m6.6-14.5h0m.9-.8h0m2.7-4.1h0m.7-.7h0m-6.5 13.1h0m6.9-11.9h0m-5.4 11.8h0m-4.2 3.3h0m-1.8 4.5h0m4.9-10.2h0m2.8 27.3h0m-1.8 3.2h0m6.8 .4h0m-10.2-2.8h0m7.2-10.1h0m-21.5 5.4h0m20.1 6.7h0m-10.6-1.2h0m10.6-10.8h0m-12.4 6.9h0m-9.3 .9h0m2.7 2.1h0m-3 3.5h0m13.6-8.8h0m1-.8h0m6.3 2.9h0m-12.4 7.6h0m-3.6 .7h0m7.6-6h0m-5.6-.1h0m-7.4-5h0m23 5.3h0m-2.3-7.4h0m-3.9 10.1h0m-10.9 1h0m12 2.4h0m2.6-.2h0m-6.8-10h0m-7.1 2.8h0m-1.9 2.1h0m2.8-4.1h0m-1.2 1.5h0m8.7 4.4h0m-3.3-1.4h0m12.1-4.4h0m2.8 2.6h0m-2.3-6.8h0m1.2 11.2h0m-21-7.9h0m7.4 8.5h0m11.7 1.2h0m-8.7-6h0m7.2-7.2h0m-9.5 8.3h0m11.4 3.8h0m-19.1-7.9h0m16.7-5.5h0m-1.7 1h0m-8.5 6.1h0m7.6 6.8h0m-17.5-1.1h0m10.5-3h0m10.4-3.5h0m-15.2-2.5h0m-.3 7.3h0m3.5-4.2h0m13.7 3.4h0m-7.2-8.7h0m2.8 2.4h0m-.3-1.5h0m4.7 3.2h0m-4.3 5.8h0m-8.5-9.4h0m-5.4 8.5h0m-.5-1.4h0m12-6.2h0m2.2 5.4h0m6.7-3.6h0m-5.1-3.5h0m-12.9 11.6h0m-1.4-5h0m10.8 3.1h0m-15.7 .7h0m12.6 .1h0m-8.5-6.5h0m19.8 4.3h0m-.7-8.4h0m-1.3 14.3h0m-12.1-8.4h0m-3.2-3.3h0m11.2 1.8h0m-14 7.8h0m19.7-2.2h0m-10.8-6.8h0m-12.7-.9h0m15.2 .5h0m2 10.6h0m4.5-9.3h0m-23.5 8.8h0m9.1-5.2h0m1.8 3.6h0m-9.8 .7h0m24.3-8.8h0m1 6.1h0m-6.2-6.4h0m0 3.1h0m-17.7-1.8h0m20.1-5.5h0m-9.6 3.7h0m-7.8 8.5h0m15.3-5.1h0m5.3-3.5h0m-1.4 3h0m-10.2 8.6h0m7.4-10.7h0m-2.9 3.2h0m-2.6 4.1h0m-6.5-4.3h0m6.8 2.6h0m-3.8-.5h0m-12.8 1.8h0m8.2-.8h0m-6-5.1h0m22.8-5h0m.5 4h0m-2.5 3h0m-17.3-3.3h0m-1.1 6.9h0m15.1 .1h0m-10.8-6.3h0m15.4 9.7h0m-3.1-13.4h0m-2.4 4.7h0m-14.9-2.1h0m16.3 4.1h0m-4-1h0m-5.9-4.5h0m-10.3 12.1h0m14.1-5.7h0m5.2-2.6h0m-13.8-1.7h0m-2 6.3h0m6.5-.6h0m-7.1-5.3h0m.7-1.5h0m13.8-2.4h0m-15.7 5.8h0m17.8-3.7h0m5.1 5.9h0m-5.8 4.4h0m-12.4-7.9h0m18.7-1.5h0m-23.2 10.5h0m16.9-7.6h0m-.5 6.5h0m-16.1-3.4h0m17.2-6.2h0m-2.7 2.6h0m-.8 3.4h0m6.3-7.2h0m3.8 3h0m.4 9.5h0m-7.7-4.2h0m-10.6-3.3h0m13.4-6.1h0m-6.5 4.3h0m7.1-4.5h0m-17.7 10.2h0m14.1 2.2h0m-14.6-9.8h0m9.3 8.2h0m4.3-7.1h0m.1-3.3h0m-4 .5h0m-12 1.3h0m18 1.1h0m-18.4-.1h0m7.3-1.8h0m16.3-1.5h0m-22.2 8.3h0m-.1 6.1h0m-.5-1.8h0m2.6-10.8h0m-2.5 4.3h0m6.5 6.1h0m32.9-30.6h0m-8.6-3.1h0m33.5 10.9h0m-36.4-9.7h0m41.5 14.3h0m-14.3-3.8h0m13.4 3.1h0m-38.9-7.6h0m35.3 .2h0m-6.3-1.9h0m.4-10.5h0m-5.5-3h0m-2.7 13.7h0m6.5-5.4h0m-8.8-7.9h0m-19.9 15.3h0m.2 5.4h0m35.6 1.5h0m5.2-4.7h0m-19-29.5h0m-1.9 31.7h0m2.6-21.3h0m.7 22.4h0m6.1 .2h0m-8.7-22.7h0m-20.2 9.4h0m9.9 10.6h0m18.3-19h0m-.5 15.7h0m5.7-5.6h0m-34.4 1.6h0m29 7.6h0m-1.8-23.1h0m12.7 26.8h0m-3.8-3.8h0m8.1 4.1h0m-14.2-11.7h0m-5-20.9h0m17.4 36.5h0m-18.7-5.4h0m9.5-12.3h0m7.3 6.3h0m3.9 10.2h0m-32.8-21.2h0m8.2 2.1h0m-11 1.4h0m19.4-13.5h0m-4 20.1h0m-18.6-2.8h0m18.1-2.3h0m13 12.9h0m-15.7-14.2h0m-1.9-2.8h0m21.5 17.5h0m-40-3.7h0m17.6 .3h0m20.6-4h0m-7-1.6h0m-13.8 5.7h0m24.6 8.7h0m-14.8-14.1h0m-16.4 5.4h0m23.4-11.7h0m-.1-.3h0m-17.2 10.5h0m-15.1-.1h0m22.9 2.4h0m11.9-2.2h0m-29.6-5h0m-5.6-4.9h0m12.9 6.6h0m-9.5-6.5h0m7.9 7.6h0m30.4 11.4h0m-28.9-11.3h0m27.7 8.9h0m-36.5-17h0m21.3-5.8h0m1.2 18.9h0m-22.7-14.6h0m24.9 2h0m-8.5-16.8h0m13.5 21.3h0m-19.8 1.5h0m23.4 5.1h0m-15.6-33.4h0m-20.4 27.9h0m8.4 2.5h0m33.6 9.3h0m-45.7-11h0m15.3 2.5h0m13.2-27.7h0m.5 29.6h0m-10.9-2.2h0m1.9-.9h0m-21.8 1.6h0m11.3 .1h0m-8.6-6.7h0m27.8-13.4h0m10.9 26.4h0m-14.7-23.9h0m3.3 16.8h0m-10.4-11.6h0m2-4.3h0m15 15.9h0m-5.1-27.9h0m-16.1 27.6h0m-17.6-8.4h0m8.2 10.9h0m32.1 2.9h0m-32.1-8.4h0m23.3 1.4h0m18.9 13.9h0m-40.7-12h0m-1.7-2.5h0m9.1 2.8h0m-8.3 1.5h0m2.7-3.5h0m28.6 9h0m-6.7-14.4h0m-26.1 1.1h0m21.6-23h0m-4.9 27.7h0m10.1-26.9h0m-25.2 30.7h0m23.8-25.7h0m-6.4 13.9h0m10 8.7h0m-7.1-9.5h0m-10.4 6h0m-2.3-5h0m32.6 18.2h0m-46.5-3.6h0m18.8-10.8h0m4.1-11.5h0m-17.4 9.9h0m4.9 6.6h0m22.4-14.4h0m-21.5 8.3h0m29.9 14.8h0m.3-8.1h0m-38.6-11.9h0m21.1-16.3h0m-5.8 15.9h0m8.9 14.4h0m17.3 5.7h0m-26.2-11h0m27.9 11.3h0m-45-18.4h0m-3.3 7.7h0m26.4-24.8h0m9.3 21.7h0m4.9 1.3h0m-23.1-8.5h0m15.9 8.7h0m1.7-12.2h0m-3.6-10.9h0m19.7 35.5h0m-48.6-17.4h0m4.2 12.4h0m17.7-14.7h0m-9.7 7.1h0m20.5-4.5h0m-.3-.3h0m-1.1-18.6h0m-2.4 4.5h0m1.7 3.7h0m-10.3 6.8h0m11-3.5h0m-5.9-10.9h0m5.5 22.1h0m-22.9 7.1h0m-.1-13.3h0m11.9 6.7h0m13.4 8h0m-14.7-8.2h0m10 8h0m-7.2-7.5h0m-9.9-3.5h0m16.7-16.3h0m-12.8 13.1h0m-.8 7.9h0m18.9-8.4h0m-8.2 8.3h0m-26.8-4.7h0m3.7-1.1h0m41.3 12.9h0m-38.1-1.5h0m6.4-3.9h0m-4.9-7.4h0m23.1-13.1h0m.8 20.9h0m3.7 1.5h0m1.4-11.8h0m-14.5-7.5h0m6.8 13.5h0m-26.5-5.5h0m36.3 3.2h0m-17.2-3h0m1.5-12.6h0m5.8-1.2h0m-12.9 15.5h0m-12.5 .4h0m25.3 9.9h0m-24.5-3.5h0m19.6-4.7h0m-21.6 1.9h0m24.3-3h0m-22.5 1.1h0m29.3-3.3h0m-1.2-8.9h0m6.5 11.7h0m-35.5 11.1h0m26.4-21.9h0m5.2 4.4h0m8.4 20.5h0m-6.2-8.5h0m-25.4-3.7h0m21.1 .1h0m-26.8 4.7h0m-1.9 1.9h0m11.2-5h0m2.8 3.7h0m-3.5-12.5h0m5.9 10h0m-13.2-7h0m24.9-7.2h0m-34.3 6.6h0m13.7 8h0m4.2-5.4h0m10.3 6.9h0m-17.7-2.9h0m21.4-21.4h0m-.4 5.1h0m-12.3 10.5h0m6.3 1h0m2.9 8.3h0m-11.6-4.4h0m16.8-7.1h0m-4.7-.6h0m7.7 4.6h0m-9-14.5h0m16.6 26.1h0m-35.2-12.2h0m11.6 .9h0m-6.8 3.9h0m18.6-16.7h0m-29.4 7h0m27.6-3.7h0m-5.4-.6h0m-12.8 5.8h0m15-15.4h0m4.8 7.2h0m16.7 25.6h0m-24.1-20.2h0m12.1 2.2h0m-35-.9h0m21.6 13h0m17.7 3.4h0m-27.4-11h0m28.9 4.7h0m4.4 8h0m-1.7-5.8h0m-15-8.6h0m9.9 8h0m-36.4-1.4h0m1.4-3.6h0m.9 6.4h0m38.1-4h0m-10.5-7.8h0m-7 3.7h0m4.3-11.1h0m-12.7 16.5h0m-6.3 2.1h0m1.8-3.3h0m23.1-12.1h0m-14.3 19h0m7.8-3.6h0m-21.5-1.8h0m18.9-26h0m6.3 4.9h0m-3 8.6h0m-21 11.6h0m7.6-1.9h0m-3.9 6.5h0m20.2-9.1h0m-2.2-4.5h0m-30.5 5.8h0m39.6 11.4h0m-2.4-3.2h0m-11-4.9h0m-1.6-11h0m-17.5 4.6h0m.5 11.7h0m19.9-13.6h0m-.6-19.6h0m-23.1 27.4h0m10.4 1.4h0m11-20.5h0m3.3 7.2h0m-18 6.6h0m13.6-7.8h0m10 4.8h0m-1 9h0m15.6 12.5h0m-49.8-19.9h0m37.3 16.2h0m-13.6-10.7h0m9.8 5h0m-23.8-1.5h0m20.8-7.2h0m3.6 11.5h0m-33.6-8.7h0m21.8-11.1h0m5.7 17h0m13.1-6.2h0m-14.6 5.9h0m-5.8-15.5h0m14.4 19.8h0m-6.8-22.9h0m-15.1 15.5h0m16.2 .9h0m-25.9-2.1h0m41.8 5h0m.5-.7h0m2.5 4.2h0m0 4.8h0m-34.8-8.4h0m-.7-3.5h0m-5.6 4.3h0m13.9-14h0m-6.4 10h0m32.8 9.3h0m-31.4-10h0m14-21.6h0m-4 13.1h0m9.3-4.8h0m-21.3 4.4h0m13.2-1.4h0m6.3 5.3h0m-.2-.7h0m-9.4-11.4h0m10.7 19.4h0m-8.3-24.4h0m1.8 10h0m2-3.7h0m-3.4-2.3h0m-.1 7.1h0m8.3 11.3h0m-6.6-9.2h0m3.7 8.8h0m-2.6-24.8h0m-2.1 24.6h0m2.2-5.8h0m3.7 7.5h0m-8.8 .3h0m5-28.5h0m-1.5 3.7h0m-3.7 20.2h0m.3-5.5h0m9.3-9.2h0m-9 22.4h0m.3-24.2h0m4 9h0m2.4 4.8h0m-1.4-19.4h0m-3.2 1.5h0m7.6 9.2h0m-8.1 14.6h0m.3-26.1h0m2.7 12.6h0m3-11.8h0m-6.7 4.9h0m4.8 7.2h0m1.5 1.6h0m.6-13h0m-1.4 10.8h0m-.3 .9h0m-4.7-11.5h0m-.6 11.1h0m.7 10.1h0m3.5 3.9h0m-3.3-.6h0m4-23h0m2.8 5.1h0m-3 2.3h0m1.5 .9h0m-5.2 1.9h0m-2.7 1.7h0m4 4.1h0m.5 5.9h0m-1.6-6.7h0m-1.4 11.2h0m1.8-8.5h0m2.9 6.1h0m.6-13.8h0m-4.1-10.1h0m.7 23.6h0m3.4-7.9h0m4.2 4.9h0m-3.1-5.1h0m-6.8 4.7h0m2.2-12h0m4.6 13.6h0m-2.4-11h0m-1.3-15.1h0m-.7 18.7h0m2.3-1.1h0m-1.9-3.5h0m6.8 9h0m-9.8-11.6h0m-1.1 4.7h0m10.9-2.9h0m-9.9-6.5h0m.8 12.3h0m5.2-16.2h0m1.2-1.8h0m-5.4 1.7h0m8.1 18.5h0m-8.8-13.3h0m6.2 19.7h0m2-4.7h0m-3.4 5.3h0m-3.9-16.6h0m6-8.1h0m-.1 13.2h0m.3 10.8h0m-3.3-24.1h0m-4.2 13.2h0m.8-11.9h0m.5-4.8h0m3.5 13.9h0m2.3 6.1h0m-8.2-9.9h0m6.1-2.9h0m-4 7.7h0m.8 7.3h0m-.3 4.7h0m-2.5-12.2h0m-6.8 11.3h0m-10.7 3h0m2.2-4.2h0m9.7-4.2h0m1 2.8h0m-1.1 2.9h0m-7.4-5.8h0m-3.9 7.2h0m-2.2-6.3h0m13.4 4.6h0m-.5 3.6h0m-3.6-11.6h0m8.2 11.8h0m-6.8 .1h0m2.2-12.2h0m-8.5 1.7h0m13.3 11.2h0m.3-9h0m-17.9 1.1h0m13.2-2.8h0m-3.6 9.8h0m.3-4.6h0m-5.3-7h0m6.5 .2h0m-7.6 1.7h0m4.3 6.1h0m-.8 3.2h0m2.5-11.6h0m-3.5 11.6h0m-4.2 1.1h0m13.8-.4h0m.1-3.9h0m-4.1 4h0m3-.6h0m-.8-1.6h0m-13.9-3.1h0m3.4-1.8h0m11.4-4.8h0m-4.1-1.3h0m5.8 .4h0m-2.5 7.1h0m2 .7h0m-.7 1.9h0m-4.7-3.6h0m4.7 5.3h0m-6.1-8.6h0m-3.4 .7h0m6.7 4.2h0m-12.3 6.4h0m17.5-7.6h0m-9.6 4.5h0m.8-11.1h0m-.2 13.8h0m7.1-2.5h0m-7.7-10.5h0m-8.4 31.3h0m-1.9-8.8h0m-2.4-4.2h0m4.2 17.5h0m-3.5-10h0m.7-2.9h0m-1.6-3.3h0m1.2 4.1h0m1.3 1.9h0m-3.6-13.2h0m2.6 11h0m-1-2.9h0m.3 2.5h0m1.5 7.3h0m45.1-11.6h0m-9.1-12.6h0m-7.6-16.4h0m17.9 29.5h0m-5.3-6.6h0m-3.5-8.4h0m5.4 11.5h0m-9.2-17.6h0m7.3 13.5h0m-6.9-12.6h0m-.4-2.2h0m9.9 17.3h0m4.9 7.5h0m-3.7-2.9h0m2.5 4.1h0m-4.7-6.9h0m3.7 3.9h0m3.3 6.1h0m-6.9-11.5h0m-9.6-15h0m-4.8-9.2h0m-.7-2.5h0m4.4 11.5h0m4.6 4.5h0m13.4 22.3h0m-7.7-13.1h0m14.6 16.7h0m-1.7 8.1h0m6-.1h0m-14.7-10.6h0m6.4-1.6h0m-1.3 2.8h0m-3.5 2.1h0m-2.5 5h0m14.6-4.8h0m5.2-2h0m-29.1 10.7h0m28.7-6.4h0m-23.6 2.6h0m11.3-5.1h0m-2-2.4h0m-3.2 9.4h0m-1.2 1.9h0m10.8-1.8h0m5.2-3.8h0m-20.3-1.4h0m-4.6 2.5h0m9.4 2.2h0m12.1-2.6h0m-17.7 4.8h0m.4-5.4h0m-4.6-8.1h0m29 12.6h0m-16.9-.6h0m-6-3.7h0m23.8 4.9h0m-4.9-3h0m-12.3-.6h0m15.2-4.8h0m-5.8-1.3h0m-16 4.1h0m4.5-.7h0m-1.2 6.6h0m-9-4.4h0m.9 .9h0m-1.6-4.1h0m10.3 5.2h0m15.1 2.4h0m-23.3-5h0m15.7-2.3h0m8.6-.8h0m-3.1 6.5h0m-23.4-4.5h0m24.8 3.6h0m-8.4-4.6h0m-2 .6h0m-.5 5h0m-.6-8.7h0m-6.8 7.2h0m24.5 2.2h0m-5.7-.5h0m-9.4 .3h0m1.7-12h0m11.4 11.8h0m-26.8-1.5h0m-2.1-7.9h0m25 10.4h0m-23.1-13.5h0m27 12.9h0m-16.7-10.8h0m16.3 1.1h0m-5.5 2.4h0m-21-7.3h0m19.7 9.2h0m-18.3-7.8h0m13.5 1.4h0m-6.3 8.6h0m-1.2-8.3h0m1.1 2.1h0m-1.5-4.5h0m2.7 6h0m-10 7h0m23.8-4.5h0m-19.6 4.3h0m11.1-9.7h0m-9.5 6.7h0m-7.2-.6h0m6.9-7.3h0m8.6 6h0m-9.2-7.7h0m-1 1.3h0m14.7 12.5h0m7.5-3.5h0m2.9 .7h0m-25.8-7.4h0m-5 2.1h0m13.2-4.1h0m-8.6-1.7h0m16.5 7.4h0m-8.4-2.4h0m-5.2-1.5h0m-3.2 7.1h0m-5 3h0m19.4-2.7h0m-18.6 2.3h0m7.1-2h0m3.7-.1h0m-11.1-8.3h0m28 5.7h0m1 5.9h0m1.8-6.5h0m-8.2 3.1h0m-20.3-10.7h0m4.2-.2h0m6.4 11.9h0m13.4-6.8h0m-12.8 1.2h0m12.8 6.2h0m-19.6-9.8h0m-4.1-2.9h0m22.6 13.8h0m-10.2-3.7h0m-8.6-3.7h0m12.3-1.3h0m6.2 8.1h0m-11.1-12.5h0m-.1 1h0m3 9.9h0m4.1-1.4h0m-2.1 0h0m7.3-.8h0m-24.8 5.1h0m4.9-12.8h0m.2 8.3h0m9.2-4h0m11.7 3h0m3-3.1h0m-16.7 7.7h0m6.4 1.2h0m-18.2-1h0m27.3-1.6h0m-26.7-9.7h0m18.7 1.1h0m6 2.4h0m-1.3-2h0m-9.4 10h0m1.5-2.4h0m8.2-.3h0m-22.1-11.7h0m-3.4 6.7h0m14.2-2.7h0m-7.1 10.6h0m21.7-6.6h0m-1 2h0m-18.2-1.3h0m-9.1 5.5h0m25.1-5.7h0m-13.6-2.6h0m14.4-2.4h0m2.8 10.3h0m-30.2-.6h0m8.2-5h0m-4-8.1h0m8.7 5h0m4.9 2h0m-12.5-1.9h0m6.2-1h0m18-.6h0m-6.9 5h0m6 4.8h0m-14.8-12.4h0m9.8 4.3h0m-9 8.8h0m-.2-9.8h0m5.5-2.1h0m-9.2 3.3h0m-3.8 2.7h0m-1.5-1.6h0m1.7 4.3h0m1.9-10.1h0m1.4 .2h0m2 6.4h0m4.7 .8h0m4.7 4.7h0m3.3-9.3h0m-15.7-.5h0m-9.5-2.6h0m12.7 8.1h0m-6.8-.4h0m15-3.1h0m.8 5.3h0m8.2-2.5h0m-6.4-2.4h0m-11.1-1.3h0m1.8-3.1h0m15 2.5h0m-12.4 3.4h0m-4.3-.1h0m10 1.2h0m-8.9-4.6h0m-4.7 8.6h0m17.5-3.2h0m.7-5.8h0m-18.7 6.2h0m5.4-1.2h0m6.2 .2h0m10.7 4.1h0m-28.9-2.2h0m13.3 4.1h0m-.8-7.6h0m2-4.1h0m-11.1 4.2h0m7 4h0m2.6-5.3h0m-13.8 2.1h0m24.3 1.9h0m-21.5-5.9h0m5.7 .7h0m2.2 8h0m9.8 2.2h0m-3.8-6.9h0m11.8-3.1h0m-22.8 3.5h0m14.4 6.2h0m3.6-3.4h0m6.3-.1h0m-18.2-9.9h0m-8.3 3h0m12.1 4.1h0m9.3 7h0m-10-1.9h0m-12.2-3.9h0m23.3 3.1h0m14.3-23.9h0m1.8 13.4h0m-1.6-13.9h0m1.5 6.7h0m3.9 6.6h0m-1.7-6.8h0m-2.3-12.1h0m1.1 2.1h0m-1.8 17.5h0m-.6-9.9h0m2-16.8h0m2.6 14.6h0m-.9 9.6h0m-.7-23.8h0m2.3 20.1h0m-.2 7.3h0m-4.3-15.1h0m5.4 13.5h0m-.9-25.2h0m.3 17h0m-2.3 5.2h0m2.8-15.5h0m-3.1-6.3h0m2.8 16.3h0m-2.9 7.4h0m-.5-20.7h0m-1 4h0m4.3 6.1h0m-.6 8.4h0m-4.1-20.8h0m5 9.2h0m-2.2 3.2h0m-2.5 15.8h0m0 1h0m2.6-30.3h0m-.9 13.1h0m-2.2 8.6h0m5.4-4h0m-5.6-2.9h0m5-8.6h0m-.2 5.7h0m-4.5 2.9h0m-1.1 4.6h0m-.3 1.2h0m.5-13.8h0m-.5 21.4h0m4.2-24.5h0m-.7-5.1h0m-2.2 16.5h0m3.1-5.7h0m-1 1.3h0m-1.9 14.8h0m1.2-6.1h0m3.2-12h0m-6 21.2h0m.6-28.2h0m5.4 13.1h0m.5-5.9h0m-3.2 18.5h0m1.4-15.1h0m1 10.5h0m-2.7-13.1h0m-1.4-2.8h0m.2 12.1h0m1.3 8.2h0m-2.4-18.8h0m4.7 10.7h0m-5.2 2.4h0m.3-19.2h0m3.6 22.3h0m-.5 .8h0m2-21h0m-.9 3.7h0m-.9-5.9h0m-2.9 22.6h0m1-1.1h0m4.3 5.8h0m-3.3-24.3h0m1.1 19.9h0m-2.2 1h0m.3-15.4h0m-1.6 17.2h0m6.2-12.1h0m-2.3 14.8h0m-.2-7.3h0m-2.3-11.9h0m-1.3-7.8h0m1.3 19.3h0m2.7-22.9h0m-2.6 12.4h0m2.3 17.7h0m-1-24h0m-1.4 22.4h0m2.5-23.7h0m1-.2h0m-5 5.7h0m2 21.1h0m-2-11.3h0m6.1-6.7h0m-3.3 1.4h0m3.9-2.7h0m-5 14.9h0m3-13.2h0m1.1 7.6h0m-3.6-18.6h0m1.6 26.8h0m-2.6-10.2h0m3.2-18.9h0m1 .7h0m-5 26.4h0m.5-5.4h0m4.6-9.1h0m-2.1 13h0m.1-5.2h0m-2.4-5.2h0m4.1-13.4h0m-.7 3.3h0m1 7h0m-4.2 5.1h0m-1.4-7.7h0m5 3.7h0m9.5 15.2h0m-1.6-2.2h0m6.5-5.8h0m-6.5 8.9h0m3.1-14.1h0m-1.4 13.1h0m0-6.5h0m.2-3.2h0m-.2 4.6h0m-1.1 1.7h0m-.4-3.2h0m-.8 6.5h0m4-1.6h0m-3.5-11.3h0m-1.7 .2h0m2.9 1.2h0m1.5 3.8h0m-3.3 5.6h0m-.7-3.9h0m3.2-1.7h0m-1.6-2h0m.2 10.2h0m1.2-12.1h0m-.5-.1h0m1.6 4h0m-1.8-5.9h0m-.8 10h0m6 3.8h0m-6.5-1.8h0m2.8-5.4h0m-.5-.8h0m-.2 2.3h0m.2-8h0m2.4 11.4h0m-4.1-4.1h0m6.1 5.8h0m-6.1-.7h0m.3-.5h0m.9-6.8h0m1.2-2.3h0m1.2 10.1h0m-3.7-5.4h0m5.9 3.9h0m-2.4-7.2h0m-2.7 8.6h0m4.5-7.3h0m0 5.6h0m-2.4-2.3h0m-.8-2.9h0m-2.3-4.2h0m3 7.4h0m1-6.2h0m-3.9 6.1h0m5.8 6.3h0m-21-1h0m17.1-.4h0m-13.8 1.1h0m14.1 1.1h0m.2-.2h0m-4.2-1.4h0m8.7 2h0m-27.4-.1h0m13.2-.6h0m3.7-.6h0m-2.7-1.1h0m11.9 1h0m-6.9 0h0m-2.9 1.6h0m10.1 .6h0m-26.5 .2h0m11.8-1.1h0m-7.6-.1h0m15.3 1h0m-2.3-2h0m.2-1.9h0m-11.1 2.4h0m-2.1 1.5h0m17-2.8h0m-.4 .7h0m-17 2.4h0m13-.9h0m-14.2-.7h0m13.5-1.2h0m-5.4 2.1h0m-7.7-2.4h0m9.8 1.8h0m2.6 .8h0m-2.7-.1h0m-3.1-3.9h0m7.4 4.3h0m2.3-2.4h0m-5.6-1.6h0m7.9 2.8h0m-6.6-2.4h0m-13.4 2.8h0m24.5-1h0m-10.6 .8h0m-34.5-42.9h0m17.5 23.7h0m-1.8 5.3h0m5.3 3.5h0m-83.6-28.1h0m-.5 1.5h0m-.7 1.5h0m1.2-7.5h0" stroke="#fb80fb" stroke-width="2.1" stroke-linecap="round" fill="none"/>
<line x1="492.30" y1="273.90" x2="492.30" y2="419.50" stroke="#222" stroke-width="1.3" stroke-dasharray="4.5,3.2"/>
<path d="M486.10,426.40 L492.10,426.40 L489.10,420.70 Z" fill="#111"/>
<polyline points="404.50,414.00 425.30,411.50 429.60,408.20 433.70,411.50 436.60,412.30 443.90,407.20 450.50,411.50 453.40,409.20 455.20,407.70 473.90,407.70 489.40,395.50 497.30,395.50 504.10,401.30 514.30,410.10 516.90,404.70 524.80,408.70 529.70,407.80 534.10,409.00 549.00,406.00 557.60,406.50 565.60,410.10" fill="none" stroke="#ff0000" stroke-width="2.2" stroke-linejoin="round" stroke-linecap="round" />
<circle cx="404.50" cy="414.00" r="2.55" fill="#000"/>
<circle cx="425.30" cy="412.10" r="2.55" fill="#000"/>
<circle cx="429.60" cy="408.20" r="2.55" fill="#000"/>
<circle cx="431.80" cy="410.40" r="2.55" fill="#000"/>
<circle cx="433.70" cy="415.20" r="2.55" fill="#000"/>
<circle cx="436.60" cy="412.30" r="2.55" fill="#000"/>
<circle cx="443.90" cy="407.20" r="2.55" fill="#000"/>
<circle cx="450.50" cy="415.50" r="2.55" fill="#000"/>
<circle cx="453.40" cy="409.20" r="2.55" fill="#000"/>
<circle cx="455.20" cy="407.70" r="2.55" fill="#000"/>
<circle cx="473.70" cy="407.80" r="2.55" fill="#000"/>
<circle cx="489.40" cy="395.50" r="2.55" fill="#000"/>
<circle cx="497.30" cy="395.50" r="2.55" fill="#000"/>
<circle cx="504.10" cy="401.30" r="2.55" fill="#000"/>
<circle cx="514.30" cy="410.10" r="2.55" fill="#000"/>
<circle cx="516.90" cy="404.70" r="2.55" fill="#000"/>
<circle cx="524.80" cy="408.70" r="2.55" fill="#000"/>
<circle cx="529.70" cy="407.80" r="2.55" fill="#000"/>
<circle cx="534.10" cy="409.00" r="2.55" fill="#000"/>
<circle cx="549.00" cy="402.20" r="2.55" fill="#000"/>
<circle cx="550.20" cy="411.30" r="2.55" fill="#000"/>
<circle cx="552.30" cy="413.40" r="2.55" fill="#000"/>
<circle cx="557.60" cy="401.70" r="2.55" fill="#000"/>
<circle cx="559.00" cy="406.10" r="2.55" fill="#000"/>
<circle cx="565.60" cy="410.10" r="2.55" fill="#000"/>
<path d="M71.3 575.6h0m1.4-.3h0m1.3 .7h0m.8-.3h0m.5-1.4h0m0-1.4h0m.3-.4h0m10.6 2.2h0m-1.2-.1h0m-1.1 0h0m-.7 .6h0m.3 .6h0m-.3 .5h0m.6 .8h0m.5 1.1h0m.5 .6h0m-.2 1.3h0m-1.3 .8h0m-.6 .2h0m-.7-1.2h0m-.6-.3h0m-.4-.4h0m-1-.2h0m-1.1 .3h0m0 1.5h0m-.5 1.1h0m-.1 .5h0m-1.3 .5h0m-1-.2h0m-.6-.4h0m-.5-1.2h0m-.3-1h0m-.1-.5h0m-.6-.3h0m-.9 .9h0m-.9 .5h0m-.7 1.3h0m.3 .5h0m1.1 .7h0m1.1 .2h0m.4 .7h0m-.6 1h0m0 .5h0m0 .9h0m-.4 1.4h0m.6-1.2h0m.7-.8h0m1.1-.5h0m.6 .2h0m.9-.4h0m1.4 .1h0m.3 .5h0m0 .6h0m-.5 .8h0m-.2 .6h0m-1.2 .3h0m-1 1h0m1.1-.7h0m.7-.3h0m1.3 .3h0m-.4 .6h0m-.5 0h0m-.8-.6h0m-.4-.5h0m-.5-.5h0m-.9-.4h0m-.4-.9h0m-.1-.6h0m2.7-3.9h0m.6-.5h0m.6-.6h0m3.1-9.9h0m-1.2 .2h0m-1.4 .1h0m-.6-.3h0m0-.7h0m.4-.5h0m.5-.2h0m.6 .5h0m1 .1h0m.9 1h0m1.2 .3h0m.5-.4h0m0 .7h0m-.1 .6h0m0 .9h0m.6 .6h0m.6 .3h0m.8 0h0m.7-.2h0m.5-.3h0m1.2 .4h0m-1.2 .8h0m1.7 2.4h0m-.6-1.3h0m-.1-.7h0m.3-1h0m.2-.5h0m-.1-.8h0m-1.1-.5h0m-.4-.4h0m-1.1-.2h0m-.9 .4h0m-1.3 .1h0m-.6 .2h0m-.9-.4h0m-.4-.8h0m-.1-.7h0m.2-.7h0m.8-.6h0m-.3-1h0m-.9-.9h0m-.7-.8h0m-.8-.5h0m.4 .5h0m.2 1h0m.2 .6h0m-4.4 6.3h0m.6-.5h0m.5-.7h0m.1-.6h0m-.3-.9h0m-.3-1h0m-.5-1.4h0m-8.1 .5h0m1.3 .1h0m10.4 10h0m.7-1.2h0m.3-.9h0m.5-.4h0m-2.6-2.7h0m.1-.7h0m.6-1.2h0m1.3 0h0m.2-.7h0m-1.3-.1h0m-.6 .4h0m-.7 .2h0m-.2 .8h0m.8 .9h0m1.4-.1h0m1.2-.2h0m1.2 .3h0m1-.7h0m.6-1.2h0m-.3-.9h0m.5-.3h0m.9 .1h0m.5 .1h0m.7-.5h0m-.2-.6h0m-.1-.9h0m.7 1.2h0m.8 1.1h0m-1.1 .8h0m-.3 .9h0m-.6 1h0m.6 1.2h0m-.4 .8h0m-.4 .7h0m-1.1-.5h0m-.2-.5h0m-.2-.5h0m-.3-1.3h0m-.5-1.4h0m-1.1 0h0m-.7 .2h0m-.8 .7h0m-.8 .2h0m-1.3 .2h0m-.4 .6h0m-1.1 .1h0m-.1 .5h0m.3 .9h0m.8 .1h0m1.2 .3h0m.4 .6h0m.9 .4h0m.2 1.1h0m-.8 1h0m-1.2 .5h0m-1.1 0h0m-.1-1.2h0m.8-.7h0m1.2-.1h0m.7-.2h0m1.3-.6h0m.6-.7h0m.3-.6h0m.8-.9h0m.3-1.2h0m0-.7h0m.5-1h0m0-.5h0m-13.9 2.9h0m-1-.8h0m-.6 0h0m-1.4-.3h0m-.8-.1h0m-1.2 .5h0m-.8 .2h0m-.5 0h0m-.8-.3h0m-.3 .7h0m.9 .8h0m1.1 .4h0m1 .8h0m.5 1.2h0m2.9-7h0m-.8 .5h0m-.9 1.1h0m-1.1 1.1h0m.1 .5h0m.2 1.3h0m.2 1.1h0m-.3 .6h0m.1 1.2h0m1.1 .5h0m1.1 .9h0m.5 1.2h0m1.2 .6h0m.6-.1h0m.6 .3h0m.9 .2h0m.5 0h0m-.3-.7h0m.5-1.1h0m5.6-5.9h0m3.5-1.7h0m-1.2 .4h0m-1 .3h0m-.5-.6h0m-1 .9h0m-1 .9h0m-.6-.1h0m-.6 .1h0m-.5 .2h0m-.8 .1h0m-.6 .3h0m-1.3 .5h0m-.7 1.3h0m-.1 1h0m1.1 1h0m1 0h0m.9 .1h0m.5-.2h0m.9-.2h0m.5 .2h0m.6 0h0m.8 .1h0m.4 1.2h0m-.6-.4h0m-1-.9h0m-.6 0h0m-.7-.5h0m-10.3-2.3h0m1.2 .1h0m-.3-1.1h0m-.4-.5h0m-1-.2h0m-1-.3h0m-.9-.3h0m-.8-.3h0m.6 .5h0m.7-.3h0m1.2-.3h0m16.3 1.7h0m.1 1h0m.1 .6h0m.5 .2h0m.5 .9h0m.5 .3h0m.1 1.3h0m.6 0h0m-8.2 7.5h0m-1.2 0h0m-1.4 .3h0m-3.9 0h0m-.6 .9h0m.3-.9h0m.4-1h0m4.4-4.3h0m7.3-11.9h0m.7-.9h0m.4-.5h0m.8 .1h0m4.2 16.4h0m.2 .9h0m1.1 .7h0m.9 0h0m-.6-1.3h0m-.4-1.1h0m-.7-.9h0m-1.2-.8h0m1.1-.5h0m-.1-.7h0m.4-.7h0m1-.6h0m.9 1h0m-.3 1.1h0m-.1 1h0m.2 .7h0m.6-.1h0m-.3-.5h0m-.4-.2h0m-.5-.3h0m-.1-1h0m-.3-.7h0m-1.3-.4h0m-.8 .7h0m-.6-.1h0m-.6 .4h0m-1-.5h0m-.7 0h0m-1-.5h0m-.1-.6h0m.8-.8h0m-.2-.7h0m-1.3 .4h0m-.3 1h0m0 1.3h0m0 1h0m-.2 1.3h0m.1 1h0m-.6 .7h0m-1.1 .6h0m-.1 .6h0m-.7 1.3h0m-.4 1.2h0m.8-.5h0m.6 0h0m1.3 .5h0m1.3-13.6h0m7.9 10.9h0m-8.9-9.5h0m-1.1 0h0m-.4 1h0m-.8 1.1h0m.2 .8h0m.9 1h0m.3 1.1h0m.4 1h0m0 .6h0m4.2-.3h0m-.3 .6h0m-1.3 .6h0m-.2 .8h0m-.1 .9h0m.8 .5h0m.5-.8h0m1-.8h0m.6-.4h0m.4-.8h0m-.5-.7h0m-.1-1.4h0m.3-.8h0m.2-1h0m-.5-1.1h0m-.4-.3h0m-.3-1.4h0m.8-1h0m.9 0h0m.3-.4h0m-1.1-.8h0m-1-1h0m-.6-1.1h0m-.3-.6h0m-10.6 3.8h0m-.6 0h0m-1.2-.8h0m-.3-1.5h0m.4-.8h0m.1-.8h0m17.8 13.2h0m-1 .3h0m-.1-.8h0m.7-.4h0m1.2-.3h0m-.9-.3h0m-1.2 .8h0m-.8 .4h0m-.6 .5h0m-.5 1h0m-1 .1h0m-1 .4h0m-1.3-.3h0m-.6-.2h0m-.9-.6h0m-.6-.9h0m-.2-.7h0m-.4-.9h0m-1-.8h0m-.4-.3h0m-.6-.2h0m-.7-.7h0m-.9-.2h0m-.7-.4h0m-11.4-.4h0m-.5-.8h0m0-.9h0m-.5-.5h0m-1.5 .2h0m13.6-9.7h0m-.6-1h0m-.5-.9h0m.3-1.2h0m-.8-.6h0m.6 .1h0m-.1 .6h0m.2 1.4h0m-.5 1h0m-.5 1.2h0m0 1.2h0m1.1 .8h0m.6 .1h0m.5 .4h0m.7 .1h0m1.2 .1h0m.6 .6h0m3.8 12h0m1.3 .4h0m.5 .4h0m.6 1.4h0m.6 .6h0m1.1-.4h0m.9 .4h0m.6-.1h0m.5-.9h0m.4-1.1h0m.3-.5h0m.1-1.2h0m-18.4-1.7h0m-.8 0h0m-.8 0h0m-1 .1h0m-.8 .1h0m-.1 .6h0m.1 1.1h0m-.5 .8h0m-.6 .6h0m-.5 0h0m-1.1-.7h0m-.6 0h0m.6-1.2h0m.4-1.2h0m-.4-.6h0m-.5-1h0m5 6h0m-.3-.8h0m-.2-.5h0m-1-.6h0m-.5-.4h0m-.1-.9h0m.1-.5h0m.1-.6h0m.6-.9h0m1-3.7h0m-1 .1h0m.3-1h0m-.1-.9h0m-.4-1.2h0m-1.3-.6h0m-.6 .5h0m-1.1 .5h0m-1.4 .3h0m-.8-.5h0m.3 .6h0m.1 .6h0m11.6-3.2h0m-.6-.2h0m-.6 .2h0m-4.2 14.9h0m.3-.5h0m.2-.7h0m-.1-.5h0m.4-1h0m-.9-.9h0m-1-.4h0m-.2 .9h0m-.7 1.1h0m0 .5h0m.2 1.1h0m.3 1.4h0m12.2-21.6h0m1 .1h0m.8 .3h0m.9 .9h0m.3 .9h0m-.3 1.3h0m-.4 .6h0m.3 .8h0m-.1 .8h0m-.7 1.2h0m-9.5-3.2h0m.5-1.1h0m.5-.9h0m.9-1.2h0m.8-.5h0m-2.1 10h0m.7-.6h0m.2-.5h0m0-1.4h0m-.2-1.5h0m.2-1h0m.2-.8h0m.5-1.3h0m.6-.2h0m.6-.9h0m.6-.4h0m-.1 .9h0m0 1.2h0m-3.6-1.4h0m-1.1 .7h0m-1 .2h0m-.5 .3h0m0 .6h0m1.2 .4h0m1.2-.8h0m.5-1h0m.5-.3h0m1.3-.5h0m.8 .1h0m1.4-.4h0m.7-.7h0m.2-.5h0m.2-1.4h0m-4.3 3.8h0m-.4 .5h0m-1.4-.1h0m15.5-13.6h0m2 3h0m1.5 3h0m1.5-5.5h0m1.5 3.5h0m1.5-5h0m1 3h0m1.5-3.5h0m-3.5 8.5h0m-3 3h0m-2.5-1.5h0m8-3.5h0m1.5 5h0m-11.5-5.5h0m16 5.1h0m2.2 2.6h0m-1.1-7.1h0m-1.9 12.5h0m3-15.1h0m-3.1 22.7h0m0 .2h0m.6-14.8h0m.3 16.4h0m.5-16.9h0m1.8 11h0m-3.6-5.1h0m2.8 10.4h0m0-23h0m-.7 13.4h0m-1.8-9.7h0m-1 6.5h0m3.4-12.9h0m-1.9 19h0m-.4-8.2h0m3.8 16.7h0m-.6-13.8h0m-1.3-6.1h0m.9 19.8h0m.2-13.6h0m.1 6.4h0m-.3-6.1h0m.4-11.7h0m-1.1 22.4h0m-2.3 2.3h0m-.2-5.5h0m1.5-16.1h0m1 10.9h0m.9-6.9h0m-.1 9.8h0m-2.7 5.3h0m2.9-11.4h0m-2.9 3.1h0m2.4-16h0m.5-.9h0m-1.1 28.5h0m1.3-8.9h0m-1.4 8.6h0m-1.8-1.9h0m1.8-18.2h0m-2.4 2.7h0m0 2.3h0m3.8 9.3h0m-3-.1h0m.8-11.5h0m1.7-9.6h0m-3.6 22.6h0m3.5-5.1h0m.5-2.7h0m-2.6-14.9h0m2 10.8h0m-2-2.5h0m2.7-1.1h0m-2.5 5.3h0m2.4-10.8h0m-.6 9.6h0m-3.9-10.9h0m3.8 17.5h0m-2.8-12.9h0m1.7 10.7h0m-2.5-12.9h0m1.7-1.7h0m-1.8 6.5h0m2.5-2.4h0m1.7 9.9h0m-3.2-9.5h0m-.5-2.4h0m2.9 17.1h0m1.5 5.6h0m-.6 .3h0m-3.2-2.8h0m1.3-9.3h0m-.7-10.3h0m2.2 18.6h0m-.8 2.1h0m-.2-13.7h0m-1.3 14.8h0m2.5-26.4h0m.6 7.6h0m-4.1 9.6h0m1.4 5.8h0m1.2 2.8h0m-2.8-5.3h0m3.8 6.8h0m0 .5h0m-.7-28.6h0m1.1 19h0m-1.9 .7h0m.6-4.9h0m-.1 3.5h0m-1.2-5.4h0m2.3 12.7h0m-.4-13.3h0m-.9 14.5h0m-.1-8.4h0m-.5-16.5h0m.6 21.9h0m-.7-18.3h0m1.1-2.5h0m-2.8 22.5h0m2.7-15.1h0m-3.1-1.5h0m4.3 19.4h0m-2.9-24.2h0m-.4 21.9h0m1-3.3h0m1.5 .3h0m-1.8 5.3h0m1.4-3.4h0m-3.5-21.2h0m2.8 8.5h0m-1.6 3.7h0m-.8 .6h0m4.5 .2h0m-2.6 11.6h0m.1-4.9h0m.9-.4h0m.9-.5h0m-2.5-1.4h0m2.1-.8h0m-.8-9.5h0m.9 .6h0m-2.9 7.2h0m2.1 5.3h0m.1 .5h0m.7-14.8h0m-1.7-3.3h0m-1 18.4h0m-.1 .2h0m1.8-22.9h0m1.4 18.7h0m-2.7-14.5h0m-.3 8.8h0m2.4-6.1h0m-2.2 17.2h0m1.2-26.9h0m1.3 3.4h0m-.1 8h0m-1 10.6h0m1.2 1.4h0m-2.8-17.8h0m-.4 12h0m2-12.9h0m-.2 17.8h0m0-1.1h0m2.1-18.8h0m-3.8 25.4h0m.7 1.6h0m.2-28.8h0m2.3 .2h0m-2.3 20.9h0m1.8-1.9h0m-2.8-8.4h0m.2 3.2h0m-.3 10h0m.1-5.8h0m2.3 10.5h0m.5-22.5h0m-.6 20.2h0m-.9-14.9h0m-.1 3.6h0m1.3 11.2h0m.1-1.8h0m-1.1-13.1h0m1 5.5h0m.2-5.2h0m9.6-3.4h0m.5 .5h0m0 1.1h0m-.1 1.4h0m.1 1h0m-.4 .5h0m4.5 4.9h0m-11.3-2.2h0m.2 .8h0m-.6 1h0m1.1 .1h0m.6 1.2h0m1.2 .7h0m.3 .9h0m-.7 1.1h0m0 .7h0m-.1 1.3h0m-.3 .6h0m-.3 .8h0m-.1 .7h0m-1.1 .7h0m1.3 0h0m0 .8h0m.7 .5h0m-.9-1.5h0m-1 .5h0m-.4 1.1h0m-.5-1.2h0m.6-.1h0m.9 0h0m.5-.1h0m.9-.3h0m-1.8-2.1h0m.3 .5h0m.7 1.3h0m-1.3 .2h0m-.2 .6h0m-1.3 .2h0m1.2-.9h0m1 1h0m.3 .9h0m1.2 .6h0m.2-1.3h0m2.7-7.8h0m0-1.1h0m-1.1-.6h0m-1 .5h0m6.8-9.5h0m-.5 0h0m-1.2-.8h0m.2-.7h0m.5-1.2h0m-1.2 .6h0m6.6 18.5h0m1.1 .1h0m1-.2h0m.9-.2h0m-.2-.9h0m-1.1 .5h0m-.9 0h0m-.5-.1h0m-.7-.1h0m-.2 .5h0m.2 .8h0m-.3 1.2h0m.6 .6h0m.9 .8h0m.8 .9h0m-.1 .9h0m.5 .6h0m.7 .3h0m.6 .3h0m-7.9-13.2h0m-.7 .3h0m-1.3 .1h0m-1.2 .2h0m-1.3-.5h0m-.2-.4h0m.4-.9h0m.4-.2h0m1.3-.4h0m1.1-.6h0m15.9 15h0m-.1-.8h0m-.4-.8h0m.1-1.3h0m.3 1h0m.2 1.1h0m-.6 .6h0m-1.2 .2h0m-.9 .2h0m-.7 .8h0m-1.2 .4h0m-1.1 .1h0m-1.2 .7h0m.8-.3h0m1.1-.3h0m.6-.7h0m.6-1.1h0m-.6-.6h0m.1-.8h0m.3-1h0m.5-.4h0m0-.7h0m-17.9-10.3h0m.9-.4h0m.7 .7h0m11.6-5.4h0m0 .6h0m-1.2 .4h0m0 1.4h0m.5 1.2h0m.3 .4h0m1 .9h0m2.2 11.5h0m1.4-.6h0m.4-1.1h0m.1-1.4h0m-.2-.6h0m-.4-.6h0m-.6-.9h0m-.7-.1h0m-.8-1.1h0m.2-.5h0m.3-1h0m.7-1.1h0m1-.8h0m.5 .1h0m-1.1-.2h0m-.7 .5h0m-.4 .4h0m-.5 .3h0m-1.3 .3h0m.1 6.8h0m-.7 1.3h0m-.4 1h0m1.1 .8h0m.3 .5h0m.7 .5h0m1 .7h0m1.4 .2h0m1.5 .1h0m.4 .3h0m.5-.1h0m1-.2h0m.3 1h0m-.9-.7h0m-.8-.6h0m-.1-.7h0m-.2-.8h0m-.3-.6h0m.8-.5h0m.2-1.1h0m.2-.9h0m-.6-.3h0m-1-.5h0m-1-.2h0m-.3-1h0m-.1-1.1h0m-.6-.5h0m.1-.7h0m.1-1.3h0m.2-.5h0m.3-.8h0m-16.2-5.7h0m11.8 4.7h0m.9 .6h0m.6 .1h0m1.1 .6h0m.8-.2h0m1.2 .3h0m.4 .6h0m-.2 .5h0m-.1 .5h0m-6.1-9.1h0m.7 .1h0m.8-.6h0m-.7-.9h0m0-1.1h0m0-1.4h0m-.4-.5h0m-.2-.8h0m-.8 0h0m-.7-.2h0m-.8 .1h0m-.4-.7h0m.7 0h0m.8-.3h0m.9 .1h0m-.2 .9h0m-3.4 7.7h0m.4 1.4h0m-.1 .8h0m.3 .6h0m1.1 0h0m.3-1.4h0m1.1-.5h0m.4-.8h0m.3-.5h0m-.4-.6h0m-1.2-.3h0m-.1 1h0m1 .6h0m.7 .1h0m.4 .7h0m-5.6 1.2h0m-.6 1.3h0m-1.1 .5h0m-.4 .7h0m.1 1.4h0m1 .1h0m1.1 .7h0m1.1 .2h0m.9-.4h0m1.1 .3h0m.7 .1h0m.6 .5h0m1.2 .3h0m.9 .7h0m.5 .3h0m.4 .7h0m1.3 .7h0m.7-.2h0m.9-1h0m1.5-.2h0m1-.8h0m.8 .5h0m1.1 .6h0m-21.7 3.6h0m1-1.2h0m.4-.2h0m1 .4h0m.9-.2h0m1.1 0h0m.8 .1h0m.8-.6h0m1.1-.7h0m.6-.6h0m.8 .8h0m-4.1-6.4h0m.7 .3h0m.6 1.1h0m-.4 .8h0m-.4 .9h0m-1.1 .8h0m0 .8h0m-1 .7h0m.3 .7h0m.9 .4h0m.4 1.4h0m-.2 .5h0m.7 1.3h0m.7 .3h0m2.5-8.7h0m1.1-.1h0m1-.1h0m-13-1.7h0m4 .3h0m.5 1.1h0m1 .2h0m1.2 .5h0m.1 .9h0m.8 .9h0m1-.7h0m.5-1.4h0m.1-.7h0m.1-1h0m-.6-.9h0m-.9-.8h0m-.4-.9h0m-.8-.1h0m-1.2 .1h0m-.4 .4h0m1.7 .8h0m.5-.6h0m4.3-4.5h0m1.4-.6h0m.6-.2h0m.6 .6h0m.9-1.2h0m.4-.4h0m0-1.3h0m.4-1h0m.6 0h0m0-.9h0m-.1 .9h0m.2 .8h0m.6 1.1h0m.6 1.1h0m.3 .9h0m.1 .7h0m.5 1.2h0m-.7 .9h0m.5 .8h0m.1 .5h0m0 .8h0m.8 .9h0m1 .2h0m.8 0h0m-13-3.7h0m-6.7 4.8h0m1-.8h0m1.2-.7h0m.7 0h0m1.4 .4h0m1 .7h0m0 .6h0m-.6 .8h0m-.9 .6h0m-1.3-.4h0m-.9 .2h0m-1.1 .6h0m-.5 0h0m-1.2-.9h0m-.1-.9h0m.5-.3h0m.2-.8h0m-.2-.6h0m-1-.8h0m.6 .4h0m.6-.2h0m.7-1h0m-.2-.6h0m-.1-1.1h0m13.8-1.8h0m-.5-.9h0m.6-.7h0m-.4-.6h0m.1-.9h0m.9-.9h0m-.6-.2h0m-.6 .3h0m-.8 0h0m-1 0h0m-1 .7h0m-1.3 .2h0m-1.3-.2h0m-.8 1h0m-.6 .5h0m-.9 .9h0m-.9 .5h0m-.4 .7h0m.8 1.1h0m-.8 .2h0m-.4 1.2h0m7.5-8.3h0m.6-.4h0m.9 .3h0m1.3 .6h0m.5 .4h0m.9 0h0m1.1-.5h0m.8 .1h0m-.5 .9h0m-1.1 .4h0m-1 .2h0m-.4-1.3h0m-1.1-.5h0m.5-1h0m.9-1h0m4.6 8.8h0m-.7 0h0m-1-.2h0m-.8-.3h0m-.5-1.2h0m-.5-1.2h0m-.6-.2h0m-.8 .2h0m-.1 .9h0m.4 .5h0m1 .5h0m1-.2h0m.9 .6h0m.2 .5h0m.2 1.1h0m-.3 1.1h0m.3 1.2h0m1.3 .5h0m.2 .8h0m0 1h0m-.8 .1h0m-.9 .9h0m-.3-1.4h0m-.5-.3h0m-.6-.1h0m-1-.7h0m-.6-1h0m-.3-.4h0m-1.3-.3h0m-.9 1h0m-.5 .6h0m-.8-.1h0m-1.2-.5h0m-.9 .3h0m-.9 .6h0m-2.7 2.1h0m.4 .3h0m1.2 .4h0m.5-.6h0m-2.5 2.2h0m.5-1.1h0m-.5-1.3h0m-1.1-.9h0m-.5-.5h0m.1-.6h0m-.2-1.4h0m-.3-.9h0m-.4-.7h0m-.4-.3h0m-1.1-.4h0m-1-.5h0m22.5 17.4h0m1.2-.6h0m-.3-1.4h0m-.1-.5h0m.1-.7h0m-.5-1.1h0m-.6-.4h0m.1-1.2h0m.5-1.2h0m1.3 .1h0m-1.2-.8h0m-1-1.1h0m-.3-.4h0m-7.3-8.1h0m-.5 1.3h0m.3 1.1h0m.2 1.2h0m-.5 .8h0m-.3 .8h0m-9.8 3h0m.6-.3h0m.6-.1h0m.3-1.3h0m0-.8h0m.3-.6h0m.8 .1h0m.3 .5h0m.9 .5h0m.9 .9h0m0 .7h0m-.5 1.3h0m.1 .5h0m-.7 .6h0m-1.1-.2h0m13.7 5.3h0m-.8 0h0m-.9-.5h0m-.8 .2h0m-1.2 .7h0m-.3 .4h0m.4 .4h0m0 1.1h0m-.7-1h0m-.3-.9h0m.4-1.2h0m.1-.8h0m.1-1.3h0m-1.3-.4h0m-.8-.5h0m-.6-.9h0m-.7-.5h0m-.9-.7h0m-.2-.9h0m0-.7h0m-1-.8h0m0-1h0m-.8-1h0m-1.2-.7h0m.2-.6h0m.9-.8h0m1.1-.6h0m.9-1h0m.5 .2h0m.3 .4h0m.3 .7h0m.4 1.4h0m-.3 .8h0m.2 .6h0m.9 .8h0m.9 1h0m.3 1h0m-.4 1.3h0m-1.5 .3h0m-4.8-6.5h0m13.8 6.3h0m-.2 .6h0m-.2 .7h0m.5 1.4h0m.7 .4h0m.9 1h0m1.2-.5h0m.6-.2h0m.6-1.1h0m1.1-.4h0m1-.8h0m.8 .1h0m.8 .3h0m-1.1 6.3h0m.1 1.1h0m.8 .8h0m-.7-.9h0m6.5-12.1h0m0 .7h0m1.3 .7h0m1.2 .3h0m.5 1h0m1.1 .4h0m-.6-.5h0m-.1-.4h0m0-1.1h0m-.4-.7h0m.1-.8h0m-.3 1.1h0m-.3 .5h0m-.6 .8h0m.4 1.1h0m.1 .7h0m.3 .7h0m.9 .7h0m.2 .5h0m-.7 .1h0m-.9-.5h0m-.2-.9h0m-1.1-.1h0m-.9-.3h0m-.6-.4h0m-8.7 6.4h0m0-.5h0m.2-.8h0m.2-.9h0m.2-1.3h0m1.4-.5h0m.3-1.1h0m.1-.7h0m-1-1h0m.6-.7h0m.8 .4h0m.6-.1h0m.5-.2h0m.6-.1h0m.3 .4h0m2.9 8.5h0m1.1 .5h0m1.3-.7h0m1.3-3.5h0m.7 0h0m.4 .9h0m.4 .4h0m.3 1.3h0m-1.2 .9h0m-1.1-.5h0m-.7-.9h0m-.6-1.1h0m-1.1-.9h0m-1.2-.6h0m-.5-.2h0m-1.4 0h0m-.5 .6h0m-.4 1.2h0m-.9 .8h0m-1.1-.9h0m-.3-.7h0m.8-1.1h0m.5-.6h0m-.4-.7h0m-.1-1.1h0m4.4-5.8h0m-1.3-.7h0m-.5-1.3h0m-.2-1.4h0m.2-1.1h0m-.7 .1h0m-.6 .1h0m1.2-.1h0m-.6-.1h0m-.6 1h0m-4.7 7.9h0m0-.7h0m-.4-.8h0m.3-1.4h0m.1-1.2h0m-.8-.8h0m-1-.6h0m-.6 .3h0m9.7-1.6h0m.5-1.3h0m.7 .9h0m.8 .2h0m.7 .8h0m-.3 1.3h0m.3 .8h0m.7 1.2h0m.2 .5h0m.1 .5h0m.1 .7h0m.9 0h0m.6-.5h0m.1-.6h0m.9-.9h0m.4-.5h0m-.6 .1h0m-.7 .2h0m-1.3 .1h0m-1.1 .3h0m-.9-.3h0m-.7-.3h0m-1.4 .2h0m-1.1 .6h0m.6 0h0m1.7-5h0m-.6-.2h0m-.5 .6h0m-1.3 .4h0m.3 .7h0m.6 .4h0m1 .6h0m-1.6 4.1h0m.9 .1h0m.6 1.2h0m.2 1.3h0m-.4 .5h0m-.5 .4h0m.6-.4h0m.4 .2h0m.3-.4h0m.6-.2h0m.5 .1h0m.4 .4h0m.8 .3h0m-.7-.5h0m-.6-.3h0m-.7 .8h0m.1-.6h0m-.4-.4h0m-1.1-.3h0m-.5-.4h0m-1.3-.6h0m.6 .3h0m.6-.3h0m.1-1h0m.5-.4h0m.4-.4h0m1.4 .5h0m-2.6-1.2h0m.6 .6h0m-.1 1h0m.3 1.4h0m.3 .7h0m8 2.1h0m1.5 1.5h0m1.5 1.5h0m-1-3.2h0m2 2.7h0m8.4 9.2h0m-.5 1h0m1.4-.2h0m-5.4-6.3h0m-.2-1.5h0m.4 .5h0m.2 .5h0m.9 .4h0m.6 .4h0m.5 .2h0m1-.1h0m.4-.5h0m-.7 .6h0m-.9-.4h0m-.7-.2h0m-.5-.4h0m-.6-.9h0m-.9-.3h0m-1.4 0h0m-.9 .5h0m-.3 .6h0m-1.3 .7h0m1.1-.5h0m2.6 6h0m.1-.7h0m1.1-.6h0m.6-.2h0m.6-.1h0m1.2 .6h0m.1 .7h0m.7 .4h0m-.9-.5h0m-1.1 .1h0m-.8 .2h0m-1.2-.4h0m-.4-.5h0m-.5-.5h0m-.6-.2h0m-1-.2h0m-1.3 .6h0m0 1.1h0m.6 .2h0m.5-.5h0m.4-.3h0m.7-.1h0m-.4-.8h0m-1.1 .5h0m.5 1.4h0m1.5 0h0m.7 .1h0m.6 .7h0m.8 .4h0m.6 .1h0m-1.1-.3h0m-.8-.8h0m-1-.3h0m-.9-.2h0m-.6 .3h0m.9 .6h0m.6 1.2h0m.6-.1h0m9.8-18.5h0m-5.3-3.6h0m4.8 1.8h0m1.4 7.2h0m-.7-.2h0m-1.7 .3h0m.2-2.6h0m-6.5-5.3h0m3 3.7h0m6.9-2.2h0m-10-1.9h0m1.2 2.1h0m2.4 6.3h0m-5.1-4.5h0m5.8-4.3h0m-6.4 4.3h0m.9 2.5h0m.1-2.2h0m2.9 5.8h0m2-8.1h0m3.7-1.9h0m0 1.1h0m-3.9 3.8h0m-.5-1.8h0m.1 .7h0m2.1-1.3h0m.1 6.8h0m4.2 .2h0m-6.3-2.5h0m-1.4 2.9h0m8-4.9h0m-7.5-2.3h0m7.8 9.9h0m-.4-1.2h0m.9-1.2h0m-.1-1h0m-.3-.8h0m-.2-.8h0m1-.6h0m.5-.2h0m1.2 .1h0m.7 .2h0m.3-1.4h0m-.5-1.1h0m5-4.6h0m-.1 .9h0m-.6 .6h0m-.7 .8h0m-.2 .5h0m-.6 .4h0m-.6 .4h0m-1 .5h0m-.3 .4h0m-.7 .4h0m-.7-.8h0m-.6-1.1h0m-1-.8h0m-.4-.2h0m-1.1-.8h0m-.5-1h0m1.7 .5h0m.2 .8h0m.3 1.3h0m-.7 1h0m.3 1.1h0m.9 1.2h0m.9-.4h0m1.1-.5h0m1.1-.6h0m.4-1.2h0m.8-.7h0m1.4-.1h0m1.5 .2h0m.8-.1h0m.1-1.1h0m.6-1h0m1.1 .8h0m.3 .4h0m0 1.1h0m-.2 .6h0m-.7-.5h0m-.6 .1h0m-.4-.8h0m-.6 .1h0m-.3 .6h0m-.8 .5h0m-.8 .8h0m-.6 .5h0m-.6 .4h0m-.7 .8h0m-.8 .5h0m-.3 .8h0m-.6 1.3h0m.6 1.4h0m.7 1.2h0m.2 .5h0m.8 .7h0m.9 .3h0m.7 .6h0m.4 .6h0m.7 1h0m0 1.2h0m.3 .6h0m.9 .6h0m.9 .9h0m.6 .5h0m-.6-1.3h0m.2-.6h0m.5-.5h0m1-.8h0m-.2-.7h0m-.4-.8h0m-.3 1.3h0m0 .5h0m.8 .4h0m-1.5-17.3h0m-.9 .2h0m-.6 .3h0m0 .7h0m.9 12.3h0m.6 .1h0m.4-.9h0m-4.5-16.3h0m1.2-.8h0m.9-.2h0m-.2 1.2h0m.5 .9h0m1.2 .5h0m.2 1.3h0m.8 .3h0m-.8 .3h0m-.9 .8h0m-.6 .6h0m-.3 1.3h0m-1.1-3.1h0m1.2 .1h0m-3.8 6.7h0m-5.8 4h0m.7-.8h0m.6-.5h0m1.1-.2h0m.8 0h0m1-.9h0m1.4-.2h0m.9-.8h0m-.4-1.4h0m-.3 .6h0m.7 .6h0m.5 .3h0m.3 .7h0m.8-1.2h0m.5-.8h0m1 .4h0m1.1 .2h0m.5-.1h0m.9-.6h0m-.6-.3h0m-.4 .4h0m-1.3 .7h0m-1.3-.6h0m-.4-1.3h0m-.5-1.1h0m.5-.9h0m.5-.5h0m1 .9h0m.5 .5h0m.7 .2h0m.6-.5h0m.1-.7h0m.1-.8h0m.7-.4h0m-.7-.3h0m-.7-.7h0m-.6-.1h0m-1.1-.3h0m-1-.6h0m-.3-.9h0m-.6-.5h0m-1 14.3h0m.9-1.1h0m.5-.9h0m-.3-.7h0m-.4-.8h0m-.4-.8h0m.4-.6h0m.1-1.1h0m-.2-.9h0m.2-.9h0m-.3-.8h0m-.6-.3h0m-1.1-.4h0m-.3-.7h0m-.4-1.2h0m-.6-.5h0m-.8-1.2h0m-.7-.6h0m-.7 0h0m1.1-.1h0m1.3 .3h0m.9 1.1h0m.8 .6h0m-.1 1.2h0m-.4 1.1h0m.4 1h0m.6 .7h0m.6 1.3h0m.8 .2h0m.3 1.3h0m-7 5.4h0m-.9-.5h0m-.2-.6h0m.8-.8h0m1-.7h0m.8-.8h0m.4-1.3h0m-.1-.5h0m-.2-.5h0m-.2-.5h0m-.2-1h0m-.1 11.5h0m.6-1.3h0m.3-.7h0m.4 .4h0m.8 .6h0m.9 .2h0m.7 .5h0m1.4 .3h0m-3.6-7h0m.5 .7h0m1.1 .5h0m-.8 1h0m-.2 .5h0m-.4 .6h0m-.2 .9h0m0 1h0m-.3 1.1h0m0 .9h0m-.2 1.3h0m1 .9h0m.4 .7h0m-.3-.8h0m-.7-.7h0m-1-.8h0m-1.4 0h0m.1 .9h0m.6-.8h0m-.2-.5h0m-.6-1.1h0m.3 .7h0m.3 .6h0m1.1 .5h0m.8 0h0m1.2 .2h0m.1-1.1h0m1.1-.7h0m.9-1.1h0m.5-.5h0m.6 .2h0m.9 1h0m-.5 1h0m-.9 .5h0m-1 0h0m-.4-.9h0m.6-.5h0m0-1.2h0m.8-.5h0m.9-.2h0m1-.2h0m.5 .1h0m.3 .4h0m.7 .3h0m1.4-.1h0m-.4 .3h0m-.3 1.2h0m-.4 .6h0m-.8-.2h0m-.7-.1h0m-.7 .9h0m-1.4-.1h0m-.9 0h0m-3.3-3.3h0m-.8-.8h0m-.7 .3h0m-.5-.1h0m-.4-.5h0m0-1.4h0m.2-.5h0m-.3-.6h0m.2-.7h0m.5-.4h0m.3-.9h0m-.5-.8h0m-.6-.3h0m-.2-.9h0m-.4-.6h0m.9 .8h0m.3 .8h0m.5 1.4h0m-.7 .1h0m-.8-.7h0m-.3 .7h0m.2 .5h0m1.5-.4h0m.5-.4h0m1.1-.7h0m.2-.4h0m.9-.5h0m.9-1h0m.3-1h0m-.6-.4h0m-.7 .3h0m-.2 .6h0m0 1h0m-.5 .5h0m-.7 .2h0m-1.1-.2h0m-1.3 .1h0m-.5-.3h0m.2 .9h0m6.3 9.8h0m-2.1-18.2h0m-1.1-.3h0m-.9-.7h0m.1-.6h0m7.6 6.8h0m-.3 .5h0m-.9 1.2h0m.2 .6h0m-7.1 12h0m.1 .6h0m.8 .7h0m1-.7h0m.5-1.2h0m.4-.7h0m0-1.3h0m-.7-1.2h0m-.6 .4h0m-.4-.8h0m-.5-.2h0m0-1.1h0m-1.2-.7h0m-.9 1h0m-.3 1.2h0m.5-.5h0m1.3 0h0m1.5 0h0m.9 .2h0m.6 .2h0m.6 0h0m.4-.9h0m-.3-.6h0m-.9-1h0m-1-.6h0m-.5-.8h0m-1.2-.5h0m-1 0h0m-1.3 .4h0m-.6 .2h0m.9-.4h0m.8-.8h0m.4-.6h0m.8-.3h0m1.2 0h0m.2-.9h0m-.4-.6h0m-.6-.9h0m4.1 4h0m.5 1.2h0m-.4 1.2h0m-.7 1h0m-.5 1.4h0m.6 .8h0m.9 .9h0m.4 .7h0m.4 .8h0m.5 1.1h0m-.4-.5h0m-.1-1.2h0m7.6-2.8h0m-.1-5.5h0m-2 1h0m3.2 4.8h0m1.1-.1h0m1.1 .3h0m-5.7-1.9h0m2.3-3.4h0m-2.4 3h0m4.4 1.6h0m1.2 .2h0m-3.3-1.2h0m2.5 6.4h0m-6.7 14.6h0m-.5 0h0m-.5 .5h0m-1 .2h0m-.5 .4h0m-.2 .8h0m-.2 1.3h0m-.7 .1h0m-.7-.7h0m-.9-.9h0m-.1-1h0m.1 1.3h0m.2 .6h0m.3 .9h0m-.1 1.2h0m.4 1.3h0m-.3 .5h0m-.5 .6h0m-.6 1.2h0m-.3 1.4h0m-1-.4h0m-.6 .1h0m.9 1h0m0 .6h0m6.9 5.5h0m.7-.5h0m.4-.5h0m.9-.9h0m.3-1h0m.5-1.2h0m1-.7h0m1.1-.4h0m-.7 .2h0m-.4-.6h0m-.7-1.1h0m-.8-1h0m-2.2 0h0m.5-.5h0m0-.7h0m.8-1h0m.5 .1h0m.6 .2h0m.6-.3h0m-2.8 3.2h0m-.8-.5h0m-.5-1.4h0m-1.1-.3h0m-.6-.5h0m-.5-.1h0m-.9-.3h0m-1-.3h0m-.8-.6h0m-.2-1h0m.6-.3h0m.9 .3h0m3.1-5h0m.6 1h0m.8 .7h0m.6 .2h0m.7-.1h0m.9-.4h0m1.3 .2h0m.8-.1h0m1.2 .2h0m.1-.9h0m-.9 .7h0m-.1 .7h0m-.1 1.3h0m.6 .9h0m-7.8-.9h0m-.9 .1h0m-.9-.9h0m-.9-.3h0m.8 .1h0m.2 .8h0m0 .7h0m.3 1h0m.5 .9h0m.5 .7h0m.9 .7h0m.6 1h0m1 .6h0m1.4-.1h0m1.2 .6h0m.5 .3h0m.2 .7h0m.9 1.1h0m1 .5h0m.6-.1h0m-1.4 .1h0m-.7 1.2h0m-2.8 2.1h0m-.5-.8h0m-.6-.5h0m-.8-.3h0m-.3-.5h0m-.1-.7h0m-1.1-1.1h0m-.3-.9h0m-.2-1.3h0m-.9-.4h0m-.6-1.1h0m-.7-.3h0m-.8 .1h0m-.3 .7h0m-.8 1.2h0m.2 1.3h0m.6 .5h0m.7 1.3h0m10.3-.7h0m0-.8h0m-.9-1h0m0-.8h0m.6-1h0m.6-.9h0m-1.2-4.5h0m-1.2-.5h0m-.7-.9h0m.3-1.1h0m.7-.3h0m.6 .2h0m.7 .3h0m.4 .7h0m.6 .3h0m.6-.1h0m-1.1 .5h0m-1.3 .5h0m-.9 0h0m-1-.4h0m-1-.2h0m-.7-.3h0m-.8-1.1h0m.5-1.2h0m-.6 .5h0m-.3 .6h0m-.5 1.2h0m.2 .5h0m.3 .8h0m1.3 .2h0m.3-.3h0m1.3 .1h0m.5 .9h0m.6-.6h0m.1-.6h0m.1-.8h0m-.6-1.3h0m-.8-.6h0m-.3-.8h0m.6 .3h0m.3 .9h0m-.2 1h0m-2.9 9.4h0m1.1 .1h0m.4 .6h0m1.1 1h0m.5 1.1h0m-.4 1.2h0m-.7 .6h0m-1.3-.4h0m-.6-.3h0m-.2-.5h0m-.8-.9h0m-1.1-.8h0m-1.1-.7h0m-.6-.8h0m-.3-1.1h0m.2-1.1h0m.4-.4h0m.6-.6h0m.5 .3h0m1.1-.2h0m.2-.6h0m-.7-1.2h0m-.3-1.5h0m0-1.3h0m.3-.8h0m.7-1.2h0m7.1 12.1h0m.4-1.3h0m-.7-.5h0m-1-.1h0m.3-1.2h0m.5-.9h0m.2-.6h0m.3-1h0m1-1.1h0m-.3 .9h0m-.7 1.3h0m.5 .9h0m-.3-4.3h0m-.3 .9h0m.1 .9h0m6.1 23.4h0m-15.4-1.1h0m4-.1h0m5.2 .6h0m-12.1-1h0m8.3 1.2h0m-7.2-.5h0m8.9 .6h0m-8.5-1.5h0m1.5-.2h0m-4.2 .7h0m5.5 .1h0m-.6-1h0m7.7 .7h0m-13.5 1.1h0m9.8 .1h0m6.9 0h0m-12.7 0h0m8.2-1.5h0m-.5 .8h0m-8 .9h0m10.6-2h0m6.8 .6h0m-11.8 1.1h0m2.6-.4h0m-11.8 .5h0m17.5-.8h0m-8-.2h0m6.9 .8h0m-13.4-.4h0m14.2-.7h0m-17.5 .6h0m18.8 1.9h0m2.8-2.1h0m-18 .7h0m-2.5-.3h0m.7 .6h0m15.6-.1h0m-6.4-.4h0m-9.2-.4h0m15.8 0h0m-12.8 .3h0m-2.7-.7h0m12.7-.3h0m8.1 1.2h0m-21.5 .3h0m-1.2-.6h0m4.4-.2h0m15.3-.3h0m-13.2 .3h0m2.8-.1h0m-3.8 0h0m.6-.3h0m9.4 .1h0m-6 .4h0m-9.3 .2h0m-1-1.1h0m18 .8h0m4.2 .9h0m-.9-1.1h0m-18.7-1.7h0m1.4-1h0m-2.7 .8h0m-.3 7.6h0m-.6-7.7h0m-.8-2.4h0m.5 .6h0m6.7 .1h0m-2.1 7.9h0m1.5-.3h0m-5.1-8.5h0m3.1 10.5h0m1-9.2h0m-4.6 4.6h0m1.6-.1h0m-1 3.6h0m1.2-4.5h0m1-1.8h0m-1.3 1.6h0m-1.1-4.1h0m3.8 4.3h0m-1.1-4.4h0m-3.4 3.4h0m6 3.3h0m-.2-5.2h0m27.5 9h0m.9-.3h0m-.7-.5h0m-.1-1.3h0m-.7-.8h0m-.7 1h0m-1 .3h0m-.5 .2h0m-1.4 .4h0m-.5-.1h0m-.4 .5h0m-4.7-13.5h0m.5 1.4h0m.8 .9h0m.2 .6h0m.7 .9h0m.4 .3h0m-2.5 .8h0m-.4-.3h0m5 7.3h0m-.5 .8h0m-1.4 .2h0m-1.4 0h0m-.6-.2h0m-1.4-.5h0m-.5 .1h0m-.8 .9h0m.5 .9h0m.6 .9h0m7.7-13h0m1.2 .6h0m.3 1h0m.5 1.2h0m.4 .7h0m1 .9h0m-11.4-5.2h0m.4 1h0m1.4-.3h0m.9-.7h0m1.2-.3h0m1.1-.7h0m.6 .1h0m-1.4 7h0m-.1-.7h0m.5-1.3h0m.6-.3h0m1.7 3.8h0m.5-1.2h0m-1-.9h0m-.9-.7h0m-.3-.6h0m-.8-.7h0m.4-.5h0m-.5-.3h0m-1.3-.3h0m-1.4-.2h0m-.7-.2h0m-.1-.8h0m-1.2-.2h0m-1.4-.3h0m.5-.9h0m.1-.6h0m-.3-1.4h0m1-.3h0m.5-.7h0m1.2-.9h0m.3-.9h0m-.2 .7h0m-.5 .7h0m-.6 .4h0m-1.1-.5h0m-1.3 .3h0m.5-.1h0m12.1 4.6h0m-.9 .5h0m-.4 .5h0m-.8 .4h0m-.9 .6h0m-.6 1h0m-1.1 0h0m-.5 .2h0m-.7 .2h0m-.6 .4h0m-1.2 .4h0m-1 .7h0m-.6 .5h0m5.5 5.3h0m-.2 1.3h0m-.2-.9h0m-.8-.7h0m-1.1-.4h0m-.2-1.1h0m-1-.2h0m-1-.2h0m-1.2-.3h0m-.9 .1h0m-.5 .8h0m.9 .8h0m.7 .1h0m.6-.1h0m.6-.4h0m.6-.4h0m.6-.8h0m.6 .1h0m0 .8h0m.3 .6h0m.8 .6h0m1 .3h0m.8 1.3h0m-.9-.7h0m-.8 1.3h0m.2-1.1h0m.7-1.2h0m-.1-1.1h0m-.1-1h0m.2-1.1h0m-.3-.5h0m-.6-.1h0m-.7 .2h0m-.5 0h0m-.7-.3h0m-.2-.9h0m-1-.7h0m-1.1 .8h0m-.7-.3h0m-1-.8h0m-1.4 .5h0m-1.1 .1h0m6.5-9.6h0m-1.1 0h0m-.6-.3h0m-.4 .8h0m-.8 1h0m-.4 .4h0m0 .6h0m.3 .9h0m-1 1h0m-1.2 .1h0m-.6-1h0m-.2-.8h0m0-1.5h0m.4 .2h0m.7-.2h0m.5-1.2h0m.2-1.4h0m.1-.7h0m.6-.1h0m11 15.1h0m0-1h0m.6-1.4h0m-1.4 .3h0m-1.1 0h0m-.6-.1h0m-.8 0h0m-1-.5h0m-.1-1.1h0m-.1-.7h0m0-.7h0m-2.5 4h0m.1-.6h0m-.1-.8h0m-.3-.8h0m-.5-.4h0m-.5 .2h0m-1 .4h0m-.9 .5h0m-.7 .7h0m-.6 .2h0m.2 1.4h0m-.1 1.4h0m.2 .6h0m.6 .9h0m-.8 .3h0m-.8-.6h0m-.8-11.3h0m.2 1.3h0m.5 .5h0m.5 .2h0m.7-.4h0m.9-.8h0m.6-.5h0m.4-1.4h0m-.3-.7h0m-.1-1.7h0m2.5-.9h0m-.7-.1h0m-.6 0h0m-.3 .8h0m.7 1.1h0m.7 1.1h0m.1 .5h0m-.7 0h0m-.4-.5h0m-.7-.6h0m-.5-.3h0m-.3-.6h0m.1-.7h0m.8-.9h0m.1-.6h0m.6 .7h0m.5 0h0m1.3 .2h0m0 1.2h0m.3 .4h0m1.4 .6h0m1.4 .4h0m.6 .2h0m-.3 1.3h0m-.1 .8h0m-1.2-.5h0m-.6-.6h0m-.3-.7h0m-.3-.8h0m-.2-.6h0m0-.9h0m-.8 1.2h0m-.5 .7h0m-.3 1.4h0m-.5 .3h0m-.7 .1h0m-.9 .2h0m-.5-.2h0m-.7-.7h0m.5-.6h0m.9 .4h0m.8-.2h0m-.5-.4h0m-.8-.9h0m-.5 .7h0m-.7-.3h0m-.8 .2h0m-.7-.4h0m-.8-.5h0m.7 .4h0m1.4 .2h0m.9-.4h0m1.1-.5h0m.3-.7h0m.6-.2h0m.9 .3h0m1.1 .3h0m1.1-.4h0m.9-.1h0m.9 0h0m-1.1 .6h0m-.6 1.1h0m-.5 .6h0m-1 .8h0m.4 .8h0m.8 1.2h0m.6 1h0m.9 .6h0m.9-.1h0m.7-1h0m.1-.6h0m.6-.3h0m.7 7.5h0m.8 .7h0m1 .8h0m-1.3 .1h0m-.6 1.1h0m-.1 .6h0m-.2 .6h0m-.9 .6h0m-.6 .2h0m-.4-1.3h0m-1.2-.4h0m-1-.4h0m-.8-.5h0m-.6-.4h0m-.6-.1h0m-.2-1.5h0m.6-.5h0m.8-.4h0m1.3-.4h0m1.1 .3h0m.5-.7h0m.2-.6h0m.6 1.9h0m.6 .8h0m12.2-2.5h0m-7.7-.5h0m-.5 0h0m.9-.1h0m.9-.4h0m.3-.4h0m1.1-.9h0m.7 .1h0m1.2 .6h0m.5-.2h0m.9-.4h0m.5-.4h0m-.9-1.1h0m-.9 .6h0m-.2 1.4h0m.3 .5h0m-1.3 .5h0m-1.3 .7h0m-.3 .5h0m0 1.4h0m-.5 .8h0m-.6 .5h0m-.5 1.1h0m-.1 1h0m.6-.8h0m.3-1.1h0m.2-1.4h0m6.9 2.3h0m-1.3 .7h0m1.3 .2h0m-1.4-.2h0m.1-1.4h0m.2-1.2h0m.4-1.2h0m-.1-.9h0m1.1-.6h0m.3 1.4h0m.2 1.4h0m-.5-.3h0m-1.2 .4h0m-.6 .8h0m-.9 .1h0m-.4-.4h0m-.6 .5h0m-4.2 .6h0m-1.1 .4h0m.4-.6h0m1.2-.6h0m1.1 .1h0m1.1-.3h0m.6-1h0m.9-.3h0m.9 0h0m.6 .2h0m.6 .3h0m.7 .4h0m1.5-.3h0m.5-.8h0m-.5 .5h0m-.2 .8h0m-1 .2h0m-.3 1h0m-.4 .9h0m.8 .1h0m1.4 .1h0m-.7-1h0m.7-.8h0m-.8-.4h0m-.7 .1h0m-.7 .2h0m-1.2 .5h0m5.3-9.6h0m-1.2 2.1h0m1.8-2.9h0m.2 1.5h0m-.3-.8h0m-.6 1h0m-1.1 4.4h0m.4-3.3h0m.7-1.8h0m1.2-.6h0m1.3 .7h0m5 5h0m-6-5.2h0m5.9 4.8h0m-6-4.9h0m6.6 6.1h0m.1-.5h0m1.8 1.9h0m0-.3h0m-4.6-3.8h0m-.6-.6h0m-.2-.6h0m1.3 .8h0m2.8 2.7h0m15 4.2h0m-15.9-.5h0m13.2 2.2h0m-6-2.5h0m-16.4 1.2h0m6.9-1.5h0m25.4 2.1h0m-24.7-1.5h0m30.5 1.6h0m-7.7 .6h0m2.3-1.2h0m14.7 .4h0m-43.2-2.7h0m-2.8 3.5h0m37.2-.4h0m-37.9-1h0m12-1.9h0m19.2 2.6h0m-31-.5h0m35.7 .2h0m-20.7-1.9h0m-15.8 2.9h0m30.9 .2h0m-16.2-2.2h0m-.3 1.8h0m-3.6 .3h0m.3-2.8h0m-.5 1.7h0m6.1 1.2h0m20.2-.1h0m-8.9-1.2h0m9.5 .6h0m11.5 .5h0m-8.6-.9h0m-28.6 .1h0m31.7-.1h0m-29.4 .7h0m-2.4-1.2h0m33.8 1.2h0m-27.8-1.7h0m-14.8 1.9h0m45.4-1.4h0m-15.1 .7h0m-5.8 .3h0m12.8-.4h0m-39.7-2.8h0m18.8 1.2h0m-12.1 .9h0m9.3-.1h0m-11.8 .1h0m-2 1.5h0m9.3-1.8h0m-9.6 .3h0m22.9 1.6h0m-15.4-.4h0m29.3-1.4h0m-2 .4h0m-.5 .9h0m-5.9-1.4h0m-28.2 2.2h0m11.2-2.5h0m3.5 .9h0m-7.7-.4h0m17.1 1.2h0m21.2-.1h0m-6.7 .4h0m-36.8 .1h0m8.2-2.7h0m37.6 3h0m-30.5-2.2h0m-18.1 .6h0m32.6-.4h0m-16.4-1h0m-12.6-.9h0m33 3.7h0m-30.9-3.4h0m1.5 2.3h0m10.8 1.3h0m1-2h0m-5.9-1.5h0m9.1 2.8h0m-11.5-.6h0m-5.3-2.8h0m27.4 3.6h0m-19.6-1.6h0m31.9 1.3h0m-16.3 .2h0m-17.2-.1h0m14.7-1h0m-14.9-1h0m24.2 2.2h0m-32.9-2.8h0m5.5 2h0m-9-2.9h0m13.9 2.1h0m29.5 .1h0m-9.9 .7h0m10-.7h0m-6.8 1.1h0m-36.7-1.4h0m49.4 2h0m-44.8-.7h0m1.1-3h0m10.5 2.2h0m-16.8 0h0m-.2-.5h0m11.1-1.1h0m28.8 2h0m9.3-.3h0m-39.8 1.7h0m-3.6 0h0m11.3-2.8h0m-3.1-.1h0m5.9-.1h0m17.4 1.7h0m-16-.8h0m-20.9-1.4h0m48.7 3h0m-17.4-.9h0m-19 .9h0m17.5 .3h0m-6.1-.8h0m-8.8-1.1h0m-11.4 1h0m-3.3-1.6h0m27.4 2.2h0m-6.3 .1h0m24.7-.2h0m-42.5-.9h0m33.7-.2h0m-1.2 .2h0m-33.8-.5h0m37.5 1.5h0m-5.2-1.4h0m-16.2 1.9h0m-12.9-4.2h0m4 1.5h0m-5.8 .1h0m22.6 1h0m-2.2 .2h0m-17.8 .3h0m41.3 .2h0m-45.9-.1h0m11.1-.6h0m6.8 1.3h0m26.5-.8h0m-39.9-1.3h0m-2.7 1.4h0m2.1-1.7h0m7.1 2h0m9.9-.7h0m19.8-.6h0m-23.2 1.4h0m-3.9 .5h0m28.1-.9h0m-38.2-.3h0m2.6-1.9h0m11.2 1.8h0m-18.2-3.2h0m3.4 .4h0m33.7 2.2h0m9.5 .9h0m-47.1-1.8h0m4.5-1.5h0m19.1 2.2h0" stroke="#0bad4c" stroke-width="2.1" stroke-linecap="round" fill="none"/>
<path d="M218.7,627.6 L224.2,627.6 Q221.5,630.8 218.7,627.6 Z" fill="#f39a1e"/>
<line x1="192.60" y1="499.70" x2="192.60" y2="645.30" stroke="#222" stroke-width="1.3" stroke-dasharray="4.5,3.2"/>
<path d="M155.00,652.20 L161.00,652.20 L158.00,646.50 Z" fill="#111"/>
<polyline points="88.70,628.30 112.20,631.80 125.00,634.70 140.10,613.90 148.10,630.90 158.60,625.00 174.00,589.00 180.00,576.00 190.60,573.00 199.00,564.00 205.60,532.00 211.60,619.00 225.00,613.00 232.00,586.00 249.40,645.00 258.00,645.00 260.60,645.00" fill="none" stroke="#ff0000" stroke-width="2.2" stroke-linejoin="round" stroke-linecap="round" />
<circle cx="88.70" cy="628.30" r="2.55" fill="#000"/>
<circle cx="112.20" cy="631.80" r="2.55" fill="#000"/>
<circle cx="125.00" cy="634.70" r="2.55" fill="#000"/>
<circle cx="140.10" cy="613.90" r="2.55" fill="#000"/>
<circle cx="148.10" cy="630.90" r="2.55" fill="#000"/>
<circle cx="158.60" cy="625.00" r="2.55" fill="#000"/>
<circle cx="174.00" cy="589.00" r="2.55" fill="#000"/>
<circle cx="179.60" cy="567.40" r="2.55" fill="#000"/>
<circle cx="181.40" cy="585.40" r="2.55" fill="#000"/>
<circle cx="190.60" cy="573.00" r="2.55" fill="#000"/>
<circle cx="197.40" cy="558.60" r="2.55" fill="#000"/>
<circle cx="200.00" cy="569.80" r="2.55" fill="#000"/>
<circle cx="204.00" cy="557.80" r="2.55" fill="#000"/>
<circle cx="204.00" cy="507.40" r="2.55" fill="#000"/>
<circle cx="211.60" cy="619.00" r="2.55" fill="#000"/>
<circle cx="225.00" cy="613.00" r="2.55" fill="#000"/>
<circle cx="232.00" cy="586.00" r="2.55" fill="#000"/>
<circle cx="249.40" cy="645.00" r="2.55" fill="#000"/>
<circle cx="258.00" cy="645.00" r="2.55" fill="#000"/>
<circle cx="260.60" cy="645.00" r="2.55" fill="#000"/>
<path d="M459.6 643.2h0m-77.1-.6h0m84.2 1.7h0m-80.3-.2h0m40.4 .9h0m-4.9-2.4h0m-31.2 .3h0m76.4 .3h0m-45.5 .1h0m-3.1 .5h0m6.9-.1h0m-3.4 .5h0m19.2 .2h0m14.1-.9h0m-68.3-.8h0m29.9 2h0m50.1-1.2h0m-63.2 0h0m-13.5 .6h0m70.3-1.3h0m-3.2 .2h0m-27.5 .7h0m-13.7 .1h0m16.9 .2h0m13.5-.8h0m-53.2-.2h0m56.5 .3h0m5.2 1h0m-4.6-1.1h0m-68.9 .7h0m57.7 .4h0m-35.5-.1h0m13.1-.8h0m47.9 .4h0m-46.1-.6h0m38.1-.2h0m-43.5 1.7h0m30-1h0m5.9 .3h0m-58.9-.8h0m29 1.2h0m-36.7-.2h0m40.3-.5h0m-8-.2h0m-2.3 .9h0m41.7-1.1h0m-61.7 .4h0m57.7-.5h0m-57.3 .1h0m-6.5-.1h0m35 0h0m26.6 .1h0m-55.2 .5h0m20-.7h0m18.2 1.3h0m18.6-.8h0m-37.8-1.3h0m19.5 2.1h0m-3.7-1.3h0m39.9 .4h0m-54.4-.2h0m-17.9 .5h0m58.1 .1h0m-16.5-.7h0m23.5-.3h0m-82.5 .7h0m51.7 0h0m4.3 .2h0m-23.8 .4h0m8.4-.9h0m-17.8 .3h0m35.6 1h0m-35.6-.8h0m-14.5 .7h0m37.5-2.2h0m26.5 1.2h0m-7.3-.2h0m7.5 .6h0m-62.4 .1h0m34.8 .4h0m-23-.5h0m41.1-1.3h0m-3.1 2h0m24.2-1h0m-24.3-.7h0m-2.5 1.6h0m-26.1-.5h0m-19.3-.2h0m4-.6h0m-7.9 .6h0m74.6-1.1h0m-16.9 1h0m-24.8 .1h0m48.3-1.4h0m-2.4 .5h0m-51.4 .7h0m22.9-1.3h0m-30.7 1.8h0m42.7-.2h0m-25.1-.1h0m-5.7-.2h0m22.8-.4h0m-37.9 .4h0m48.1 .2h0m.2-.1h0m-39.3-.7h0m49.9 .7h0m-61.7 .6h0m61.7-.8h0m-15.6 .3h0m-35 .2h0m47.4-.6h0m-52.3 0h0m-24.9 .1h0m3.4 .7h0m1.8 0h0m23.3-1.5h0m21.2 .9h0m17.7 .5h0m-36.9-.5h0m19.3-.1h0m-.5-.9h0m-36.8 .7h0m-4.2 .8h0m23.7-.4h0m-12.6 .2h0m14.5-.3h0m2.6-.1h0m25 .3h0m.5 .8h0m8.9-1.8h0m-50.5 1.1h0m31.5-.9h0m-35.7 .3h0m-8 .5h0m-8 .7h0m10.6-.9h0m-9.9-.5h0m27.6-.2h0m-7 .3h0m7.7 .9h0m40.2-.4h0m-21.2-.5h0m21.5 .3h0m-13.5 .6h0m30.3-.7h0m1.1 .1h0m-8.2 .4h0m-80.9-.4h0m76 .1h0m-76.1 .9h0m82.7-1.5h0m-41.6 .3h0m27.6 .3h0m-6.2-.5h0m-6.8 .5h0m7.7 .4h0m-43.6 .1h0m55.3-.8h0m-35 .2h0m39.8-.4h0m-31.5 .4h0m-28-.6h0m-1.1 1.3h0m64.2-1h0m-22.3 .8h0m-17.3-.3h0m34.5-.6h0m11.4-.1h0m-36.8 .3h0m21.6 .2h0m-39-.3h0m4.2-.2h0m23.8-.1h0m11.6 .5h0m-19.5 .6h0m-34.3-.2h0m53.7 .1h0m7.3-.9h0m-10.3 .9h0m-53.5-.2h0m-10.9-.4h0m17.8-.4h0m22.2 .8h0m-36 .4h0m.1-.9h0m17.2 2.1h0m1.4-2h0m-26.7 .6h0m-2.3 .4h0m48.7 .1h0m-3.4-1.3h0m40.8 .1h0m-9.6 .2h0m-18.8 .1h0m-46.3-.1h0m33.3-.7h0m24.1 .8h0m17.3 .3h0m-38.9-.8h0m39.8 .3h0m-66.9 .4h0m12 .2h0m20.8-.2h0m26.9-.6h0m-15.3 .1h0m-1.2 .3h0m2.2 .5h0m-47.9-1.1h0m51.7-.2h0m15.5 .7h0m-22.1-.4h0m-46.7 .4h0m55.5-.3h0m-75.3-.3h0m41.8 .8h0m-15.7-.3h0m40.5 .1h0m12.8-.6h0m7.8 .7h0m-64.2-.2h0m23.7 .1h0m42.8-1.2h0m-3.3 2.1h0m-31.7-.8h0m-9.6 .2h0m-25.4 .2h0m39.1-.2h0m1.9 .7h0m-11.6-1.6h0m13.4 .2h0m-10.2 1.2h0m-27.5-.2h0m-24.6-1h0m27.7-.4h0m16.5 .9h0m46.2 .9h0m-60.6-.8h0m-12.9-.4h0m19.7 0h0m7.9 .5h0m2.4 .2h0m28.7-.1h0m-72.3 .4h0m51.9 .2h0m-17-1.6h0m6.9 1.2h0m12.5-1.2h0m-43.3 1.1h0m26.5 .1h0m3.4 0h0m6.2-1h0m-5.2 1.1h0m11.7-1h0m-23.5-.1h0m6.1 1h0m28.1 .1h0m-66.7-.3h0m10.3 .2h0m39.6-.5h0m6.6-2.2h0m6.3 2.7h0m-28.2-.6h0m27.4-2.1h0m24.9 1.9h0m-13.3 .1h0m-20-.3h0m-18.1-1.3h0m34.5 1.3h0m-23.3-.2h0m23 .1h0m-23.1-2.4h0m33.1 3h0m-42.8-.1h0m26.3-.6h0m6.3 .2h0m17.7-2.1h0m-5.8 .3h0m-36.9 3.1h0m39.1-2.1h0m-25.4 1.4h0m24.3-1.2h0m-41 0h0m-2.8 1.1h0m7.7-2.7h0m20.4 1.8h0m15.4-1.2h0m-5.3 2.7h0m-36.8-.1h0m24.1-.9h0m20.9-2.3h0m-34-1.2h0m22.8 4.5h0m-15.6 .1h0m1.3-4.7h0m29.4 1.4h0m-35.2 .2h0m2.8-.7h0m26.7 3.6h0m-31.1-2h0m-5.5 1.8h0m31.3-1.5h0m-16.2 1.8h0m-26.4-.7h0m25.5-1.8h0m22.6-.3h0m-39.7 1.4h0m-11.3 .8h0m34.2 .6h0m6.6-3.4h0m-10.4 3h0m12.5-3.8h0m-15.1 4h0m26-2.9h0m-50.8 3h0m26.3 0h0m-1-3.3h0m12-.8h0m-37.1 2.8h0m35.1-2.9h0m-1.4 4.6h0m-3.8-2.8h0m-1.5 1.9h0m-10.7-2.8h0m-12.3 .5h0m-3.1 1h0m15.5 .2h0m12.4 .2h0m-14-2.9h0m13 1.4h0m9.2 .1h0m5.8-.1h0m-29.8-1.4h0m25.4 2.6h0m-41.6 1.6h0m7.2-1.5h0m24.1-3h0m-13.3 3.2h0m-15.4 1.1h0m3.8-.6h0m5.2-3h0m19.5 3.6h0m-15.8-3.8h0m-9 1.1h0m1-.3h0m33.8 3.1h0m-21.4-4.2h0m-5.9 1h0m2.7 3.6h0m10.1-1.4h0m-7.8 0h0m-15.1 1h0m47.5 .3h0m-1.4-2.8h0m-38.6 1.2h0m17.1-2.3h0m-25.1 2.4h0m7.3-1.2h0m14.7-1.4h0m-17.6 3h0m-9 .8h0m12.3-2.7h0m.7-1.2h0m20 4.4h0m-20.7-2.2h0m2.6 1.8h0m-1-3.1h0m6.1-.2h0m2.7 3.1h0m-19.2-.9h0m33.1-2.3h0m-13.3 2.9h0m29.8-1.8h0m-29.4 2.7h0m14.2-3.7h0m-25.5 3.1h0m16.6-1.3h0m12.3-1.6h0m-29.5 3.4h0m8.8-4.7h0m-7.9 .6h0m12 2.7h0m-4.9-3.4h0m-17.8 4.8h0m17.4 .1h0m32.5-.4h0m-37.4-.6h0m-11.5-.7h0m39.4-2.7h0m.5 4.5h0m14.1-3.2h0m-37.3-1.7h0m15 .1h0m-26.7 1.2h0m41.9 2.4h0m-19.8 .2h0m-15.9 0h0m12.7-.4h0m-5.1 1.5h0m20.5-2.9h0m-36.7 .1h0m44.2 .8h0m-19.5-3.8h0m.1 0h0m26.7 2.8h0m-50.1 2.6h0m48.8 0h0m-19.3-4.9h0m-14.9 .9h0m24.4 2.8h0m-1.4 1.3h0m-4.1-1.6h0m6.4-1.6h0m-30.6 3.4h0m32.9-2.5h0m-19.4 1.1h0m22.4-.2h0m-40.4 1.4h0m10.8-1.1h0m24.4-1.1h0m-33.3-.8h0m63.8-18.7h0m-5.3-25.2h0m-2.2 32.1h0m-1.4-3.4h0m7.3-27.3h0m.8-2.3h0m2.2 17.8h0m-10.2-10.2h0m3.7-4.7h0m5.8 31.8h0m-6.5-28.1h0m-.3 23.6h0m7.1-14.2h0m-2.2 3.5h0m-2.8-5.6h0m.5 11.6h0m-2.7 3.2h0m-.4-22.7h0m7.3 29.2h0m-2.4-14h0m-5.4 18.9h0m4.5-22.1h0m-4.5-10.9h0m7.2 8.4h0m-5.6-12.3h0m3.3 7h0m3-2.7h0m-8.8 7.1h0m-.7 5.4h0m5.9 .3h0m-7.3 8.4h0m5.3 14.8h0m5.9-17.3h0m-.4-15.1h0m-.2 24.4h0m-8.3-11.3h0m5.2 14.7h0m-5.6-33.5h0m6.5 22.3h0m-1.1-22.5h0m.4 18.5h0m-6.8-.6h0m9.8-1.7h0m-7.2 14h0m-.3-5.9h0m3.4-24.3h0m-4.5 16.6h0m1.1-10.2h0m-.5-13.1h0m2.8 16.2h0m-3.5-12.1h0m8.6 6h0m-1.7 4.6h0m-8.6 24.8h0m.5-25.2h0m10.3 9.5h0m-9.7 13.6h0m-.8-7h0m1.5-21.4h0m3.4 16.1h0m5.2-23.3h0m-1.7 17.2h0m0-17.1h0m1.9 21.5h0m-4.7 18.4h0m2.6-24h0m1.4 12.2h0m-3.9 6.8h0m.3-18.6h0m4.7 12.4h0m-8-15.9h0m.2-13.6h0m2.6 28.5h0m3.9 1.8h0m-3.9-29.6h0m1.4 35.8h0m-2.6-14.1h0m-3.5-16.4h0m3.9 11.3h0m-.5 6.6h0m6.9-12.7h0m-2 13.5h0m-6.7-15.2h0m-.8 12.4h0m-2.1 13.3h0m5.1 1.3h0m-2.6-14.9h0m-1.9-9.7h0m-.5 27.1h0m-.5-10.7h0m9.3-2.2h0m-4.2-19.7h0m5 12.4h0m-3.2-8.5h0m2.1 15.2h0m-2.3 11.3h0m-.9 2.7h0m-1.3-28.4h0m2.6-1.7h0m-5.7 31.7h0m-.7-19.4h0m1.3 20h0m7.3-19.1h0m-1.1-24h0m.1 6.7h0m.8 .6h0m1.4-2h0m-7.4 11.6h0m.6-22h0m-.4 2.1h0m-2.5 40.5h0m10.7-10.5h0m-10.3 2.4h0m5.8-28.4h0m-1.3 41.4h0m5.3-12.7h0m-7.2-24.3h0m3-9.2h0m3.4 18h0m-8.2 23.3h0m3.4-16.6h0m.7 .8h0m.7-13.9h0m-2.1 20.8h0m6.3 10.7h0m-5.6 .3h0m.5-42.4h0m2 25.7h0m-7 .6h0m9.6 14h0m-3.9-40.9h0m4.9 35.6h0m-5.2 5.9h0m-5.7-16.8h0m4.8 14.6h0m-4.7-13.3h0m9.7-20.7h0m-9.5 18.2h0m10.4-12.8h0m-9 27.2h0m-1.8-17.8h0m.4 8.6h0m10.1-22.9h0m-6.2 12.1h0m7.1 4.2h0m-3.4 18.6h0m-2.7-23.3h0m-5.5 19.7h0m1.2-.7h0m5.1 5.2h0m-.1-40h0m2.3 23h0m-1.6-12h0m-2.5 16.9h0m-1.2 3.7h0m.8-32.3h0m5.8 24.3h0m-4.3-21.2h0m5.1 23.7h0m-8.1 18.6h0m2-38.5h0m2.4 16.3h0m.9 23.2h0m-.6-22.8h0m-5.2 4.8h0m5.8-18.3h0m-6 7.7h0m-1 18.4h0m1.9 1.9h0m-2.1-19.1h0m11.1-3.1h0m-9.8-1.5h0m2.4-18.2h0m5.5 16.6h0m-6.7 31.6h0m3.1-40.8h0m-2.7 26.8h0m1.4-33.3h0m-2.8 34.2h0m2.1 2.2h0m4 1.2h0m.2 5.7h0m-8.9-1.9h0m4.6 3.9h0m6.4-.6h0m-8.6-35.5h0m.7-2.4h0m7.3 37.9h0m-1.3-38h0m-1.9 16h0m-6.2-5.9h0m-.2 16.1h0m6.1-.1h0m-2.1-10h0m4.2 2.2h0m1.3-.3h0m-3.6 3.5h0m-5.5-1h0m9-1h0m-4.7 5h0m-3.5-4.6h0m7.2 5.4h0m-2.1 17.7h0m-1.8-44.9h0m-4.2 15.4h0m4.4 9h0m2-6.8h0m-2.2-4.1h0m-.1-.2h0m-3.4 30.6h0m-.5-8.3h0m3 1.6h0m5.1-8.3h0m.6 10.6h0m-9.7-9.5h0m5.2-1.7h0m-.9-11.3h0m-3.5 6h0m6.5 15.7h0m2.2-5.4h0m.8-15.1h0m-3.8 16.6h0m3.5-10.9h0m-8-13.8h0m1.8 16h0m3.7-3.6h0m-2.7 .1h0m.9-21.8h0m-.8 24.9h0m3.1-4h0m-5.6-1.9h0m4.6 .4h0m-.5-4.7h0m1.4 5.6h0m-2.4 2.7h0m-.3 2.8h0m-1.6-1.1h0m-.4-4.5h0m1.6-3.2h0m-.5-16.5h0m-.5 20.5h0m.5-13.1h0m-.7-5.9h0m2.9 21.6h0m-.8 3.6h0m-3.2-13.1h0m5.1 5.2h0m-4.1-1.1h0m1.9-4.5h0m-3.1-10.5h0m.3 24.7h0m.1-22.5h0m.9 8.9h0m-.1-12.5h0m-1.1 3.1h0m-.2 .7h0m3.2-8h0m-2.1 20.1h0m-.1 5.6h0m3.5 3.1h0m-1.9-14.1h0m-.3-9.2h0m-.3 18.8h0m1.2-4.9h0m-.9 9.4h0m-12.2 21.2h0m2.3-4.5h0m4.4 1.1h0m-6.7-1.6h0m1.5 .9h0m-2.8 .4h0m1.6 3.3h0m-.3-.4h0m1.3 2.5h0m.3-1.1h0m2.9-5.1h0m-5.2-.3h0m8 6.1h0m-11.7 .5h0m5-8h0m-2.3 3.6h0m4.9 4.4h0m1.8-1.9h0m-3.8-5.9h0m-1.1 3.1h0m5.2-3.3h0m-7.7 3h0m5 4.1h0m-3.2-6h0m6.3-.7h0m-6.3 5.4h0m7.9-1.7h0m-3.4 1.2h0m2.6-3.6h0m-8.4 .6h0m3.7 1.8h0m3.7 3h0m-4.7-6.4h0m5.4-.5h0m-4.6 1.9h0m3.7 1.4h0m-1.6-2.1h0m-2.8 4.3h0m5.3-3.4h0m-.5 5.1h0m-5.8-2.6h0m5-.7h0m3.7-.8h0m-4.7-2.1h0m22.8-17h0m.9-8.8h0m-5.8-9.7h0m-1.2 6.8h0m-.1 2.7h0m3 3.9h0m4.2-6.6h0m-7.2-4.5h0m8.7 19.5h0m-3.8-17.3h0m3.2-2.6h0m-3.6-11.3h0m4.1 8.6h0m-1.9-2.1h0m.6 3.2h0m-.4-2.2h0m-3.8 28.5h0m-.3-23.5h0m-2.3 14.6h0m6.2-6.7h0m-4.1 .8h0m-2.5-1h0m.8-19h0m4.9 10.6h0m-3.4 14.1h0m5.4-5.4h0m-4.6-19.9h0m2.8 27.6h0m-4.5 4.5h0m-.2-26.9h0m-.6 31.8h0m5.5-30.1h0m-.3 12.5h0m-2.2-14.5h0m.9 23.4h0m2-27.6h0m-5.1 36.1h0m-1.3-36.7h0m4.4 15h0m-.8 3.8h0m4.4 17.9h0m-3.4-4.5h0m-3.5-5.8h0m5.9-11.2h0m-1 10h0m-.6-8.9h0m3.1-15.9h0m-.2-1.2h0m-.1-2.4h0m-.3 2.6h0m.2-5.3h0m-.9-1.4h0m-.6-4.9h0m-.6-1.4h0m1-1.9h0m1 5h0m14.8 12.3h0m-2.7 10.2h0m4.8 16.7h0m3.7 3.1h0m-17.2-13.7h0m13.7 16.5h0m-6.2-7.6h0m5.4 10.2h0m-9.8-6.4h0m3.2 2.1h0m-1.8 3.8h0m7.7-21.5h0m-13-9.2h0m15 5.1h0m-16-14.4h0m3.5 30.6h0m6.7-6.1h0m3.7-8.8h0m-2.9 14h0m-.9 5.2h0m6.5-13.4h0m-9.6 11.8h0m-.6-16.4h0m5.2 11.9h0m-2.7-17.6h0m2.8 0h0m-7.7-10.4h0m-1.1 25.7h0m11.3-2.6h0m-3.2-21.9h0m.6 15.8h0m-8.7-1.7h0m11.9 2.4h0m-6 5.4h0m.2-25.1h0m4.2 4h0m-10.1 33.9h0m5.1-3.1h0m-7.4-27.3h0m9.3-8.6h0m-1.6 34h0m2.2-21.5h0m-6.2 11.9h0m14.2 18.3h0m-14.2-36.5h0m7.7 2.5h0m-2.2 11.8h0m1.8 16.7h0m1.8-28.7h0m-5.3 28.7h0m6.2-28.9h0m-11.3 4.1h0m1.2 21.2h0m10.3-12.6h0m-11.3-2.7h0m-2.4 1.7h0m12.8-11.1h0m6.8 29.1h0m-11.2-36.3h0m5.8 34.6h0m-4-24.5h0m-4.9 17.7h0m-3.7-17.4h0m7.6 6.3h0m3.8 2.2h0m2.3-2.7h0m-13.1-.2h0m8.9 1.9h0m-.6 1.4h0m7.5 8.2h0m-8.9-22.5h0m-8.9-7.2h0m9 24.8h0m-8.4-7.2h0m12.4 8.4h0m2.3-15.1h0m-15.6 16.1h0m8.2 11.4h0m4.1-16.8h0m-9.6 5.5h0m5.9-23.2h0m6.7 19.5h0m-.3-15h0m-4.1 14.4h0m-8.1-18.9h0m9.5 43.4h0m-13.1-23.1h0m3.4 9.3h0m-1-12.8h0m10 20.5h0m-5.7-20.3h0m8.5-3.3h0m-12.6-10.3h0m15.4 36.6h0m.1-19.8h0m-.9-2h0m-6.8-23h0m-5.8 32.8h0m8.5 13.1h0m-2.4-32.2h0m3.6-.9h0m-3.1 13.8h0m3.9-14h0m2.9 11.1h0m-8.3-18h0m6.9 20.9h0m-1.2-8.8h0m-9.5 28h0m13-7.4h0m-6.3-1h0m-1.7 1.7h0m-.3-25.1h0m-1.5-1h0m1.3 21.1h0m5.9-6.9h0m-2.1 9h0m-11.3 5.1h0m12.1-17.5h0m-14.9-14.7h0m10.6 7h0m-7.7 5.7h0m-1.2-11.5h0m8.6 35.3h0m-5.6-20.7h0m0 20.3h0m-1.7-21.1h0m5.6 15.4h0m0-32.1h0m-7.7 16h0m5 13.5h0m-1-9.3h0m13 18.1h0m-2.6-14.4h0m-3.3-.1h0m4.8-.4h0m-4.6 6.2h0m-11.4-3.9h0m6.1 9.1h0m3.6-30.3h0m-3.3 19.2h0m-7.1-14.4h0m12.6-9.7h0m4.2 16h0m-12.6 22h0m2.3-24.7h0m3.3-13h0m-4.7 30.6h0m5.1-10.3h0m3.8 5.9h0m-6.8-.5h0m-3-28.9h0m-.5 19.1h0m-1.2-4.5h0m9.8 18.2h0m6.4-6.5h0m-16.3-9h0m9.1 10.5h0m-3.4-11.8h0m4.6 16.8h0m4.2 9.8h0m-6.2-34.3h0m-2.5-6.2h0m4.6 12h0m-6.2 28.4h0m3 .2h0m-5.6-17.4h0m13.6 14h0m-17.7-27.4h0m.7 14.5h0m4.6-29.3h0m-1.1 37h0m2.6-11.3h0m-1 14.8h0m8.5-27.9h0m0-6.7h0m-5.9 27.4h0m-1.8-24.3h0m-.3 33.2h0m-2.3-38.4h0m9.1 43.1h0m5.5-4h0m-2.9 .8h0m-4.9-39.7h0m-7.1-6.8h0m6.4 4.5h0m-9 35.7h0m15.3-11.4h0m-1-15.6h0m-3.8 31h0m-6.7 2.9h0m4.8-24.3h0m4.5 18.4h0m-6.1-5.8h0m-7.3-6.6h0m15.6-4.9h0m-10.8-22.1h0m.4 32.8h0m4.5-29.7h0m-8.9 2.5h0m2.7 24.1h0m6.7-28.7h0m1.1 35.4h0m1.1 11.3h0m.8-14.9h0m-8.4-10.4h0m-.2 .9h0m1.6-3.4h0m7.1-9.8h0m-13.7 19.4h0m7.5 12.9h0m-3.3-.5h0m-1.5-35.6h0m1.1 17.9h0m6.8 22.4h0m-5.9-42.2h0m13.3 28.1h0m-4.4 8.9h0m-9.9 2.5h0m7.6-22.2h0m.1 25.3h0m3-4.9h0m-4.1-10.5h0m1.3-19.3h0m-10.4 1h0m11.3 11.7h0m-9.8-10.4h0m10.3 20.6h0m-8.1 4.6h0m-1.4 2.9h0m2.4-.8h0m-1.4-31.2h0m-1.1-5.5h0m1 39.7h0m.2-22.3h0m3.8 12.9h0m1.5 10h0m-5-22h0m-.7-15h0m3.3 .2h0m6.1 32.3h0m-9.4-18.1h0m9.9-2.9h0m0-6.7h0m-2.8 14.2h0m-1.6-12.3h0m2.6 6.3h0m-12.2 4.8h0m8.9 15h0m-7.7 2.1h0m3.3-31.3h0m8.7 14.5h0m-8.4-2.6h0m7.1 7.8h0m-11.4-8.2h0m6.4 13.3h0m8-23.6h0m-9.9 30.8h0m6.7-23.2h0m5.5 15.8h0m-15.3-9.8h0m6.9-9.2h0m5.6 10.8h0m-4.5-.8h0m-.5 13.7h0m-1-18.6h0m10.9 11.4h0m-9.6-32.8h0m-8.1 9.1h0m10.1-8.7h0m-6.9 7.7h0m11.3 28.8h0m-6.2-.3h0m-6.3-25.7h0m.1-1.4h0m-.4 5.6h0m14.1 27h0m-1-2.1h0m-6.6-6.6h0m-1.6 11.5h0m5.7-37.6h0m-8.7 36.8h0m-2.1-3.3h0m10.8-9.9h0m-13.7-22.4h0m6.6 36.2h0m2.1 .6h0m6.5-10.1h0m-7.7-37.3h0m1 4h0m8.9 41.4h0m-10.4-34.5h0m3.4 34.6h0m-7.6-2.4h0m5.7-15.1h0m-8.1-24h0m12.7 19.1h0m-1.8 8h0m3.9-4.9h0m-16-12.2h0m11.5-7.1h0m-7.9 14.9h0m8.3 18.4h0m-5.9-26.8h0m-3.4 1.1h0m8.4 14.7h0m-5.1 8.8h0m-1.2-34.6h0m8.4 4.7h0m3.7 11.2h0m2.5 23h0m-10.1-34.2h0m3.3 16.2h0m-2.5 11.4h0m-2.9 8.1h0m10.2-16.9h0m-1.5-4.6h0m-11.4-5.8h0m4.5-15.4h0m6.1 14.6h0m-13.8-5.2h0m-.5 15.4h0m11.6 22.1h0m-6.6-22.8h0m-1.3 4.4h0m7.7-.2h0m-11.6-4.4h0m.5 12.6h0m17.8-6.4h0m-.3 15.9h0m-10.4-17.7h0m8.9-9.8h0m-2.4-8.8h0m-13.4 17.7h0m7.3-27.6h0m-7.7 37.7h0m3.6-6.6h0m1.5 10h0m9.9-32.9h0m-4.6-4h0m-7.5 34.1h0m10.3-12.7h0m-4-17.2h0m.6 19.4h0m-1-16.2h0m-4.2 18h0m2.6-7.4h0m7.5 6.6h0m-4.8-20h0m5.9 19.5h0m-2.1-2.3h0m.6 12.4h0m-1-29.4h0m-6.1 .5h0m-5 14.2h0m15 3.2h0m-7.1 5.6h0m-1.9-32.6h0m-5.2 33.5h0m7.7-2h0m1.7-17.6h0m1.8 18.6h0m-9-.8h0m1.2-15.3h0m5.3 13.5h0m-9.2-12.8h0m2.6-10h0m-1.6 12.7h0m-.2 8.4h0m5.2-15.4h0m-5.7-3.5h0m8-2h0m3.7 20.7h0m-2.6 4.2h0m-2.3-11.5h0m-.7-12.9h0m3.6 19.4h0m-4.1-23h0m.7 27.6h0m-3-3h0m3.2-1h0m1.6 1.1h0m-5.4-19.1h0m1.7 7.7h0m1.2 2.4h0m-2.1 17.5h0m1.2-3.8h0m-3.7-6.1h0m7.8-13.7h0m-1.2-2h0m-1.2-6.8h0m2.6 21.2h0m-8.9-16.3h0m9.7 17.6h0m-1.8-15.4h0m-1 13.6h0m3.1 2.6h0m-2.1-9.1h0m.1-9.5h0m-5.5 16.5h0m7.7-1.4h0m-10.6-12h0m4.8 24.5h0m2.4-16.5h0m-1 15.6h0m-4.6-24.8h0m-.1 1.3h0m2.8 7.3h0m-3.2-10.2h0m4 2.2h0m-1.2 23.5h0m4.4-.9h0m-5.8-25.3h0m.1 10.5h0m6.5 .5h0m2.1 12.6h0m-2-20.2h0m-3.1-.9h0m2.2 7.9h0m-1.7 6.7h0m-.9-6.5h0m-4.3-7.8h0m2 1.4h0m6.4 16.2h0m-7.6 3.5h0m2.4-19.5h0m-2.4 16.6h0m2.1-18.2h0m.9 22h0m-.6-15.4h0m.1-14h0m5.1 15.8h0m-2.4 7.7h0m-7-2.2h0m22.4-58.2h0m.2-8.4h0m-3.2-2.6h0m.7-8.2h0m.7 17.3h0m1.1 2h0m1.6-2.6h0m-.6-11.8h0m-4.5 9.2h0m3.8-5.3h0m-3.3-5.1h0m4.4 9.4h0m-4.1 6.9h0m2.3-2.8h0m-2.4-6.2h0m1.9 9.7h0m-1.7-17h0m.7-4h0m.9 5.1h0m-1.3 5.6h0m1.8 1.3h0m-1.6-12.9h0m.2 23.3h0m.8-5.5h0m2.3-3.6h0m-2.6-.1h0m1.6-10.4h0m1 2.5h0m-4.2 10h0m1.5-13.9h0m.9 5.9h0m-2.6 4.7h0m.2 7.2h0m3.3-7.5h0m-3.7 10.9h0m2.1 .3h0m-1.4-2.3h0m1.8-9.7h0m2 8.2h0m-3-12.4h0m1.8-5.6h0m-1.8 12.5h0m.4-8.9h0m-.3 .6h0m0 8.3h0m-.7 1.6h0m3.1-10.6h0m-2.1-2.3h0m.2 1.4h0m1.4 8.9h0m-.1-5.3h0m-1.5 1.5h0m1.8-.1h0m.9 9.9h0m-2.1-10.2h0m1.5 13.3h0m-3.9 .2h0m4.8-1h0m-3.9-1.7h0m1.4-19.6h0m-.3-1.6h0m-.8-8.6h0m-.2-2h0m.9 5.1h0m-.1-4.1h0m-.7 1.7h0m2.5-1.9h0m-2.8 .9h0m.6-.6h0m1.1 8.5h0m-1.1-5.6h0m-.1 69.6h0m2.9 33.6h0m-3.8-18.3h0m-.5 16.2h0m-.4-15.1h0m4.5-12.6h0m-.3-21.9h0m.7 34.7h0m-3.4 12.5h0m3.6-59.3h0m-.5 33.4h0m-4.8 2.8h0m3.8 23h0m-.9-56.7h0m2.3 30.1h0m-4 8.9h0m1.6 16.4h0m-1.5-34h0m3-26.8h0m-3.8 50h0m4-34.6h0m-3.4 3.2h0m-1.1 39.5h0m4-45.8h0m-2.7 29.9h0m4.5 3.4h0m-3.7 11.1h0m1.4 3.7h0m-3.7 4.7h0m3.3-27.8h0m.3-29.6h0m1.4-10.3h0m-4.2 12.8h0m3.2 4.1h0m1.4 34.3h0m-5.2 19.5h0m1-45.2h0m4.3 33.3h0m-2.6 12.5h0m3.2-18.6h0m-3.1-9.7h0m1.7 18.8h0m-3.9-16.2h0m5.6-15.9h0m-5.8 .1h0m4.7-30.8h0m-1.6 39.2h0m-3 .5h0m4.6 17.7h0m-4.4-52.8h0m2.8 37.4h0m1.2-26.3h0m-2.9 45.3h0m.2-27.3h0m1.3 16.4h0m-3.3-29.5h0m5.1 9.4h0m-4.3 9.7h0m.3 23.1h0m.9-39h0m-.9 35.4h0m1.2 7.1h0m.9-51.9h0m-2.7 22.2h0m3.8-8.3h0m-3.8 29.2h0m.2-35.4h0m.5 17h0m-.6 24.1h0m-.2-16.7h0m4.7-35.8h0m-1 2.8h0m-2.7 11.1h0m-1.2 11.9h0m2.1-9.6h0m-.1-23.8h0m-2.3 1.2h0m4.1 37.3h0m-.2-30.7h0m-3 18.1h0m3 13h0m-1.7-42.1h0m-1.7 53.9h0m1.8-7.2h0m3.5-41.3h0m-2.4 20.2h0m.4 26.1h0m-1.8 14.4h0m3.4 .8h0m.4-46.3h0m-3.7-6.4h0m1.6 48.5h0m2.1-55.2h0m-.5-7.5h0m-.5 65.8h0m-.4-42.9h0m.9 46.3h0m-.9-19.4h0m-.4-.6h0m8-16.2h0m3.7 12.6h0m-4.6-18.4h0m-5.4-13.4h0m5.8 21.9h0m-.2-4.9h0m1.7 14.3h0m4.1 1.2h0m-9.6-26.4h0m6.3 25.2h0m-1.1-.4h0m-1.4-14.1h0m4.5 16.1h0m-2.6-11.5h0m-4.2-11.2h0m2.5 9.7h0m-2.4-6.7h0m5.7 16.1h0m-4.6-20.2h0m-2.9-5.2h0m.6 10.5h0m5.3 16.9h0m-4.5-25h0m6.7 28.4h0m-4.1-20.3h0m0 6.1h0m-2.1 14.7h0m1.2 19h0m1.4-32h0m-4.2 16.8h0m7.9 4.2h0m-2.1 5.7h0m-5.5-19h0m4 7.1h0m-1.3 5.7h0m-3.1-41.9h0m4.3 51.6h0m.3-26.1h0m-4.8 30.6h0m2.7-21.5h0m.4-39.5h0m-2.3 43.1h0m2.3-10.1h0m-3.8-18.9h0m3.2 33.3h0m-4.1-29.2h0m3.3-1.1h0m-2.1-12.8h0m5.3 15.2h0m.5 22h0m-1.4-24.4h0m-4.7-4h0m4.6 35.6h0m4.3-4.5h0m-1.5-5.2h0m-7.1 13.1h0m.3 3.5h0m-.4-43.7h0m2.9 28.1h0m-1.7-44.1h0m7.4 34.9h0m-6.7-7.5h0m6.1 23.8h0m-7.6 13.7h0m2.6-13.6h0m3.1-14.5h0m-6.5 11.9h0m7.6-2.3h0m-.1-.3h0m-4.2-8.6h0m4 7.4h0m-3.7-6.1h0m.4 25.5h0m6.7-4h0m2.2 1.9h0m-.5-12h0m-2-6h0m7.8 15.7h0m-4.1-3.9h0m7.1-2.4h0m-6.6 10.3h0m3.6-12.6h0m1.2 7.9h0m-6-11.4h0m1 13.8h0m-2.9-18.5h0m2.4 1h0m-.6 4.5h0m9.5 16.4h0m-1.6-1.4h0m-4.7-13.8h0m5.8 15.1h0m-9.3-2.5h0m6.7 .1h0m1.6 .9h0m-11.1-5.3h0m-.1 6.1h0m4.5-19.8h0m1.2 12.5h0m-3.5-2h0m7.4-1.9h0m-5.9 8.3h0m5.1-11.7h0m-4.4 6.8h0m6.3-1.1h0m-2.3-5.6h0m-1.4 20.5h0m.5-13.3h0m-5.5-9.9h0m3.8 15.6h0m-3.2 5.8h0m-.1-14.8h0m-1-4.9h0m2.7 20h0m2.6-18.5h0m.3 11h0m-6.5 4.6h0m11.8 1.4h0m-11 .5h0m11.2-11.6h0m-7 13.4h0m12.5 2.7h0m11.1 4.2h0m-9.5-3.9h0m-1.4-2.8h0m4.2 0h0m2.4 3.1h0m-.1-1.7h0m-2.8 1.4h0m-6.6-.4h0m1.9-.1h0m10.5 2.6h0m-14.4-5.6h0m13.7 3.4h0m-5.9 .7h0m1.3-.8h0m-9.1-1.4h0m3.1-1.2h0m-1-.7h0m3.9 6.7h0m-5.1-.9h0m2.9-1.4h0m5.7 .6h0m-5.1-2.6h0m3.9 1.3h0m-.9-1h0m-3.6 3.8h0m10.8 .4h0m-.6-3h0m-11.6 1h0m10.5-1.1h0m-5.4 0h0m4.1 1.6h0m-8.2-4.5h0m9.3 2.7h0m-1 1.2h0m3.3-1h0m-1 2.9h0m-4.5-.4h0m3.7-3.9h0m-11 2.8h0m-.3-3h0m7.8 1.3h0m3.6 2.1h0m-6-4.8h0m-2.5 4.9h0m3.8-.2h0m-6 1h0m5.1-2.3h0m1.5 .3h0m2.6-1.8h0m-4.1-2.2h0m-4.4 5.3h0m12.5-.4h0m-5.4-2.9h0m-5.6 2.7h0m-4.7-5h0m4.3 2.6h0m-3.3 3.2h0m9-2h0" stroke="#fb80fb" stroke-width="2.1" stroke-linecap="round" fill="none"/>
<line x1="500.10" y1="499.40" x2="500.10" y2="645.30" stroke="#222" stroke-width="1.3" stroke-dasharray="4.5,3.2"/>
<path d="M463.70,652.20 L469.70,652.20 L466.70,646.50 Z" fill="#111"/>
<polyline points="400.50,631.70 423.90,627.80 436.50,631.70 450.30,624.60 458.30,625.90 467.40,626.80 482.60,571.60 488.10,591.90 498.10,572.00 512.80,542.60 519.00,606.10 531.20,605.50 538.00,631.60 554.80,627.20 563.20,626.80 567.40,633.50" fill="none" stroke="#ff0000" stroke-width="2.2" stroke-linejoin="round" stroke-linecap="round" />
<circle cx="400.50" cy="631.70" r="2.55" fill="#000"/>
<circle cx="423.90" cy="626.20" r="2.55" fill="#000"/>
<circle cx="423.90" cy="629.40" r="2.55" fill="#000"/>
<circle cx="436.50" cy="631.70" r="2.55" fill="#000"/>
<circle cx="450.30" cy="624.60" r="2.55" fill="#000"/>
<circle cx="458.30" cy="625.90" r="2.55" fill="#000"/>
<circle cx="467.40" cy="626.80" r="2.55" fill="#000"/>
<circle cx="482.60" cy="569.10" r="2.55" fill="#000"/>
<circle cx="489.40" cy="561.90" r="2.55" fill="#000"/>
<circle cx="487.70" cy="623.50" r="2.55" fill="#000"/>
<circle cx="498.10" cy="572.00" r="2.55" fill="#000"/>
<circle cx="505.10" cy="536.40" r="2.55" fill="#000"/>
<circle cx="511.30" cy="516.80" r="2.55" fill="#000"/>
<circle cx="511.30" cy="567.30" r="2.55" fill="#000"/>
<circle cx="506.80" cy="580.30" r="2.55" fill="#000"/>
<circle cx="519.00" cy="606.10" r="2.55" fill="#000"/>
<circle cx="531.20" cy="605.50" r="2.55" fill="#000"/>
<circle cx="538.00" cy="631.60" r="2.55" fill="#000"/>
<circle cx="554.80" cy="627.20" r="2.55" fill="#000"/>
<circle cx="563.20" cy="626.40" r="2.55" fill="#000"/>
<circle cx="564.50" cy="633.20" r="2.55" fill="#000"/>
<line x1="42.90" y1="54.10" x2="42.90" y2="199.40" stroke="#333" stroke-width="1.3" />
<line x1="298.10" y1="54.10" x2="298.10" y2="199.40" stroke="#333" stroke-width="1.3" />
<line x1="42.30" y1="198.80" x2="298.70" y2="198.80" stroke="#333" stroke-width="1.3" />
<line x1="39.70" y1="198.80" x2="42.90" y2="198.80" stroke="#333" stroke-width="1.3" />
<text x="33.90" y="203.10" font-size="12" text-anchor="end" fill="#1e1e1e" >0</text>
<line x1="39.70" y1="169.86" x2="42.90" y2="169.86" stroke="#333" stroke-width="1.3" />
<text x="33.90" y="174.16" font-size="12" text-anchor="end" fill="#1e1e1e" >2</text>
<line x1="39.70" y1="140.92" x2="42.90" y2="140.92" stroke="#333" stroke-width="1.3" />
<text x="33.90" y="145.22" font-size="12" text-anchor="end" fill="#1e1e1e" >4</text>
<line x1="39.70" y1="111.98" x2="42.90" y2="111.98" stroke="#333" stroke-width="1.3" />
<text x="33.90" y="116.28" font-size="12" text-anchor="end" fill="#1e1e1e" >6</text>
<line x1="39.70" y1="83.04" x2="42.90" y2="83.04" stroke="#333" stroke-width="1.3" />
<text x="33.90" y="87.34" font-size="12" text-anchor="end" fill="#1e1e1e" >8</text>
<line x1="39.70" y1="54.10" x2="42.90" y2="54.10" stroke="#333" stroke-width="1.3" />
<text x="33.90" y="58.40" font-size="12" text-anchor="end" fill="#1e1e1e" >10</text>
<line x1="298.10" y1="198.80" x2="301.30" y2="198.80" stroke="#333" stroke-width="1.3" />
<text x="306.30" y="203.10" font-size="12" text-anchor="start" fill="#1e1e1e" >0</text>
<line x1="298.10" y1="150.57" x2="301.30" y2="150.57" stroke="#333" stroke-width="1.3" />
<text x="306.30" y="154.87" font-size="12" text-anchor="start" fill="#1e1e1e" >1</text>
<line x1="298.10" y1="102.33" x2="301.30" y2="102.33" stroke="#333" stroke-width="1.3" />
<text x="306.30" y="106.63" font-size="12" text-anchor="start" fill="#1e1e1e" >2</text>
<line x1="298.10" y1="54.10" x2="301.30" y2="54.10" stroke="#333" stroke-width="1.3" />
<text x="306.30" y="58.40" font-size="12" text-anchor="start" fill="#1e1e1e" >3</text>
<line x1="42.90" y1="198.80" x2="42.90" y2="202.00" stroke="#333" stroke-width="1.3" />
<text x="42.90" y="216.80" font-size="12" text-anchor="middle" fill="#1e1e1e" >28</text>
<line x1="106.70" y1="198.80" x2="106.70" y2="202.00" stroke="#333" stroke-width="1.3" />
<text x="106.70" y="216.80" font-size="12" text-anchor="middle" fill="#1e1e1e" >23</text>
<line x1="170.50" y1="198.80" x2="170.50" y2="202.00" stroke="#333" stroke-width="1.3" />
<text x="170.50" y="216.80" font-size="12" text-anchor="middle" fill="#1e1e1e" >18</text>
<line x1="234.30" y1="198.80" x2="234.30" y2="202.00" stroke="#333" stroke-width="1.3" />
<text x="234.30" y="216.80" font-size="12" text-anchor="middle" fill="#1e1e1e" >13</text>
<line x1="298.10" y1="198.80" x2="298.10" y2="202.00" stroke="#333" stroke-width="1.3" />
<text x="298.10" y="216.80" font-size="12" text-anchor="middle" fill="#1e1e1e" >8</text>
<text x="170.40" y="234.60" font-size="12.4" text-anchor="middle" fill="#1e1e1e" >Temperature (°C)</text>
<text transform="translate(10.3,128.50) rotate(-90)" font-size="12.45" text-anchor="middle" fill="#1e1e1e">Infected picocyanobacteria (%)</text>
<line x1="356.30" y1="54.30" x2="356.30" y2="199.90" stroke="#333" stroke-width="1.3" />
<line x1="600.50" y1="54.30" x2="600.50" y2="199.90" stroke="#333" stroke-width="1.3" />
<line x1="355.70" y1="199.30" x2="601.10" y2="199.30" stroke="#333" stroke-width="1.3" />
<line x1="353.10" y1="199.30" x2="356.30" y2="199.30" stroke="#333" stroke-width="1.3" />
<text x="348.50" y="203.60" font-size="12" text-anchor="end" fill="#1e1e1e" >0</text>
<line x1="353.10" y1="170.30" x2="356.30" y2="170.30" stroke="#333" stroke-width="1.3" />
<text x="348.50" y="174.60" font-size="12" text-anchor="end" fill="#1e1e1e" >2</text>
<line x1="353.10" y1="141.30" x2="356.30" y2="141.30" stroke="#333" stroke-width="1.3" />
<text x="348.50" y="145.60" font-size="12" text-anchor="end" fill="#1e1e1e" >4</text>
<line x1="353.10" y1="112.30" x2="356.30" y2="112.30" stroke="#333" stroke-width="1.3" />
<text x="348.50" y="116.60" font-size="12" text-anchor="end" fill="#1e1e1e" >6</text>
<line x1="353.10" y1="83.30" x2="356.30" y2="83.30" stroke="#333" stroke-width="1.3" />
<text x="348.50" y="87.60" font-size="12" text-anchor="end" fill="#1e1e1e" >8</text>
<line x1="353.10" y1="54.30" x2="356.30" y2="54.30" stroke="#333" stroke-width="1.3" />
<text x="348.50" y="58.60" font-size="12" text-anchor="end" fill="#1e1e1e" >10</text>
<line x1="600.50" y1="199.30" x2="603.70" y2="199.30" stroke="#333" stroke-width="1.3" />
<text x="608.70" y="203.60" font-size="12" text-anchor="start" fill="#1e1e1e" >0</text>
<line x1="600.50" y1="163.05" x2="603.70" y2="163.05" stroke="#333" stroke-width="1.3" />
<text x="608.70" y="167.35" font-size="12" text-anchor="start" fill="#1e1e1e" >0.4</text>
<line x1="600.50" y1="126.80" x2="603.70" y2="126.80" stroke="#333" stroke-width="1.3" />
<text x="608.70" y="131.10" font-size="12" text-anchor="start" fill="#1e1e1e" >0.8</text>
<line x1="600.50" y1="90.55" x2="603.70" y2="90.55" stroke="#333" stroke-width="1.3" />
<text x="608.70" y="94.85" font-size="12" text-anchor="start" fill="#1e1e1e" >1.2</text>
<line x1="600.50" y1="54.30" x2="603.70" y2="54.30" stroke="#333" stroke-width="1.3" />
<text x="608.70" y="58.60" font-size="12" text-anchor="start" fill="#1e1e1e" >1.6</text>
<line x1="356.30" y1="199.30" x2="356.30" y2="202.50" stroke="#333" stroke-width="1.3" />
<text x="356.30" y="216.90" font-size="12" text-anchor="middle" fill="#1e1e1e" >28</text>
<line x1="417.35" y1="199.30" x2="417.35" y2="202.50" stroke="#333" stroke-width="1.3" />
<text x="417.35" y="216.90" font-size="12" text-anchor="middle" fill="#1e1e1e" >23</text>
<line x1="478.40" y1="199.30" x2="478.40" y2="202.50" stroke="#333" stroke-width="1.3" />
<text x="478.40" y="216.90" font-size="12" text-anchor="middle" fill="#1e1e1e" >18</text>
<line x1="539.45" y1="199.30" x2="539.45" y2="202.50" stroke="#333" stroke-width="1.3" />
<text x="539.45" y="216.90" font-size="12" text-anchor="middle" fill="#1e1e1e" >13</text>
<line x1="600.50" y1="199.30" x2="600.50" y2="202.50" stroke="#333" stroke-width="1.3" />
<text x="600.50" y="216.90" font-size="12" text-anchor="middle" fill="#1e1e1e" >8</text>
<text x="479.40" y="234.60" font-size="12.4" text-anchor="middle" fill="#1e1e1e" >Temperature (°C)</text>
<text transform="translate(653.6,126.90) rotate(90)" font-size="12.5" text-anchor="middle" fill="#1e1e1e">Picocyanobacteria abundance</text>
<text transform="translate(639.2,126.60) rotate(90)" font-size="12.4" text-anchor="middle" fill="#1e1e1e">(×10<tspan font-size="8" dy="-4.5">5</tspan><tspan dy="4.5"> cells ml</tspan><tspan font-size="8" dy="-4.5">−1</tspan><tspan dy="4.5">)</tspan></text>
<line x1="42.00" y1="274.60" x2="42.00" y2="421.00" stroke="#333" stroke-width="1.3" />
<line x1="298.00" y1="274.60" x2="298.00" y2="421.00" stroke="#333" stroke-width="1.3" />
<line x1="41.40" y1="420.40" x2="298.60" y2="420.40" stroke="#333" stroke-width="1.3" />
<line x1="38.80" y1="420.40" x2="42.00" y2="420.40" stroke="#333" stroke-width="1.3" />
<text x="34.10" y="424.70" font-size="12" text-anchor="end" fill="#1e1e1e" >0</text>
<line x1="38.80" y1="391.24" x2="42.00" y2="391.24" stroke="#333" stroke-width="1.3" />
<text x="34.10" y="395.54" font-size="12" text-anchor="end" fill="#1e1e1e" >2</text>
<line x1="38.80" y1="362.08" x2="42.00" y2="362.08" stroke="#333" stroke-width="1.3" />
<text x="34.10" y="366.38" font-size="12" text-anchor="end" fill="#1e1e1e" >4</text>
<line x1="38.80" y1="332.92" x2="42.00" y2="332.92" stroke="#333" stroke-width="1.3" />
<text x="34.10" y="337.22" font-size="12" text-anchor="end" fill="#1e1e1e" >6</text>
<line x1="38.80" y1="303.76" x2="42.00" y2="303.76" stroke="#333" stroke-width="1.3" />
<text x="34.10" y="308.06" font-size="12" text-anchor="end" fill="#1e1e1e" >8</text>
<line x1="38.80" y1="274.60" x2="42.00" y2="274.60" stroke="#333" stroke-width="1.3" />
<text x="34.10" y="278.90" font-size="12" text-anchor="end" fill="#1e1e1e" >10</text>
<line x1="298.00" y1="420.40" x2="301.20" y2="420.40" stroke="#333" stroke-width="1.3" />
<text x="306.20" y="424.70" font-size="12" text-anchor="start" fill="#1e1e1e" >0</text>
<line x1="298.00" y1="371.80" x2="301.20" y2="371.80" stroke="#333" stroke-width="1.3" />
<text x="306.20" y="376.10" font-size="12" text-anchor="start" fill="#1e1e1e" >1</text>
<line x1="298.00" y1="323.20" x2="301.20" y2="323.20" stroke="#333" stroke-width="1.3" />
<text x="306.20" y="327.50" font-size="12" text-anchor="start" fill="#1e1e1e" >2</text>
<line x1="298.00" y1="274.60" x2="301.20" y2="274.60" stroke="#333" stroke-width="1.3" />
<text x="306.20" y="278.90" font-size="12" text-anchor="start" fill="#1e1e1e" >3</text>
<line x1="42.00" y1="420.40" x2="42.00" y2="423.60" stroke="#333" stroke-width="1.3" />
<text x="43.10" y="439.20" font-size="12" text-anchor="middle" fill="#1e1e1e" >28</text>
<line x1="106.00" y1="420.40" x2="106.00" y2="423.60" stroke="#333" stroke-width="1.3" />
<text x="107.10" y="439.20" font-size="12" text-anchor="middle" fill="#1e1e1e" >23</text>
<line x1="170.00" y1="420.40" x2="170.00" y2="423.60" stroke="#333" stroke-width="1.3" />
<text x="171.10" y="439.20" font-size="12" text-anchor="middle" fill="#1e1e1e" >18</text>
<line x1="234.00" y1="420.40" x2="234.00" y2="423.60" stroke="#333" stroke-width="1.3" />
<text x="235.10" y="439.20" font-size="12" text-anchor="middle" fill="#1e1e1e" >13</text>
<line x1="298.00" y1="420.40" x2="298.00" y2="423.60" stroke="#333" stroke-width="1.3" />
<text x="299.10" y="439.20" font-size="12" text-anchor="middle" fill="#1e1e1e" >8</text>
<text x="170.40" y="459.30" font-size="12.4" text-anchor="middle" fill="#1e1e1e" >Temperature (°C)</text>
<text transform="translate(10.3,348.70) rotate(-90)" font-size="12.45" text-anchor="middle" fill="#1e1e1e">Infected picocyanobacteria (%)</text>
<line x1="357.20" y1="274.80" x2="357.20" y2="420.10" stroke="#333" stroke-width="1.3" />
<line x1="601.40" y1="274.80" x2="601.40" y2="420.10" stroke="#333" stroke-width="1.3" />
<line x1="356.60" y1="419.50" x2="602.00" y2="419.50" stroke="#333" stroke-width="1.3" />
<line x1="354.00" y1="419.50" x2="357.20" y2="419.50" stroke="#333" stroke-width="1.3" />
<text x="348.60" y="423.80" font-size="12" text-anchor="end" fill="#1e1e1e" >0</text>
<line x1="354.00" y1="390.56" x2="357.20" y2="390.56" stroke="#333" stroke-width="1.3" />
<text x="348.60" y="394.86" font-size="12" text-anchor="end" fill="#1e1e1e" >2</text>
<line x1="354.00" y1="361.62" x2="357.20" y2="361.62" stroke="#333" stroke-width="1.3" />
<text x="348.60" y="365.92" font-size="12" text-anchor="end" fill="#1e1e1e" >4</text>
<line x1="354.00" y1="332.68" x2="357.20" y2="332.68" stroke="#333" stroke-width="1.3" />
<text x="348.60" y="336.98" font-size="12" text-anchor="end" fill="#1e1e1e" >6</text>
<line x1="354.00" y1="303.74" x2="357.20" y2="303.74" stroke="#333" stroke-width="1.3" />
<text x="348.60" y="308.04" font-size="12" text-anchor="end" fill="#1e1e1e" >8</text>
<line x1="354.00" y1="274.80" x2="357.20" y2="274.80" stroke="#333" stroke-width="1.3" />
<text x="348.60" y="279.10" font-size="12" text-anchor="end" fill="#1e1e1e" >10</text>
<line x1="601.40" y1="419.50" x2="604.60" y2="419.50" stroke="#333" stroke-width="1.3" />
<text x="609.60" y="423.80" font-size="12" text-anchor="start" fill="#1e1e1e" >0</text>
<line x1="601.40" y1="383.32" x2="604.60" y2="383.32" stroke="#333" stroke-width="1.3" />
<text x="609.60" y="387.62" font-size="12" text-anchor="start" fill="#1e1e1e" >0.4</text>
<line x1="601.40" y1="347.15" x2="604.60" y2="347.15" stroke="#333" stroke-width="1.3" />
<text x="609.60" y="351.45" font-size="12" text-anchor="start" fill="#1e1e1e" >0.8</text>
<line x1="601.40" y1="310.98" x2="604.60" y2="310.98" stroke="#333" stroke-width="1.3" />
<text x="609.60" y="315.28" font-size="12" text-anchor="start" fill="#1e1e1e" >1.2</text>
<line x1="601.40" y1="274.80" x2="604.60" y2="274.80" stroke="#333" stroke-width="1.3" />
<text x="609.60" y="279.10" font-size="12" text-anchor="start" fill="#1e1e1e" >1.6</text>
<line x1="357.20" y1="419.50" x2="357.20" y2="422.70" stroke="#333" stroke-width="1.3" />
<text x="357.20" y="438.30" font-size="12" text-anchor="middle" fill="#1e1e1e" >28</text>
<line x1="418.25" y1="419.50" x2="418.25" y2="422.70" stroke="#333" stroke-width="1.3" />
<text x="418.25" y="438.30" font-size="12" text-anchor="middle" fill="#1e1e1e" >23</text>
<line x1="479.30" y1="419.50" x2="479.30" y2="422.70" stroke="#333" stroke-width="1.3" />
<text x="479.30" y="438.30" font-size="12" text-anchor="middle" fill="#1e1e1e" >18</text>
<line x1="540.35" y1="419.50" x2="540.35" y2="422.70" stroke="#333" stroke-width="1.3" />
<text x="540.35" y="438.30" font-size="12" text-anchor="middle" fill="#1e1e1e" >13</text>
<line x1="601.40" y1="419.50" x2="601.40" y2="422.70" stroke="#333" stroke-width="1.3" />
<text x="601.40" y="438.30" font-size="12" text-anchor="middle" fill="#1e1e1e" >8</text>
<text x="479.40" y="458.90" font-size="12.4" text-anchor="middle" fill="#1e1e1e" >Temperature (°C)</text>
<text transform="translate(653.6,347.60) rotate(90)" font-size="12.5" text-anchor="middle" fill="#1e1e1e">Picocyanobacteria abundance</text>
<text transform="translate(639.2,347.30) rotate(90)" font-size="12.4" text-anchor="middle" fill="#1e1e1e">(×10<tspan font-size="8" dy="-4.5">5</tspan><tspan dy="4.5"> cells ml</tspan><tspan font-size="8" dy="-4.5">−1</tspan><tspan dy="4.5">)</tspan></text>
<line x1="43.40" y1="500.60" x2="43.40" y2="645.90" stroke="#333" stroke-width="1.3" />
<line x1="298.00" y1="500.60" x2="298.00" y2="645.90" stroke="#333" stroke-width="1.3" />
<line x1="42.80" y1="645.30" x2="298.60" y2="645.30" stroke="#333" stroke-width="1.3" />
<line x1="40.20" y1="645.30" x2="43.40" y2="645.30" stroke="#333" stroke-width="1.3" />
<text x="34.40" y="649.60" font-size="12" text-anchor="end" fill="#1e1e1e" >0</text>
<line x1="40.20" y1="616.36" x2="43.40" y2="616.36" stroke="#333" stroke-width="1.3" />
<text x="34.40" y="620.66" font-size="12" text-anchor="end" fill="#1e1e1e" >2</text>
<line x1="40.20" y1="587.42" x2="43.40" y2="587.42" stroke="#333" stroke-width="1.3" />
<text x="34.40" y="591.72" font-size="12" text-anchor="end" fill="#1e1e1e" >4</text>
<line x1="40.20" y1="558.48" x2="43.40" y2="558.48" stroke="#333" stroke-width="1.3" />
<text x="34.40" y="562.78" font-size="12" text-anchor="end" fill="#1e1e1e" >6</text>
<line x1="40.20" y1="529.54" x2="43.40" y2="529.54" stroke="#333" stroke-width="1.3" />
<text x="34.40" y="533.84" font-size="12" text-anchor="end" fill="#1e1e1e" >8</text>
<line x1="40.20" y1="500.60" x2="43.40" y2="500.60" stroke="#333" stroke-width="1.3" />
<text x="34.40" y="504.90" font-size="12" text-anchor="end" fill="#1e1e1e" >10</text>
<line x1="298.00" y1="645.30" x2="301.20" y2="645.30" stroke="#333" stroke-width="1.3" />
<text x="306.20" y="649.60" font-size="12" text-anchor="start" fill="#1e1e1e" >0</text>
<line x1="298.00" y1="597.07" x2="301.20" y2="597.07" stroke="#333" stroke-width="1.3" />
<text x="306.20" y="601.37" font-size="12" text-anchor="start" fill="#1e1e1e" >1</text>
<line x1="298.00" y1="548.83" x2="301.20" y2="548.83" stroke="#333" stroke-width="1.3" />
<text x="306.20" y="553.13" font-size="12" text-anchor="start" fill="#1e1e1e" >2</text>
<line x1="298.00" y1="500.60" x2="301.20" y2="500.60" stroke="#333" stroke-width="1.3" />
<text x="306.20" y="504.90" font-size="12" text-anchor="start" fill="#1e1e1e" >3</text>
<line x1="43.40" y1="645.30" x2="43.40" y2="648.50" stroke="#333" stroke-width="1.3" />
<text x="43.40" y="663.30" font-size="12" text-anchor="middle" fill="#1e1e1e" >28</text>
<line x1="107.05" y1="645.30" x2="107.05" y2="648.50" stroke="#333" stroke-width="1.3" />
<text x="107.05" y="663.30" font-size="12" text-anchor="middle" fill="#1e1e1e" >23</text>
<line x1="170.70" y1="645.30" x2="170.70" y2="648.50" stroke="#333" stroke-width="1.3" />
<text x="170.70" y="663.30" font-size="12" text-anchor="middle" fill="#1e1e1e" >18</text>
<line x1="234.35" y1="645.30" x2="234.35" y2="648.50" stroke="#333" stroke-width="1.3" />
<text x="234.35" y="663.30" font-size="12" text-anchor="middle" fill="#1e1e1e" >13</text>
<line x1="298.00" y1="645.30" x2="298.00" y2="648.50" stroke="#333" stroke-width="1.3" />
<text x="298.00" y="663.30" font-size="12" text-anchor="middle" fill="#1e1e1e" >8</text>
<text x="170.40" y="680.80" font-size="12.4" text-anchor="middle" fill="#1e1e1e" >Temperature (°C)</text>
<text transform="translate(10.3,574.90) rotate(-90)" font-size="12.45" text-anchor="middle" fill="#1e1e1e">Infected picocyanobacteria (%)</text>
<line x1="357.50" y1="500.30" x2="357.50" y2="645.90" stroke="#333" stroke-width="1.3" />
<line x1="600.60" y1="500.30" x2="600.60" y2="645.90" stroke="#333" stroke-width="1.3" />
<line x1="356.90" y1="645.30" x2="601.20" y2="645.30" stroke="#333" stroke-width="1.3" />
<line x1="354.30" y1="645.30" x2="357.50" y2="645.30" stroke="#333" stroke-width="1.3" />
<text x="349.70" y="649.60" font-size="12" text-anchor="end" fill="#1e1e1e" >0</text>
<line x1="354.30" y1="616.30" x2="357.50" y2="616.30" stroke="#333" stroke-width="1.3" />
<text x="349.70" y="620.60" font-size="12" text-anchor="end" fill="#1e1e1e" >2</text>
<line x1="354.30" y1="587.30" x2="357.50" y2="587.30" stroke="#333" stroke-width="1.3" />
<text x="349.70" y="591.60" font-size="12" text-anchor="end" fill="#1e1e1e" >4</text>
<line x1="354.30" y1="558.30" x2="357.50" y2="558.30" stroke="#333" stroke-width="1.3" />
<text x="349.70" y="562.60" font-size="12" text-anchor="end" fill="#1e1e1e" >6</text>
<line x1="354.30" y1="529.30" x2="357.50" y2="529.30" stroke="#333" stroke-width="1.3" />
<text x="349.70" y="533.60" font-size="12" text-anchor="end" fill="#1e1e1e" >8</text>
<line x1="354.30" y1="500.30" x2="357.50" y2="500.30" stroke="#333" stroke-width="1.3" />
<text x="349.70" y="504.60" font-size="12" text-anchor="end" fill="#1e1e1e" >10</text>
<line x1="600.60" y1="645.30" x2="603.80" y2="645.30" stroke="#333" stroke-width="1.3" />
<text x="608.80" y="649.60" font-size="12" text-anchor="start" fill="#1e1e1e" >0</text>
<line x1="600.60" y1="609.05" x2="603.80" y2="609.05" stroke="#333" stroke-width="1.3" />
<text x="608.80" y="613.35" font-size="12" text-anchor="start" fill="#1e1e1e" >0.4</text>
<line x1="600.60" y1="572.80" x2="603.80" y2="572.80" stroke="#333" stroke-width="1.3" />
<text x="608.80" y="577.10" font-size="12" text-anchor="start" fill="#1e1e1e" >0.8</text>
<line x1="600.60" y1="536.55" x2="603.80" y2="536.55" stroke="#333" stroke-width="1.3" />
<text x="608.80" y="540.85" font-size="12" text-anchor="start" fill="#1e1e1e" >1.2</text>
<line x1="600.60" y1="500.30" x2="603.80" y2="500.30" stroke="#333" stroke-width="1.3" />
<text x="608.80" y="504.60" font-size="12" text-anchor="start" fill="#1e1e1e" >1.6</text>
<line x1="357.50" y1="645.30" x2="357.50" y2="648.50" stroke="#333" stroke-width="1.3" />
<text x="357.50" y="663.30" font-size="12" text-anchor="middle" fill="#1e1e1e" >28</text>
<line x1="418.27" y1="645.30" x2="418.27" y2="648.50" stroke="#333" stroke-width="1.3" />
<text x="418.27" y="663.30" font-size="12" text-anchor="middle" fill="#1e1e1e" >23</text>
<line x1="479.05" y1="645.30" x2="479.05" y2="648.50" stroke="#333" stroke-width="1.3" />
<text x="479.05" y="663.30" font-size="12" text-anchor="middle" fill="#1e1e1e" >18</text>
<line x1="539.83" y1="645.30" x2="539.83" y2="648.50" stroke="#333" stroke-width="1.3" />
<text x="539.83" y="663.30" font-size="12" text-anchor="middle" fill="#1e1e1e" >13</text>
<line x1="600.60" y1="645.30" x2="600.60" y2="648.50" stroke="#333" stroke-width="1.3" />
<text x="600.60" y="663.30" font-size="12" text-anchor="middle" fill="#1e1e1e" >8</text>
<text x="479.20" y="680.80" font-size="12.4" text-anchor="middle" fill="#1e1e1e" >Temperature (°C)</text>
<text transform="translate(653.6,572.40) rotate(90)" font-size="12.5" text-anchor="middle" fill="#1e1e1e">Picocyanobacteria abundance</text>
<text transform="translate(639.2,572.10) rotate(90)" font-size="12.4" text-anchor="middle" fill="#1e1e1e">(×10<tspan font-size="8" dy="-4.5">5</tspan><tspan dy="4.5"> cells ml</tspan><tspan font-size="8" dy="-4.5">−1</tspan><tspan dy="4.5">)</tspan></text>
<line x1="95.80" y1="198.80" x2="100.20" y2="198.80" stroke="#0bad4c" stroke-width="2.2" />
<line x1="242.30" y1="198.80" x2="254.20" y2="198.80" stroke="#0bad4c" stroke-width="2.2" />
<rect x="44.10" y="10.30" width="131.60" height="78.30" fill="#fff" stroke="none" stroke-width="0"/>
<line x1="129.10" y1="73.90" x2="129.10" y2="88.30" stroke="#e4e4e4" stroke-width="0.7" />
<line x1="129.10" y1="88.30" x2="175.70" y2="88.30" stroke="#e8e8e8" stroke-width="0.7" />
<line x1="175.40" y1="10.30" x2="175.40" y2="88.30" stroke="#e8e8e8" stroke-width="0.7" />
<line x1="161.30" y1="10.40" x2="175.70" y2="10.40" stroke="#ececec" stroke-width="0.7" />
<rect x="110.40" y="12.00" width="17.60" height="61.90" fill="#eaeaea" stroke="none" stroke-width="0"/>
<line x1="129.30" y1="12.00" x2="129.30" y2="73.90" stroke="#222" stroke-width="0.8" stroke-dasharray="2.2,1.6"/>
<polyline points="83.60,37.30 86.20,36.60 88.70,45.80 90.40,32.80 92.80,32.30 97.10,34.70 102.30,37.10 107.00,34.70 111.30,42.80 112.70,44.20 116.10,41.80 119.80,40.90 121.70,40.40 123.80,35.20 125.50,36.10 128.90,29.00 131.70,30.90 134.60,33.80 136.90,39.00 138.30,48.50 139.30,62.70 140.70,70.30 142.10,74.10" fill="none" stroke="#0bad4c" stroke-width="2.1" stroke-linejoin="round" stroke-linecap="round" />
<polyline points="97.10,57.00 100.40,59.80 104.20,61.30 111.80,54.60 115.10,46.10 117.50,48.90 121.30,42.30 128.90,33.30 131.20,39.90 136.50,50.80 139.30,42.30 141.50,47.50" fill="none" stroke="#ff0000" stroke-width="2.1" stroke-linejoin="round" stroke-linecap="round" />
<circle cx="97.40" cy="48.00" r="1.6" fill="#000"/>
<circle cx="97.40" cy="57.00" r="1.6" fill="#000"/>
<circle cx="99.00" cy="58.90" r="1.6" fill="#000"/>
<circle cx="104.40" cy="57.80" r="1.6" fill="#000"/>
<circle cx="103.90" cy="64.80" r="1.6" fill="#000"/>
<circle cx="111.80" cy="54.90" r="1.6" fill="#000"/>
<circle cx="112.70" cy="53.70" r="1.6" fill="#000"/>
<circle cx="114.20" cy="45.60" r="1.6" fill="#000"/>
<circle cx="115.60" cy="44.90" r="1.6" fill="#000"/>
<circle cx="117.00" cy="44.90" r="1.6" fill="#000"/>
<circle cx="117.70" cy="55.10" r="1.6" fill="#000"/>
<circle cx="124.80" cy="26.60" r="1.6" fill="#000"/>
<circle cx="124.80" cy="46.40" r="1.6" fill="#000"/>
<circle cx="125.80" cy="37.40" r="1.6" fill="#000"/>
<circle cx="131.20" cy="39.90" r="1.6" fill="#000"/>
<circle cx="136.50" cy="51.30" r="1.6" fill="#000"/>
<circle cx="139.30" cy="41.80" r="1.6" fill="#000"/>
<circle cx="141.50" cy="47.50" r="1.6" fill="#000"/>
<line x1="70.10" y1="12.00" x2="70.10" y2="74.50" stroke="#333" stroke-width="1.3" />
<line x1="158.30" y1="12.00" x2="158.30" y2="74.50" stroke="#333" stroke-width="1.3" />
<line x1="67.10" y1="12.00" x2="161.30" y2="12.00" stroke="#333" stroke-width="1.3" />
<line x1="69.50" y1="73.90" x2="158.90" y2="73.90" stroke="#333" stroke-width="1.3" />
<line x1="67.10" y1="73.90" x2="70.10" y2="73.90" stroke="#333" stroke-width="1.3" />
<text x="62.20" y="78.40" font-size="12" text-anchor="end" fill="#1e1e1e" >0</text>
<line x1="67.10" y1="53.27" x2="70.10" y2="53.27" stroke="#333" stroke-width="1.3" />
<text x="62.20" y="57.77" font-size="12" text-anchor="end" fill="#1e1e1e" >0.5</text>
<line x1="67.10" y1="32.63" x2="70.10" y2="32.63" stroke="#333" stroke-width="1.3" />
<text x="62.20" y="37.13" font-size="12" text-anchor="end" fill="#1e1e1e" >1.0</text>
<line x1="67.10" y1="12.00" x2="70.10" y2="12.00" stroke="#333" stroke-width="1.3" />
<text x="62.20" y="16.50" font-size="12" text-anchor="end" fill="#1e1e1e" >1.5</text>
<line x1="158.30" y1="73.90" x2="161.30" y2="73.90" stroke="#333" stroke-width="1.3" />
<text x="166.50" y="78.40" font-size="12" text-anchor="start" fill="#1e1e1e" >0</text>
<line x1="158.30" y1="53.27" x2="161.30" y2="53.27" stroke="#333" stroke-width="1.3" />
<text x="166.50" y="57.77" font-size="12" text-anchor="start" fill="#1e1e1e" >1</text>
<line x1="158.30" y1="32.63" x2="161.30" y2="32.63" stroke="#333" stroke-width="1.3" />
<text x="166.50" y="37.13" font-size="12" text-anchor="start" fill="#1e1e1e" >2</text>
<line x1="158.30" y1="12.00" x2="161.30" y2="12.00" stroke="#333" stroke-width="1.3" />
<text x="166.50" y="16.50" font-size="12" text-anchor="start" fill="#1e1e1e" >3</text>
<line x1="70.10" y1="73.90" x2="70.10" y2="76.90" stroke="#333" stroke-width="1.3" />
<text x="70.10" y="90.90" font-size="12" text-anchor="middle" fill="#1e1e1e" >28</text>
<line x1="114.20" y1="73.90" x2="114.20" y2="76.90" stroke="#333" stroke-width="1.3" />
<text x="114.20" y="90.90" font-size="12" text-anchor="middle" fill="#1e1e1e" >18</text>
<line x1="158.30" y1="73.90" x2="158.30" y2="76.90" stroke="#333" stroke-width="1.3" />
<text x="158.30" y="90.90" font-size="12" text-anchor="middle" fill="#1e1e1e" >8</text>
<path d="M106.50,5.60 L112.50,5.60 L109.50,10.80 Z" fill="#111"/>
<rect x="358.00" y="10.30" width="130.00" height="78.70" fill="#fff" stroke="none" stroke-width="0"/>
<line x1="441.30" y1="73.90" x2="441.30" y2="88.70" stroke="#e4e4e4" stroke-width="0.7" />
<line x1="441.30" y1="88.70" x2="488.00" y2="88.70" stroke="#e8e8e8" stroke-width="0.7" />
<line x1="487.70" y1="10.30" x2="487.70" y2="88.70" stroke="#e8e8e8" stroke-width="0.7" />
<line x1="468.20" y1="10.40" x2="488.00" y2="10.40" stroke="#ececec" stroke-width="0.7" />
<rect x="422.30" y="12.00" width="17.50" height="61.90" fill="#eaeaea" stroke="none" stroke-width="0"/>
<line x1="441.50" y1="12.00" x2="441.50" y2="73.90" stroke="#222" stroke-width="0.8" stroke-dasharray="2.2,1.6"/>
<polyline points="396.40,73.30 437.70,73.30 439.60,70.30 441.30,72.80 443.80,64.00 445.50,57.50 447.50,52.00 448.70,55.00 449.70,63.50" fill="none" stroke="#fb80fb" stroke-width="2.1" stroke-linejoin="round" stroke-linecap="round" />
<polyline points="409.70,63.90 410.20,65.80 415.40,66.70 422.50,68.20 424.40,67.20 427.30,63.00 433.90,66.70 435.30,63.00 437.70,65.30 439.40,54.60 445.00,57.70 447.20,31.20 448.90,54.20" fill="none" stroke="#ff0000" stroke-width="2.1" stroke-linejoin="round" stroke-linecap="round" />
<circle cx="409.70" cy="63.10" r="1.6" fill="#000"/>
<circle cx="409.20" cy="65.80" r="1.6" fill="#000"/>
<circle cx="410.20" cy="67.20" r="1.6" fill="#000"/>
<circle cx="415.40" cy="66.70" r="1.6" fill="#000"/>
<circle cx="422.00" cy="68.20" r="1.6" fill="#000"/>
<circle cx="423.90" cy="67.70" r="1.6" fill="#000"/>
<circle cx="425.20" cy="66.30" r="1.6" fill="#000"/>
<circle cx="427.30" cy="62.80" r="1.6" fill="#000"/>
<circle cx="433.90" cy="68.80" r="1.6" fill="#000"/>
<circle cx="435.00" cy="62.80" r="1.6" fill="#000"/>
<circle cx="437.90" cy="65.60" r="1.6" fill="#000"/>
<circle cx="439.40" cy="54.60" r="1.6" fill="#000"/>
<circle cx="445.00" cy="57.70" r="1.6" fill="#000"/>
<circle cx="447.20" cy="31.20" r="1.6" fill="#000"/>
<circle cx="448.90" cy="54.20" r="1.6" fill="#000"/>
<line x1="384.00" y1="12.00" x2="384.00" y2="74.50" stroke="#333" stroke-width="1.3" />
<line x1="465.20" y1="12.00" x2="465.20" y2="74.50" stroke="#333" stroke-width="1.3" />
<line x1="381.00" y1="12.00" x2="468.20" y2="12.00" stroke="#333" stroke-width="1.3" />
<line x1="383.40" y1="73.90" x2="465.80" y2="73.90" stroke="#333" stroke-width="1.3" />
<line x1="381.00" y1="73.90" x2="384.00" y2="73.90" stroke="#333" stroke-width="1.3" />
<text x="376.10" y="78.40" font-size="12" text-anchor="end" fill="#1e1e1e" >0</text>
<line x1="381.00" y1="53.27" x2="384.00" y2="53.27" stroke="#333" stroke-width="1.3" />
<text x="376.10" y="57.77" font-size="12" text-anchor="end" fill="#1e1e1e" >0.5</text>
<line x1="381.00" y1="32.63" x2="384.00" y2="32.63" stroke="#333" stroke-width="1.3" />
<text x="376.10" y="37.13" font-size="12" text-anchor="end" fill="#1e1e1e" >1.0</text>
<line x1="381.00" y1="12.00" x2="384.00" y2="12.00" stroke="#333" stroke-width="1.3" />
<text x="376.10" y="16.50" font-size="12" text-anchor="end" fill="#1e1e1e" >1.5</text>
<line x1="465.20" y1="73.90" x2="468.20" y2="73.90" stroke="#333" stroke-width="1.3" />
<text x="473.40" y="78.40" font-size="12" text-anchor="start" fill="#1e1e1e" >0</text>
<line x1="465.20" y1="42.95" x2="468.20" y2="42.95" stroke="#333" stroke-width="1.3" />
<text x="473.40" y="47.45" font-size="12" text-anchor="start" fill="#1e1e1e" >0.8</text>
<line x1="465.20" y1="12.00" x2="468.20" y2="12.00" stroke="#333" stroke-width="1.3" />
<text x="473.40" y="16.50" font-size="12" text-anchor="start" fill="#1e1e1e" >1.6</text>
<line x1="384.00" y1="73.90" x2="384.00" y2="76.90" stroke="#333" stroke-width="1.3" />
<text x="384.00" y="90.90" font-size="12" text-anchor="middle" fill="#1e1e1e" >28</text>
<line x1="424.60" y1="73.90" x2="424.60" y2="76.90" stroke="#333" stroke-width="1.3" />
<text x="424.60" y="90.90" font-size="12" text-anchor="middle" fill="#1e1e1e" >18</text>
<line x1="465.20" y1="73.90" x2="465.20" y2="76.90" stroke="#333" stroke-width="1.3" />
<text x="465.20" y="90.90" font-size="12" text-anchor="middle" fill="#1e1e1e" >8</text>
<path d="M417.50,5.60 L423.50,5.60 L420.50,10.80 Z" fill="#111"/>
<circle cx="560.5" cy="686.9" r="4.1" fill="#0bad4c"/>
<text x="570.40" y="691.20" font-size="12.45" text-anchor="start" fill="#1e1e1e" font-style="italic" >Prochlorococcus</text>
<circle cx="560.5" cy="700.3" r="4.1" fill="#fb80fb"/>
<text x="570.40" y="704.60" font-size="12.45" text-anchor="start" fill="#1e1e1e" font-style="italic" >Synechococcus</text>
<circle cx="560.5" cy="713.8" r="4.1" fill="#000"/>
<text x="570.40" y="718.10" font-size="12.45" text-anchor="start" fill="#1e1e1e" >Percentage infection</text>
<line x1="555.50" y1="726.50" x2="558.80" y2="726.50" stroke="#222" stroke-width="1.2" />
<line x1="562.30" y1="726.50" x2="565.60" y2="726.50" stroke="#222" stroke-width="1.2" />
<text x="570.40" y="730.80" font-size="12.45" text-anchor="start" fill="#1e1e1e" >Chlorophyll front</text>
<rect x="556.30" y="733.60" width="8.40" height="8.40" fill="#dcdcdc" stroke="none" stroke-width="0"/>
<text x="570.40" y="742.10" font-size="12.45" text-anchor="start" fill="#1e1e1e" >Virus hotspot</text>
<path d="M556.40,756.80 L564.80,756.80 L560.60,749.60 Z" fill="#111"/>
<text x="570.40" y="757.90" font-size="12.45" text-anchor="start" fill="#1e1e1e" >Transition zone –</text>
<text x="570.40" y="772.10" font-size="12.45" text-anchor="start" fill="#1e1e1e" >subtropical boundary</text></svg></body></html>
